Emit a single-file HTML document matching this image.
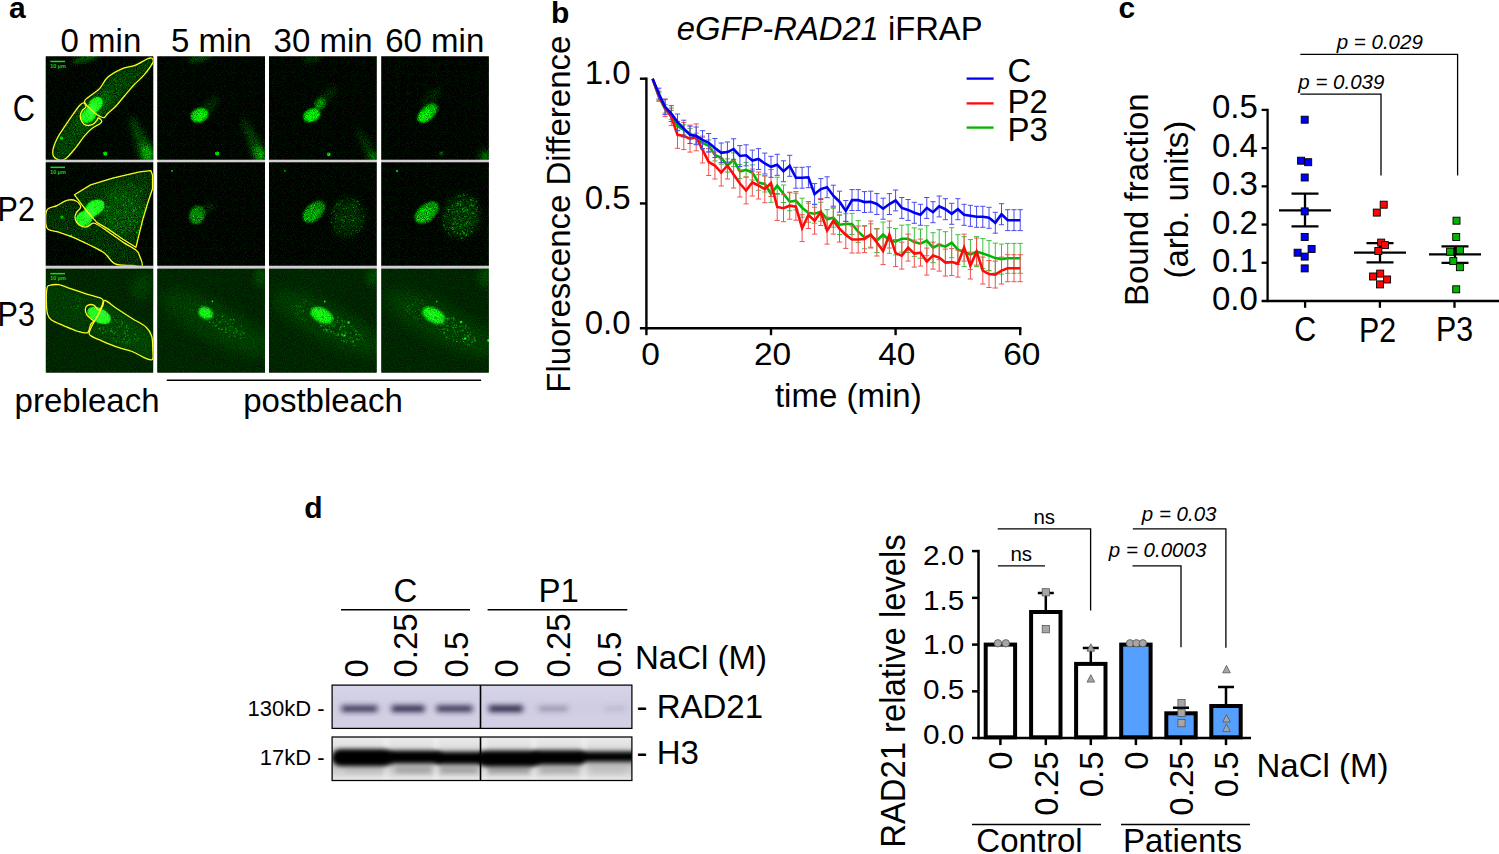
<!DOCTYPE html>
<html><head><meta charset="utf-8"><title>Figure</title>
<style>
html,body{margin:0;padding:0;background:#fff;}
body{width:1499px;height:854px;overflow:hidden;font-family:"Liberation Sans",sans-serif;}
svg{display:block;}
svg text{font-family:"Liberation Sans",sans-serif;}
</style></head><body>
<svg width="1499" height="854" viewBox="0 0 1499 854">
<defs>
<filter id="bl0_6" x="-50%" y="-50%" width="200%" height="200%"><feGaussianBlur stdDeviation="0.6"/></filter>
<filter id="bl0_8" x="-50%" y="-50%" width="200%" height="200%"><feGaussianBlur stdDeviation="0.8"/></filter>
<filter id="bl1" x="-50%" y="-50%" width="200%" height="200%"><feGaussianBlur stdDeviation="1"/></filter>
<filter id="bl1_2" x="-50%" y="-50%" width="200%" height="200%"><feGaussianBlur stdDeviation="1.2"/></filter>
<filter id="bl1_5" x="-50%" y="-50%" width="200%" height="200%"><feGaussianBlur stdDeviation="1.5"/></filter>
<filter id="bl2" x="-50%" y="-50%" width="200%" height="200%"><feGaussianBlur stdDeviation="2"/></filter>
<filter id="bl2_5" x="-50%" y="-50%" width="200%" height="200%"><feGaussianBlur stdDeviation="2.5"/></filter>
<filter id="bl3" x="-50%" y="-50%" width="200%" height="200%"><feGaussianBlur stdDeviation="3"/></filter>
<filter id="bl4" x="-50%" y="-50%" width="200%" height="200%"><feGaussianBlur stdDeviation="4"/></filter>
<filter id="bl5" x="-50%" y="-50%" width="200%" height="200%"><feGaussianBlur stdDeviation="5"/></filter>
<filter id="bl6" x="-50%" y="-50%" width="200%" height="200%"><feGaussianBlur stdDeviation="6"/></filter>
<filter id="bl8" x="-50%" y="-50%" width="200%" height="200%"><feGaussianBlur stdDeviation="8"/></filter>
<clipPath id="cp1"><rect x="0" y="0" width="107.8" height="103.5"/></clipPath>
<filter id="nz1" filterUnits="userSpaceOnUse" x="0" y="0" width="107.8" height="103.5" color-interpolation-filters="sRGB"><feTurbulence type="fractalNoise" baseFrequency="1.1" numOctaves="1" seed="4" result="t"/><feColorMatrix in="t" type="matrix" values="0 0 0 0 0  1.5 0 0 0 -0.25  0 0 0 0 0  0 0 0 0 1" result="n"/><feComposite in="SourceGraphic" in2="n" operator="arithmetic" k1="1.1" k2="0.47" k3="0.26" k4="-0.135"/></filter>
<clipPath id="cp2"><rect x="0" y="0" width="107.8" height="103.5"/></clipPath>
<filter id="nz2" filterUnits="userSpaceOnUse" x="0" y="0" width="107.8" height="103.5" color-interpolation-filters="sRGB"><feTurbulence type="fractalNoise" baseFrequency="1.1" numOctaves="1" seed="7" result="t"/><feColorMatrix in="t" type="matrix" values="0 0 0 0 0  1.5 0 0 0 -0.25  0 0 0 0 0  0 0 0 0 1" result="n"/><feComposite in="SourceGraphic" in2="n" operator="arithmetic" k1="1.1" k2="0.47" k3="0.26" k4="-0.135"/></filter>
<clipPath id="cp3"><rect x="0" y="0" width="107.8" height="103.5"/></clipPath>
<filter id="nz3" filterUnits="userSpaceOnUse" x="0" y="0" width="107.8" height="103.5" color-interpolation-filters="sRGB"><feTurbulence type="fractalNoise" baseFrequency="1.1" numOctaves="1" seed="10" result="t"/><feColorMatrix in="t" type="matrix" values="0 0 0 0 0  1.5 0 0 0 -0.25  0 0 0 0 0  0 0 0 0 1" result="n"/><feComposite in="SourceGraphic" in2="n" operator="arithmetic" k1="1.1" k2="0.47" k3="0.26" k4="-0.135"/></filter>
<clipPath id="cp4"><rect x="0" y="0" width="107.7" height="103.5"/></clipPath>
<filter id="nz4" filterUnits="userSpaceOnUse" x="0" y="0" width="107.7" height="103.5" color-interpolation-filters="sRGB"><feTurbulence type="fractalNoise" baseFrequency="1.1" numOctaves="1" seed="13" result="t"/><feColorMatrix in="t" type="matrix" values="0 0 0 0 0  1.5 0 0 0 -0.25  0 0 0 0 0  0 0 0 0 1" result="n"/><feComposite in="SourceGraphic" in2="n" operator="arithmetic" k1="1.1" k2="0.47" k3="0.26" k4="-0.135"/></filter>
<clipPath id="cp5"><rect x="0" y="0" width="107.8" height="103.6"/></clipPath>
<filter id="nz5" filterUnits="userSpaceOnUse" x="0" y="0" width="107.8" height="103.6" color-interpolation-filters="sRGB"><feTurbulence type="fractalNoise" baseFrequency="1.1" numOctaves="1" seed="16" result="t"/><feColorMatrix in="t" type="matrix" values="0 0 0 0 0  1.5 0 0 0 -0.25  0 0 0 0 0  0 0 0 0 1" result="n"/><feComposite in="SourceGraphic" in2="n" operator="arithmetic" k1="1.1" k2="0.47" k3="0.26" k4="-0.135"/></filter>
<clipPath id="cp6"><rect x="0" y="0" width="107.8" height="103.6"/></clipPath>
<filter id="nz6" filterUnits="userSpaceOnUse" x="0" y="0" width="107.8" height="103.6" color-interpolation-filters="sRGB"><feTurbulence type="fractalNoise" baseFrequency="1.1" numOctaves="1" seed="19" result="t"/><feColorMatrix in="t" type="matrix" values="0 0 0 0 0  1.5 0 0 0 -0.25  0 0 0 0 0  0 0 0 0 1" result="n"/><feComposite in="SourceGraphic" in2="n" operator="arithmetic" k1="1.1" k2="0.47" k3="0.26" k4="-0.135"/></filter>
<clipPath id="cp7"><rect x="0" y="0" width="107.8" height="103.6"/></clipPath>
<filter id="nz7" filterUnits="userSpaceOnUse" x="0" y="0" width="107.8" height="103.6" color-interpolation-filters="sRGB"><feTurbulence type="fractalNoise" baseFrequency="1.1" numOctaves="1" seed="22" result="t"/><feColorMatrix in="t" type="matrix" values="0 0 0 0 0  1.5 0 0 0 -0.25  0 0 0 0 0  0 0 0 0 1" result="n"/><feComposite in="SourceGraphic" in2="n" operator="arithmetic" k1="1.1" k2="0.47" k3="0.26" k4="-0.135"/></filter>
<clipPath id="cp8"><rect x="0" y="0" width="107.7" height="103.6"/></clipPath>
<filter id="nz8" filterUnits="userSpaceOnUse" x="0" y="0" width="107.7" height="103.6" color-interpolation-filters="sRGB"><feTurbulence type="fractalNoise" baseFrequency="1.1" numOctaves="1" seed="25" result="t"/><feColorMatrix in="t" type="matrix" values="0 0 0 0 0  1.5 0 0 0 -0.25  0 0 0 0 0  0 0 0 0 1" result="n"/><feComposite in="SourceGraphic" in2="n" operator="arithmetic" k1="1.1" k2="0.47" k3="0.26" k4="-0.135"/></filter>
<clipPath id="cp9"><rect x="0" y="0" width="107.8" height="104.2"/></clipPath>
<filter id="nz9" filterUnits="userSpaceOnUse" x="0" y="0" width="107.8" height="104.2" color-interpolation-filters="sRGB"><feTurbulence type="fractalNoise" baseFrequency="1.1" numOctaves="1" seed="28" result="t"/><feColorMatrix in="t" type="matrix" values="0 0 0 0 0  1.5 0 0 0 -0.25  0 0 0 0 0  0 0 0 0 1" result="n"/><feComposite in="SourceGraphic" in2="n" operator="arithmetic" k1="0.8" k2="0.6" k3="0.07" k4="-0.035"/></filter>
<clipPath id="cp10"><rect x="0" y="0" width="107.8" height="104.2"/></clipPath>
<filter id="nz10" filterUnits="userSpaceOnUse" x="0" y="0" width="107.8" height="104.2" color-interpolation-filters="sRGB"><feTurbulence type="fractalNoise" baseFrequency="1.1" numOctaves="1" seed="31" result="t"/><feColorMatrix in="t" type="matrix" values="0 0 0 0 0  1.5 0 0 0 -0.25  0 0 0 0 0  0 0 0 0 1" result="n"/><feComposite in="SourceGraphic" in2="n" operator="arithmetic" k1="0.8" k2="0.6" k3="0.07" k4="-0.035"/></filter>
<clipPath id="cp11"><rect x="0" y="0" width="107.8" height="104.2"/></clipPath>
<filter id="nz11" filterUnits="userSpaceOnUse" x="0" y="0" width="107.8" height="104.2" color-interpolation-filters="sRGB"><feTurbulence type="fractalNoise" baseFrequency="1.1" numOctaves="1" seed="34" result="t"/><feColorMatrix in="t" type="matrix" values="0 0 0 0 0  1.5 0 0 0 -0.25  0 0 0 0 0  0 0 0 0 1" result="n"/><feComposite in="SourceGraphic" in2="n" operator="arithmetic" k1="0.8" k2="0.6" k3="0.07" k4="-0.035"/></filter>
<clipPath id="cp12"><rect x="0" y="0" width="107.7" height="104.2"/></clipPath>
<filter id="nz12" filterUnits="userSpaceOnUse" x="0" y="0" width="107.7" height="104.2" color-interpolation-filters="sRGB"><feTurbulence type="fractalNoise" baseFrequency="1.1" numOctaves="1" seed="37" result="t"/><feColorMatrix in="t" type="matrix" values="0 0 0 0 0  1.5 0 0 0 -0.25  0 0 0 0 0  0 0 0 0 1" result="n"/><feComposite in="SourceGraphic" in2="n" operator="arithmetic" k1="0.8" k2="0.6" k3="0.07" k4="-0.035"/></filter>
<clipPath id="cpR"><rect x="332.1" y="685.1" width="299.79999999999995" height="43.299999999999955"/></clipPath>
<clipPath id="cpH"><rect x="332.1" y="737.0" width="299.79999999999995" height="43.5"/></clipPath>
<linearGradient id="gH" x1="0" y1="0" x2="0" y2="1"><stop offset="0" stop-color="#ececec"/><stop offset="0.2" stop-color="#e0e0e0"/><stop offset="0.33" stop-color="#c8c8c8"/><stop offset="0.5" stop-color="#a8a8a8"/><stop offset="0.68" stop-color="#c2c2c2"/><stop offset="0.85" stop-color="#d4d4d4"/><stop offset="1" stop-color="#ebebeb"/></linearGradient>
<linearGradient id="gR" x1="0" y1="0" x2="0" y2="1"><stop offset="0" stop-color="#d6d4e8"/><stop offset="0.5" stop-color="#d0cde3"/><stop offset="1" stop-color="#d3d1e6"/></linearGradient>
</defs>
<rect x="0" y="0" width="1499" height="854" fill="#fff"/>
<rect x="45.6" y="56.3" width="443.29999999999995" height="316.4" fill="#fff"/>
<rect x="45.6" y="159.6" width="443.29999999999995" height="2.8" fill="#d0d0d0"/>
<rect x="45.6" y="265.6" width="443.29999999999995" height="3.1" fill="#d0d0d0"/>
<rect x="153.5" y="56.3" width="4.2" height="316.4" fill="#fff"/>
<rect x="265.0" y="56.3" width="4.2" height="316.4" fill="#fff"/>
<rect x="376.8" y="56.3" width="4.2" height="316.4" fill="#fff"/>
<g transform="translate(45.6,56.3)" clip-path="url(#cp1)"><g filter="url(#nz1)"><rect x="0" y="0" width="107.8" height="103.5" fill="#000500"/><path d="M38.9,45.1 C41.0,43.3 44.0,40.4 46.6,38.2 C49.2,36.0 51.7,34.9 54.2,32.1 C56.8,29.3 58.3,24.5 61.9,21.3 C65.5,18.1 71.1,15.0 75.7,12.9 C80.3,10.8 85.2,10.7 89.5,9.0 C93.8,7.3 99.0,3.8 101.8,2.6 C104.6,1.4 105.5,1.4 106.4,2.0 C107.3,2.6 108.5,3.6 107.2,6.3 C105.9,9.0 101.9,14.5 98.7,18.3 C95.5,22.1 91.3,25.4 88.0,29.0 C84.7,32.6 81.9,36.1 78.8,39.7 C75.7,43.3 72.4,47.5 69.6,50.5 C66.8,53.5 64.1,55.0 61.9,57.4 C59.6,59.8 57.4,62.9 56.1,64.6 C54.8,66.3 55.8,66.2 54.2,67.4 C52.6,68.6 49.2,70.0 46.6,72.0 C44.0,74.0 41.7,76.3 38.9,79.6 C36.1,82.9 32.8,88.2 29.7,91.9 C26.6,95.6 23.1,99.9 20.5,101.9 C17.9,103.9 16.4,104.2 14.3,103.9 C12.2,103.6 9.3,102.0 8.2,100.3 C7.0,98.5 6.9,96.3 7.4,93.4 C7.9,90.5 9.4,86.5 11.3,82.7 C13.2,78.9 16.3,74.5 19.0,70.4 C21.7,66.3 24.8,61.7 27.4,58.1 C29.9,54.5 32.4,51.1 34.3,48.9 C36.2,46.7 36.8,46.9 38.9,45.1Z" fill="#135213" opacity="0.75" filter="url(#bl2)"/><ellipse cx="50" cy="52" rx="22" ry="7" transform="rotate(-48 50 52)" fill="#1f7a1f" opacity="0.55" filter="url(#bl3)"/><circle cx="46.5" cy="60.1" r="0.66" fill="#2e9a2e" opacity="0.23"/><circle cx="30.3" cy="72.3" r="0.42" fill="#2e9a2e" opacity="0.40"/><circle cx="71.5" cy="30.0" r="0.43" fill="#2e9a2e" opacity="0.24"/><circle cx="26.5" cy="83.1" r="0.45" fill="#2e9a2e" opacity="0.29"/><circle cx="24.1" cy="72.4" r="0.63" fill="#2e9a2e" opacity="0.36"/><circle cx="56.7" cy="44.2" r="0.74" fill="#2e9a2e" opacity="0.32"/><circle cx="58.4" cy="45.9" r="0.52" fill="#2e9a2e" opacity="0.53"/><circle cx="64.4" cy="44.2" r="0.66" fill="#2e9a2e" opacity="0.35"/><circle cx="41.9" cy="60.1" r="0.42" fill="#2e9a2e" opacity="0.28"/><circle cx="37.6" cy="58.7" r="0.53" fill="#2e9a2e" opacity="0.43"/><circle cx="34.1" cy="71.5" r="0.72" fill="#2e9a2e" opacity="0.48"/><circle cx="55.4" cy="55.1" r="0.61" fill="#2e9a2e" opacity="0.55"/><circle cx="44.6" cy="51.6" r="0.79" fill="#2e9a2e" opacity="0.25"/><circle cx="28.2" cy="81.3" r="0.46" fill="#2e9a2e" opacity="0.40"/><circle cx="76.6" cy="24.8" r="0.71" fill="#2e9a2e" opacity="0.43"/><circle cx="60.4" cy="35.7" r="0.68" fill="#2e9a2e" opacity="0.44"/><circle cx="29.1" cy="71.4" r="0.74" fill="#2e9a2e" opacity="0.58"/><circle cx="25.0" cy="81.4" r="0.42" fill="#2e9a2e" opacity="0.48"/><circle cx="26.0" cy="69.2" r="0.73" fill="#2e9a2e" opacity="0.31"/><circle cx="33.4" cy="76.9" r="0.41" fill="#2e9a2e" opacity="0.38"/><circle cx="57.2" cy="47.6" r="0.42" fill="#2e9a2e" opacity="0.51"/><circle cx="63.1" cy="41.7" r="0.56" fill="#2e9a2e" opacity="0.55"/><circle cx="70.8" cy="32.8" r="0.62" fill="#2e9a2e" opacity="0.55"/><circle cx="57.6" cy="33.5" r="0.51" fill="#2e9a2e" opacity="0.37"/><circle cx="35.3" cy="77.1" r="0.78" fill="#2e9a2e" opacity="0.26"/><circle cx="59.5" cy="46.6" r="0.49" fill="#2e9a2e" opacity="0.39"/><circle cx="34.4" cy="66.0" r="0.40" fill="#2e9a2e" opacity="0.37"/><circle cx="36.8" cy="73.2" r="0.78" fill="#2e9a2e" opacity="0.48"/><circle cx="24.4" cy="79.5" r="0.67" fill="#2e9a2e" opacity="0.22"/><circle cx="69.8" cy="23.8" r="0.75" fill="#2e9a2e" opacity="0.52"/><circle cx="36.5" cy="71.7" r="0.44" fill="#2e9a2e" opacity="0.45"/><circle cx="58.3" cy="44.0" r="0.48" fill="#2e9a2e" opacity="0.26"/><circle cx="47.2" cy="57.4" r="0.40" fill="#2e9a2e" opacity="0.26"/><circle cx="67.7" cy="36.6" r="0.41" fill="#2e9a2e" opacity="0.55"/><circle cx="39.2" cy="61.0" r="0.50" fill="#2e9a2e" opacity="0.34"/><circle cx="44.2" cy="61.6" r="0.74" fill="#2e9a2e" opacity="0.60"/><circle cx="29.0" cy="77.0" r="0.43" fill="#2e9a2e" opacity="0.24"/><circle cx="43.5" cy="64.4" r="0.73" fill="#2e9a2e" opacity="0.26"/><circle cx="81.8" cy="18.3" r="0.61" fill="#2e9a2e" opacity="0.26"/><circle cx="44.6" cy="57.4" r="0.61" fill="#2e9a2e" opacity="0.59"/><circle cx="63.8" cy="29.2" r="0.50" fill="#2e9a2e" opacity="0.35"/><circle cx="68.6" cy="40.5" r="0.61" fill="#2e9a2e" opacity="0.51"/><circle cx="45.2" cy="62.3" r="0.72" fill="#2e9a2e" opacity="0.59"/><circle cx="63.1" cy="28.9" r="0.73" fill="#2e9a2e" opacity="0.50"/><circle cx="57.6" cy="52.1" r="0.54" fill="#2e9a2e" opacity="0.21"/><circle cx="67.3" cy="33.9" r="0.50" fill="#2e9a2e" opacity="0.48"/><circle cx="69.6" cy="28.1" r="0.77" fill="#2e9a2e" opacity="0.60"/><circle cx="67.6" cy="30.4" r="0.49" fill="#2e9a2e" opacity="0.29"/><circle cx="57.3" cy="49.0" r="0.65" fill="#2e9a2e" opacity="0.56"/><circle cx="58.5" cy="35.6" r="0.66" fill="#2e9a2e" opacity="0.52"/><circle cx="74.9" cy="29.2" r="0.76" fill="#2e9a2e" opacity="0.51"/><circle cx="45.9" cy="48.3" r="0.47" fill="#2e9a2e" opacity="0.52"/><circle cx="40.4" cy="72.0" r="0.79" fill="#2e9a2e" opacity="0.36"/><circle cx="27.9" cy="83.3" r="0.69" fill="#2e9a2e" opacity="0.27"/><circle cx="60.4" cy="43.8" r="0.76" fill="#2e9a2e" opacity="0.52"/><circle cx="72.0" cy="36.2" r="0.79" fill="#2e9a2e" opacity="0.46"/><circle cx="39.5" cy="70.8" r="0.45" fill="#2e9a2e" opacity="0.21"/><circle cx="74.6" cy="22.9" r="0.61" fill="#2e9a2e" opacity="0.57"/><circle cx="24.8" cy="84.5" r="0.73" fill="#2e9a2e" opacity="0.28"/><circle cx="53.0" cy="55.1" r="0.50" fill="#2e9a2e" opacity="0.43"/><circle cx="52.6" cy="56.8" r="0.45" fill="#2e9a2e" opacity="0.56"/><circle cx="40.0" cy="69.5" r="0.63" fill="#2e9a2e" opacity="0.56"/><circle cx="25.7" cy="84.5" r="0.60" fill="#2e9a2e" opacity="0.41"/><circle cx="45.5" cy="56.7" r="0.58" fill="#2e9a2e" opacity="0.27"/><circle cx="78.8" cy="20.2" r="0.47" fill="#2e9a2e" opacity="0.39"/><circle cx="41.9" cy="52.2" r="0.53" fill="#2e9a2e" opacity="0.41"/><circle cx="21.5" cy="80.1" r="0.44" fill="#2e9a2e" opacity="0.42"/><circle cx="53.3" cy="54.6" r="0.71" fill="#2e9a2e" opacity="0.40"/><circle cx="22.1" cy="79.0" r="0.76" fill="#2e9a2e" opacity="0.38"/><circle cx="29.9" cy="68.8" r="0.60" fill="#2e9a2e" opacity="0.48"/><circle cx="28.9" cy="78.0" r="0.59" fill="#2e9a2e" opacity="0.58"/><circle cx="35.3" cy="57.7" r="0.78" fill="#2e9a2e" opacity="0.30"/><circle cx="18.9" cy="82.4" r="0.74" fill="#2e9a2e" opacity="0.25"/><circle cx="68.2" cy="37.3" r="0.43" fill="#2e9a2e" opacity="0.30"/><circle cx="75.7" cy="27.8" r="0.71" fill="#2e9a2e" opacity="0.56"/><circle cx="69.5" cy="38.7" r="0.66" fill="#2e9a2e" opacity="0.26"/><circle cx="69.5" cy="22.5" r="0.49" fill="#2e9a2e" opacity="0.58"/><circle cx="34.5" cy="74.2" r="0.80" fill="#2e9a2e" opacity="0.53"/><circle cx="64.5" cy="42.6" r="0.61" fill="#2e9a2e" opacity="0.34"/><circle cx="59.2" cy="48.1" r="0.69" fill="#2e9a2e" opacity="0.21"/><circle cx="28.6" cy="73.1" r="0.41" fill="#2e9a2e" opacity="0.33"/><circle cx="30.6" cy="67.5" r="0.43" fill="#2e9a2e" opacity="0.59"/><circle cx="51.9" cy="38.5" r="0.44" fill="#2e9a2e" opacity="0.31"/><circle cx="78.8" cy="22.6" r="0.51" fill="#2e9a2e" opacity="0.25"/><circle cx="25.6" cy="84.5" r="0.73" fill="#2e9a2e" opacity="0.30"/><circle cx="72.8" cy="35.9" r="0.63" fill="#2e9a2e" opacity="0.48"/><circle cx="57.3" cy="45.4" r="0.68" fill="#2e9a2e" opacity="0.37"/><circle cx="80.5" cy="23.2" r="0.65" fill="#2e9a2e" opacity="0.52"/><circle cx="78.5" cy="25.9" r="0.43" fill="#2e9a2e" opacity="0.55"/><circle cx="33.1" cy="72.8" r="0.62" fill="#2e9a2e" opacity="0.57"/><ellipse cx="40.4" cy="2.0" rx="14" ry="3.5" transform="rotate(-15 40.4 2.0)" fill="#1f7a1f" opacity="0.7" filter="url(#bl2)"/><path d="M83,60 L87,60 L108,90 L108,104 L94,104 Z" fill="#187018" opacity="0.6" filter="url(#bl3)"/><path d="M95,88 L102,89 L108,97 L108,104 L98,104 Z" fill="#34c434" opacity="0.8" filter="url(#bl2_5)"/><ellipse cx="49.8" cy="48.4" rx="8.6" ry="6.2" transform="rotate(-48 49.8 48.4)" fill="#25f025" opacity="1" filter="url(#bl0_6)"/><ellipse cx="42.6" cy="59.3" rx="8.3" ry="6.4" transform="rotate(-40 42.6 59.3)" fill="#25f025" opacity="1" filter="url(#bl0_6)"/><ellipse cx="46" cy="54" rx="6" ry="5" transform="rotate(-48 46 54)" fill="#2cf52c" opacity="1" filter="url(#bl0_6)"/><circle cx="15.9" cy="81.9" r="1.7" fill="#35d035" filter="url(#bl0_6)"/><circle cx="59.6" cy="97.3" r="2.2" fill="#3fe83f" filter="url(#bl0_6)"/></g><ellipse cx="49.8" cy="48.4" rx="8.0" ry="5.6" transform="rotate(-48 49.8 48.4)" fill="#3cff3c" opacity="0.55" filter="url(#bl1)"/><ellipse cx="42.6" cy="59.3" rx="7.6" ry="5.8" transform="rotate(-40 42.6 59.3)" fill="#3cff3c" opacity="0.55" filter="url(#bl1)"/><ellipse cx="46" cy="54" rx="5.5" ry="4.5" transform="rotate(-48 46 54)" fill="#3cff3c" opacity="0.5" filter="url(#bl1)"/><path d="M38.9,45.1 C39.2,42.7 44.0,40.4 46.6,38.2 C49.2,36.0 51.7,34.9 54.2,32.1 C56.8,29.3 58.3,24.5 61.9,21.3 C65.5,18.1 71.1,15.0 75.7,12.9 C80.3,10.8 85.2,10.7 89.5,9.0 C93.8,7.3 99.0,3.8 101.8,2.6 C104.6,1.4 105.5,1.4 106.4,2.0 C107.3,2.6 108.5,3.6 107.2,6.3 C105.9,9.0 101.9,14.5 98.7,18.3 C95.5,22.1 91.3,25.4 88.0,29.0 C84.7,32.6 81.9,36.1 78.8,39.7 C75.7,43.3 72.4,47.5 69.6,50.5 C66.8,53.5 63.7,55.6 61.9,57.4 C60.1,59.2 59.9,60.7 58.8,61.2 C57.6,61.7 56.3,60.9 55.0,60.4 C53.7,59.9 52.9,59.4 51.2,58.1 C49.5,56.8 47.0,55.0 45.0,52.8 C43.0,50.6 38.6,47.5 38.9,45.1Z" fill="none" stroke="#fafa1e" stroke-width="1.3"/><path d="M38.1,46.6 C37.1,46.3 36.1,47.0 34.3,48.9 C32.5,50.8 29.9,54.5 27.4,58.1 C24.8,61.7 21.7,66.3 19.0,70.4 C16.3,74.5 13.2,78.9 11.3,82.7 C9.4,86.5 7.9,90.5 7.4,93.4 C6.9,96.3 7.0,98.5 8.2,100.3 C9.3,102.0 12.2,103.6 14.3,103.9 C16.4,104.2 17.9,103.9 20.5,101.9 C23.1,99.9 26.6,95.6 29.7,91.9 C32.8,88.2 36.1,82.9 38.9,79.6 C41.7,76.3 44.0,74.0 46.6,72.0 C49.2,70.0 52.6,68.6 54.2,67.4 C55.8,66.2 56.4,65.5 56.1,64.6 C55.9,63.6 53.6,61.7 52.7,61.7 C51.8,61.7 51.9,63.5 50.9,64.6 C49.9,65.7 48.4,67.7 46.6,68.4 C44.9,69.1 42.1,69.3 40.4,68.9 C38.7,68.5 37.6,67.3 36.6,65.8 C35.6,64.3 34.6,61.6 34.6,59.7 C34.6,57.8 35.6,55.8 36.6,54.3 C37.6,52.8 40.1,51.8 40.4,50.5 C40.6,49.2 39.1,46.9 38.1,46.6Z" fill="none" stroke="#fafa1e" stroke-width="1.3"/><rect x="4.8" y="4.4" width="14.6" height="1.5" fill="#10e010"/><text x="4.6" y="11.6" font-size="5.2" font-weight="bold" fill="#10d810" textLength="15.6" lengthAdjust="spacingAndGlyphs">10 µm</text></g>
<g transform="translate(157.2,56.3)" clip-path="url(#cp2)"><g filter="url(#nz2)"><rect x="0" y="0" width="107.8" height="103.5" fill="#000500"/><ellipse cx="42.4" cy="2.0" rx="12" ry="3" transform="rotate(-10 42.4 2.0)" fill="#1f7a1f" opacity="0.6" filter="url(#bl2)"/><ellipse cx="52" cy="50" rx="14" ry="5" transform="rotate(-45 52 50)" fill="#135513" opacity="0.5" filter="url(#bl3)"/><path d="M84,63 L88,63 L108,92 L108,104 L96,104 Z" fill="#187018" opacity="0.55" filter="url(#bl3)"/><path d="M97,90 L103,91 L108,98 L108,104 L99.5,104 Z" fill="#34c434" opacity="0.75" filter="url(#bl2_5)"/><ellipse cx="42.4" cy="58.9" rx="9.0" ry="6.8" transform="rotate(-20 42.4 58.9)" fill="#2fd82f" opacity="1" filter="url(#bl1)"/><ellipse cx="41.5" cy="60.5" rx="6" ry="4.2" transform="rotate(-20 41.5 60.5)" fill="#38ee38" opacity="0.8" filter="url(#bl1)"/><circle cx="60" cy="97.3" r="2.0" fill="#3fe83f" filter="url(#bl0_6)"/></g></g>
<g transform="translate(269.0,56.3)" clip-path="url(#cp3)"><g filter="url(#nz3)"><rect x="0" y="0" width="107.8" height="103.5" fill="#000500"/><ellipse cx="43" cy="3" rx="10" ry="3" transform="rotate(-10 43 3)" fill="#176517" opacity="0.5" filter="url(#bl2)"/><ellipse cx="58" cy="40" rx="14" ry="5" transform="rotate(-50 58 40)" fill="#0f4a0f" opacity="0.5" filter="url(#bl3)"/><path d="M86,72 L90,72 L108,95 L108,104 L99,104 Z" fill="#145c14" opacity="0.5" filter="url(#bl3)"/><path d="M100,96 L105,97 L108,101 L108,104 L102,104 Z" fill="#2db02d" opacity="0.65" filter="url(#bl2_5)"/><ellipse cx="51.2" cy="47.4" rx="6.0" ry="5.0" transform="rotate(-50 51.2 47.4)" fill="#229a22" opacity="0.85" filter="url(#bl1_5)"/><ellipse cx="42.8" cy="58.9" rx="8.9" ry="6.4" transform="rotate(-25 42.8 58.9)" fill="#2fdc2f" opacity="1" filter="url(#bl1)"/><ellipse cx="42.0" cy="60" rx="6" ry="4" transform="rotate(-25 42.0 60)" fill="#3af03a" opacity="0.8" filter="url(#bl1)"/><circle cx="59.7" cy="98" r="1.9" fill="#3fe03f" filter="url(#bl0_6)"/></g></g>
<g transform="translate(381.2,56.3)" clip-path="url(#cp4)"><g filter="url(#nz4)"><rect x="0" y="0" width="107.7" height="103.5" fill="#000500"/><ellipse cx="50" cy="42" rx="14" ry="5" transform="rotate(-50 50 42)" fill="#0f450f" opacity="0.5" filter="url(#bl3)"/><ellipse cx="104" cy="100" rx="6" ry="6" transform="rotate(0 104 100)" fill="#2aa02a" opacity="0.6" filter="url(#bl3)"/><ellipse cx="46.5" cy="56.6" rx="12.0" ry="6.6" transform="rotate(-42 46.5 56.6)" fill="#28b828" opacity="0.95" filter="url(#bl1_2)"/><ellipse cx="43.5" cy="59.6" rx="7.5" ry="5.0" transform="rotate(-35 43.5 59.6)" fill="#38e838" opacity="0.9" filter="url(#bl1_2)"/><circle cx="60.3" cy="97.3" r="1.6" fill="#2aa52a" filter="url(#bl1)"/></g></g>
<g transform="translate(45.6,162.2)" clip-path="url(#cp5)"><g filter="url(#nz5)"><rect x="0" y="0" width="107.8" height="103.6" fill="#000500"/><path d="M28.9,32.6 L45.0,22.7 L68.1,15.7 L94.1,9.6 L105.2,8.4 L106.9,12.7 L106.9,26.5 L101.8,41.8 L97.2,57.2 L93.4,72.5 L90.3,85.1 L77.3,77.1 L61.9,66.4 L51.2,60.2 L40.4,48.0Z" fill="#0d400d" opacity="0.85" filter="url(#bl1_5)"/><path d="M1.3,48.0 L11.3,43.4 L22.0,38.0 L30.5,38.8 L35.1,44.9 L30.5,51.0 L29.7,57.2 L33.5,62.5 L40.4,64.9 L47.3,61.0 L51.2,62.1 L61.9,69.1 L77.3,79.9 L90.3,87.9 L94.1,94.0 L96.4,103.7 L86.5,103.2 L69.6,101.7 L58.8,90.9 L45.0,83.3 L25.1,74.1 L11.3,69.5 L1.3,65.6Z" fill="#0c3c0c" opacity="0.8" filter="url(#bl1_5)"/><ellipse cx="76" cy="48" rx="20" ry="24" transform="rotate(15 76 48)" fill="#176817" opacity="0.5" filter="url(#bl5)"/><circle cx="76.4" cy="60.1" r="0.64" fill="#44c844" opacity="0.38"/><circle cx="84.6" cy="59.2" r="0.42" fill="#44c844" opacity="0.36"/><circle cx="71.6" cy="63.6" r="0.74" fill="#44c844" opacity="0.41"/><circle cx="71.0" cy="47.6" r="0.56" fill="#44c844" opacity="0.26"/><circle cx="79.0" cy="53.6" r="0.73" fill="#44c844" opacity="0.55"/><circle cx="80.5" cy="70.0" r="0.82" fill="#44c844" opacity="0.31"/><circle cx="90.5" cy="34.3" r="0.62" fill="#44c844" opacity="0.71"/><circle cx="64.7" cy="59.7" r="0.71" fill="#44c844" opacity="0.79"/><circle cx="63.4" cy="69.2" r="0.72" fill="#44c844" opacity="0.60"/><circle cx="67.1" cy="56.9" r="0.42" fill="#44c844" opacity="0.32"/><circle cx="93.6" cy="65.1" r="0.52" fill="#44c844" opacity="0.34"/><circle cx="93.2" cy="68.0" r="0.79" fill="#44c844" opacity="0.62"/><circle cx="74.2" cy="63.4" r="0.53" fill="#44c844" opacity="0.50"/><circle cx="83.5" cy="68.3" r="0.52" fill="#44c844" opacity="0.78"/><circle cx="96.5" cy="50.5" r="0.51" fill="#44c844" opacity="0.78"/><circle cx="71.0" cy="64.9" r="0.40" fill="#44c844" opacity="0.46"/><circle cx="64.2" cy="49.3" r="0.49" fill="#44c844" opacity="0.53"/><circle cx="90.8" cy="53.4" r="0.44" fill="#44c844" opacity="0.47"/><circle cx="82.8" cy="51.9" r="0.54" fill="#44c844" opacity="0.38"/><circle cx="69.6" cy="35.6" r="0.74" fill="#44c844" opacity="0.61"/><circle cx="82.9" cy="22.3" r="0.58" fill="#44c844" opacity="0.43"/><circle cx="88.5" cy="51.1" r="0.73" fill="#44c844" opacity="0.60"/><circle cx="96.8" cy="62.2" r="0.80" fill="#44c844" opacity="0.60"/><circle cx="85.0" cy="23.5" r="0.46" fill="#44c844" opacity="0.54"/><circle cx="60.8" cy="44.1" r="0.76" fill="#44c844" opacity="0.70"/><circle cx="66.4" cy="31.6" r="0.71" fill="#44c844" opacity="0.63"/><circle cx="79.1" cy="55.2" r="0.46" fill="#44c844" opacity="0.45"/><circle cx="91.0" cy="70.3" r="0.65" fill="#44c844" opacity="0.60"/><circle cx="72.3" cy="29.7" r="0.62" fill="#44c844" opacity="0.25"/><circle cx="91.8" cy="27.5" r="0.63" fill="#44c844" opacity="0.54"/><circle cx="78.7" cy="42.9" r="0.73" fill="#44c844" opacity="0.39"/><circle cx="88.0" cy="59.4" r="0.73" fill="#44c844" opacity="0.36"/><circle cx="86.3" cy="21.1" r="0.62" fill="#44c844" opacity="0.46"/><circle cx="61.7" cy="48.5" r="0.75" fill="#44c844" opacity="0.59"/><circle cx="78.0" cy="42.7" r="0.47" fill="#44c844" opacity="0.39"/><circle cx="83.8" cy="33.9" r="0.66" fill="#44c844" opacity="0.26"/><circle cx="88.7" cy="58.3" r="0.70" fill="#44c844" opacity="0.63"/><circle cx="78.6" cy="34.7" r="0.63" fill="#44c844" opacity="0.51"/><circle cx="72.3" cy="50.2" r="0.80" fill="#44c844" opacity="0.36"/><circle cx="101.4" cy="51.6" r="0.41" fill="#44c844" opacity="0.50"/><circle cx="95.8" cy="26.6" r="0.60" fill="#44c844" opacity="0.40"/><circle cx="77.8" cy="78.7" r="0.49" fill="#44c844" opacity="0.57"/><circle cx="85.3" cy="68.9" r="0.83" fill="#44c844" opacity="0.32"/><circle cx="91.5" cy="33.0" r="0.80" fill="#44c844" opacity="0.64"/><circle cx="75.0" cy="77.9" r="0.62" fill="#44c844" opacity="0.26"/><circle cx="94.8" cy="54.5" r="0.60" fill="#44c844" opacity="0.42"/><circle cx="84.4" cy="65.3" r="0.54" fill="#44c844" opacity="0.71"/><circle cx="98.3" cy="55.2" r="0.78" fill="#44c844" opacity="0.32"/><circle cx="99.0" cy="43.4" r="0.81" fill="#44c844" opacity="0.41"/><circle cx="67.2" cy="60.6" r="0.85" fill="#44c844" opacity="0.57"/><circle cx="67.2" cy="62.2" r="0.52" fill="#44c844" opacity="0.28"/><circle cx="91.4" cy="70.0" r="0.53" fill="#44c844" opacity="0.76"/><circle cx="76.0" cy="65.0" r="0.63" fill="#44c844" opacity="0.35"/><circle cx="60.0" cy="66.3" r="0.80" fill="#44c844" opacity="0.70"/><circle cx="71.6" cy="26.0" r="0.82" fill="#44c844" opacity="0.55"/><circle cx="80.8" cy="43.4" r="0.73" fill="#44c844" opacity="0.50"/><circle cx="86.5" cy="26.8" r="0.53" fill="#44c844" opacity="0.28"/><circle cx="88.0" cy="47.2" r="0.61" fill="#44c844" opacity="0.44"/><circle cx="68.2" cy="72.4" r="0.84" fill="#44c844" opacity="0.39"/><circle cx="77.0" cy="35.1" r="0.65" fill="#44c844" opacity="0.47"/><circle cx="81.5" cy="61.3" r="0.49" fill="#44c844" opacity="0.75"/><circle cx="70.0" cy="47.6" r="0.81" fill="#44c844" opacity="0.80"/><circle cx="71.6" cy="51.3" r="0.49" fill="#44c844" opacity="0.30"/><circle cx="74.5" cy="56.4" r="0.51" fill="#44c844" opacity="0.39"/><circle cx="65.0" cy="33.6" r="0.74" fill="#44c844" opacity="0.48"/><circle cx="63.9" cy="57.3" r="0.57" fill="#44c844" opacity="0.44"/><circle cx="88.8" cy="58.6" r="0.84" fill="#44c844" opacity="0.32"/><circle cx="63.3" cy="45.0" r="0.79" fill="#44c844" opacity="0.37"/><circle cx="74.8" cy="63.9" r="0.58" fill="#44c844" opacity="0.50"/><circle cx="100.8" cy="47.4" r="0.79" fill="#44c844" opacity="0.26"/><circle cx="96.2" cy="59.6" r="0.80" fill="#44c844" opacity="0.51"/><circle cx="79.8" cy="49.7" r="0.58" fill="#44c844" opacity="0.76"/><circle cx="95.4" cy="28.6" r="0.84" fill="#44c844" opacity="0.39"/><circle cx="84.5" cy="58.9" r="0.64" fill="#44c844" opacity="0.63"/><circle cx="99.2" cy="45.7" r="0.69" fill="#44c844" opacity="0.67"/><circle cx="63.3" cy="51.6" r="0.42" fill="#44c844" opacity="0.68"/><circle cx="74.8" cy="78.2" r="0.69" fill="#44c844" opacity="0.42"/><circle cx="84.6" cy="62.5" r="0.69" fill="#44c844" opacity="0.63"/><circle cx="83.0" cy="56.1" r="0.64" fill="#44c844" opacity="0.57"/><circle cx="70.0" cy="56.8" r="0.67" fill="#44c844" opacity="0.26"/><circle cx="70.4" cy="67.4" r="0.83" fill="#44c844" opacity="0.60"/><circle cx="94.5" cy="39.6" r="0.51" fill="#44c844" opacity="0.39"/><circle cx="98.9" cy="48.7" r="0.54" fill="#44c844" opacity="0.26"/><circle cx="62.5" cy="45.6" r="0.59" fill="#44c844" opacity="0.39"/><circle cx="76.3" cy="23.1" r="0.50" fill="#44c844" opacity="0.27"/><circle cx="68.5" cy="64.0" r="0.71" fill="#44c844" opacity="0.36"/><circle cx="91.7" cy="27.6" r="0.63" fill="#44c844" opacity="0.36"/><circle cx="92.5" cy="50.1" r="0.77" fill="#44c844" opacity="0.38"/><circle cx="76.6" cy="75.8" r="0.53" fill="#44c844" opacity="0.77"/><circle cx="70.7" cy="47.9" r="0.50" fill="#44c844" opacity="0.48"/><circle cx="76.0" cy="22.9" r="0.47" fill="#44c844" opacity="0.47"/><circle cx="77.4" cy="79.1" r="0.46" fill="#44c844" opacity="0.28"/><circle cx="90.6" cy="60.0" r="0.80" fill="#44c844" opacity="0.74"/><circle cx="85.4" cy="20.6" r="0.82" fill="#44c844" opacity="0.43"/><circle cx="81.2" cy="77.9" r="0.74" fill="#44c844" opacity="0.27"/><circle cx="77.4" cy="32.9" r="0.57" fill="#44c844" opacity="0.43"/><circle cx="80.2" cy="51.5" r="0.53" fill="#44c844" opacity="0.44"/><circle cx="87.9" cy="49.1" r="0.83" fill="#44c844" opacity="0.36"/><circle cx="62.5" cy="67.4" r="0.77" fill="#44c844" opacity="0.49"/><circle cx="92.3" cy="59.8" r="0.57" fill="#44c844" opacity="0.76"/><circle cx="80.1" cy="67.6" r="0.80" fill="#44c844" opacity="0.27"/><circle cx="60.1" cy="59.5" r="0.75" fill="#44c844" opacity="0.27"/><circle cx="84.8" cy="53.0" r="0.81" fill="#44c844" opacity="0.39"/><circle cx="87.0" cy="22.4" r="0.55" fill="#44c844" opacity="0.40"/><circle cx="97.7" cy="48.3" r="0.52" fill="#44c844" opacity="0.64"/><circle cx="71.7" cy="62.7" r="0.40" fill="#44c844" opacity="0.67"/><circle cx="97.7" cy="42.4" r="0.82" fill="#44c844" opacity="0.26"/><circle cx="76.2" cy="70.3" r="0.83" fill="#44c844" opacity="0.77"/><circle cx="69.4" cy="57.3" r="0.59" fill="#44c844" opacity="0.52"/><circle cx="89.6" cy="46.8" r="0.76" fill="#44c844" opacity="0.66"/><circle cx="94.4" cy="29.4" r="0.67" fill="#44c844" opacity="0.43"/><circle cx="70.4" cy="64.3" r="0.75" fill="#44c844" opacity="0.29"/><circle cx="79.6" cy="75.4" r="0.51" fill="#44c844" opacity="0.29"/><circle cx="94.2" cy="58.7" r="0.55" fill="#44c844" opacity="0.79"/><circle cx="100.9" cy="35.0" r="0.52" fill="#44c844" opacity="0.30"/><circle cx="89.2" cy="65.0" r="0.72" fill="#44c844" opacity="0.50"/><circle cx="76.4" cy="69.0" r="0.68" fill="#44c844" opacity="0.62"/><circle cx="86.9" cy="23.3" r="0.70" fill="#44c844" opacity="0.32"/><circle cx="89.8" cy="38.5" r="0.66" fill="#44c844" opacity="0.46"/><circle cx="82.7" cy="36.9" r="0.51" fill="#44c844" opacity="0.38"/><circle cx="85.4" cy="75.4" r="0.66" fill="#44c844" opacity="0.43"/><circle cx="58.5" cy="63.0" r="0.63" fill="#44c844" opacity="0.38"/><circle cx="92.0" cy="29.8" r="0.85" fill="#44c844" opacity="0.31"/><circle cx="59.9" cy="49.1" r="0.78" fill="#44c844" opacity="0.75"/><circle cx="90.1" cy="56.9" r="0.45" fill="#44c844" opacity="0.35"/><circle cx="97.0" cy="50.5" r="0.82" fill="#44c844" opacity="0.45"/><circle cx="93.4" cy="38.1" r="0.52" fill="#44c844" opacity="0.68"/><circle cx="87.4" cy="48.6" r="0.67" fill="#44c844" opacity="0.59"/><circle cx="78.0" cy="67.9" r="0.46" fill="#44c844" opacity="0.36"/><circle cx="73.5" cy="72.3" r="0.69" fill="#44c844" opacity="0.36"/><circle cx="91.8" cy="54.4" r="0.71" fill="#44c844" opacity="0.35"/><circle cx="73.1" cy="61.1" r="0.76" fill="#44c844" opacity="0.55"/><circle cx="85.3" cy="55.2" r="0.58" fill="#44c844" opacity="0.55"/><circle cx="77.7" cy="42.2" r="0.47" fill="#44c844" opacity="0.63"/><circle cx="68.2" cy="55.7" r="0.54" fill="#44c844" opacity="0.77"/><circle cx="68.5" cy="68.5" r="0.56" fill="#44c844" opacity="0.48"/><circle cx="99.8" cy="31.9" r="0.56" fill="#44c844" opacity="0.36"/><circle cx="82.2" cy="36.7" r="0.40" fill="#44c844" opacity="0.75"/><circle cx="59.7" cy="57.5" r="0.58" fill="#44c844" opacity="0.74"/><circle cx="70.9" cy="50.6" r="0.41" fill="#44c844" opacity="0.55"/><circle cx="72.9" cy="25.2" r="0.44" fill="#44c844" opacity="0.59"/><circle cx="65.6" cy="62.1" r="0.47" fill="#44c844" opacity="0.41"/><circle cx="60.7" cy="40.9" r="0.45" fill="#44c844" opacity="0.52"/><circle cx="94.2" cy="25.1" r="0.49" fill="#44c844" opacity="0.32"/><circle cx="102.3" cy="45.2" r="0.62" fill="#44c844" opacity="0.28"/><circle cx="94.0" cy="45.1" r="0.81" fill="#44c844" opacity="0.59"/><circle cx="86.6" cy="40.7" r="0.75" fill="#44c844" opacity="0.37"/><circle cx="59.8" cy="60.7" r="0.77" fill="#44c844" opacity="0.35"/><circle cx="77.9" cy="68.7" r="0.63" fill="#44c844" opacity="0.46"/><circle cx="84.9" cy="62.1" r="0.73" fill="#44c844" opacity="0.74"/><circle cx="93.9" cy="59.7" r="0.74" fill="#44c844" opacity="0.27"/><circle cx="86.1" cy="42.6" r="0.67" fill="#44c844" opacity="0.55"/><circle cx="74.9" cy="36.3" r="0.59" fill="#44c844" opacity="0.57"/><circle cx="61.8" cy="56.5" r="0.60" fill="#44c844" opacity="0.49"/><circle cx="95.6" cy="57.8" r="0.62" fill="#44c844" opacity="0.38"/><circle cx="88.4" cy="24.9" r="0.61" fill="#44c844" opacity="0.35"/><circle cx="72.7" cy="49.8" r="0.46" fill="#44c844" opacity="0.49"/><circle cx="89.0" cy="63.7" r="0.63" fill="#44c844" opacity="0.27"/><circle cx="77.7" cy="42.6" r="0.73" fill="#44c844" opacity="0.68"/><circle cx="75.2" cy="48.2" r="0.63" fill="#44c844" opacity="0.46"/><circle cx="88.3" cy="48.8" r="0.79" fill="#44c844" opacity="0.80"/><circle cx="84.8" cy="23.4" r="0.49" fill="#44c844" opacity="0.79"/><circle cx="58.9" cy="45.9" r="0.81" fill="#44c844" opacity="0.34"/><circle cx="92.2" cy="24.2" r="0.43" fill="#44c844" opacity="0.44"/><circle cx="83.4" cy="38.6" r="0.80" fill="#44c844" opacity="0.40"/><circle cx="85.9" cy="40.8" r="0.63" fill="#44c844" opacity="0.76"/><circle cx="79.0" cy="65.1" r="0.63" fill="#44c844" opacity="0.43"/><circle cx="88.1" cy="55.2" r="0.47" fill="#44c844" opacity="0.77"/><circle cx="78.0" cy="22.9" r="0.48" fill="#44c844" opacity="0.68"/><circle cx="87.9" cy="67.1" r="0.69" fill="#44c844" opacity="0.45"/><circle cx="62.1" cy="82.8" r="0.63" fill="#2e9a2e" opacity="0.55"/><circle cx="59.5" cy="100.6" r="0.65" fill="#2e9a2e" opacity="0.36"/><circle cx="52.7" cy="77.0" r="0.80" fill="#2e9a2e" opacity="0.43"/><circle cx="25.9" cy="78.1" r="0.58" fill="#2e9a2e" opacity="0.27"/><circle cx="46.5" cy="77.3" r="0.73" fill="#2e9a2e" opacity="0.30"/><circle cx="35.5" cy="60.3" r="0.63" fill="#2e9a2e" opacity="0.47"/><circle cx="44.3" cy="80.2" r="0.41" fill="#2e9a2e" opacity="0.26"/><circle cx="36.5" cy="66.5" r="0.61" fill="#2e9a2e" opacity="0.56"/><circle cx="50.1" cy="89.6" r="0.66" fill="#2e9a2e" opacity="0.21"/><circle cx="59.6" cy="90.4" r="0.44" fill="#2e9a2e" opacity="0.34"/><circle cx="42.0" cy="90.8" r="0.64" fill="#2e9a2e" opacity="0.28"/><circle cx="36.8" cy="66.0" r="0.45" fill="#2e9a2e" opacity="0.57"/><circle cx="42.3" cy="84.7" r="0.44" fill="#2e9a2e" opacity="0.46"/><circle cx="65.1" cy="83.2" r="0.56" fill="#2e9a2e" opacity="0.31"/><circle cx="64.2" cy="94.4" r="0.62" fill="#2e9a2e" opacity="0.34"/><circle cx="39.3" cy="67.0" r="0.77" fill="#2e9a2e" opacity="0.49"/><circle cx="37.6" cy="91.1" r="0.42" fill="#2e9a2e" opacity="0.41"/><circle cx="32.9" cy="76.1" r="0.42" fill="#2e9a2e" opacity="0.51"/><circle cx="62.7" cy="93.4" r="0.78" fill="#2e9a2e" opacity="0.26"/><circle cx="45.0" cy="92.7" r="0.60" fill="#2e9a2e" opacity="0.46"/><circle cx="52.1" cy="78.4" r="0.52" fill="#2e9a2e" opacity="0.32"/><circle cx="64.8" cy="98.7" r="0.71" fill="#2e9a2e" opacity="0.49"/><circle cx="67.3" cy="96.2" r="0.70" fill="#2e9a2e" opacity="0.39"/><circle cx="49.5" cy="71.7" r="0.49" fill="#2e9a2e" opacity="0.24"/><circle cx="44.0" cy="82.6" r="0.53" fill="#2e9a2e" opacity="0.50"/><circle cx="44.3" cy="64.7" r="0.68" fill="#2e9a2e" opacity="0.31"/><circle cx="31.4" cy="66.8" r="0.72" fill="#2e9a2e" opacity="0.41"/><circle cx="36.7" cy="87.8" r="0.79" fill="#2e9a2e" opacity="0.29"/><circle cx="47.9" cy="80.6" r="0.50" fill="#2e9a2e" opacity="0.29"/><circle cx="51.9" cy="68.2" r="0.70" fill="#2e9a2e" opacity="0.33"/><circle cx="58.4" cy="82.7" r="0.50" fill="#2e9a2e" opacity="0.56"/><circle cx="36.0" cy="63.3" r="0.67" fill="#2e9a2e" opacity="0.59"/><circle cx="21.5" cy="66.5" r="0.68" fill="#2e9a2e" opacity="0.54"/><circle cx="23.1" cy="70.2" r="0.63" fill="#2e9a2e" opacity="0.32"/><circle cx="43.4" cy="92.0" r="0.43" fill="#2e9a2e" opacity="0.56"/><circle cx="46.4" cy="83.2" r="0.44" fill="#2e9a2e" opacity="0.57"/><circle cx="37.3" cy="79.9" r="0.41" fill="#2e9a2e" opacity="0.22"/><circle cx="44.1" cy="66.6" r="0.68" fill="#2e9a2e" opacity="0.49"/><circle cx="59.8" cy="95.6" r="0.55" fill="#2e9a2e" opacity="0.53"/><circle cx="61.7" cy="77.1" r="0.43" fill="#2e9a2e" opacity="0.55"/><circle cx="69.5" cy="88.7" r="0.44" fill="#2e9a2e" opacity="0.28"/><circle cx="47.5" cy="83.8" r="0.74" fill="#2e9a2e" opacity="0.52"/><circle cx="35.6" cy="61.8" r="0.65" fill="#2e9a2e" opacity="0.31"/><circle cx="49.7" cy="86.5" r="0.70" fill="#2e9a2e" opacity="0.28"/><circle cx="33.5" cy="82.1" r="0.41" fill="#2e9a2e" opacity="0.30"/><circle cx="34.1" cy="86.5" r="0.55" fill="#2e9a2e" opacity="0.33"/><circle cx="63.3" cy="90.1" r="0.74" fill="#2e9a2e" opacity="0.45"/><circle cx="59.5" cy="92.3" r="0.57" fill="#2e9a2e" opacity="0.51"/><circle cx="27.7" cy="79.6" r="0.62" fill="#2e9a2e" opacity="0.29"/><circle cx="51.6" cy="80.7" r="0.73" fill="#2e9a2e" opacity="0.27"/><circle cx="56.0" cy="87.8" r="0.70" fill="#2e9a2e" opacity="0.59"/><circle cx="62.1" cy="92.3" r="0.60" fill="#2e9a2e" opacity="0.52"/><circle cx="46.7" cy="92.2" r="0.54" fill="#2e9a2e" opacity="0.53"/><circle cx="35.6" cy="90.0" r="0.51" fill="#2e9a2e" opacity="0.29"/><circle cx="45.0" cy="68.5" r="0.44" fill="#2e9a2e" opacity="0.45"/><circle cx="60.6" cy="98.3" r="0.68" fill="#2e9a2e" opacity="0.51"/><circle cx="38.3" cy="68.0" r="0.56" fill="#2e9a2e" opacity="0.36"/><circle cx="52.1" cy="81.8" r="0.76" fill="#2e9a2e" opacity="0.21"/><circle cx="44.5" cy="88.1" r="0.76" fill="#2e9a2e" opacity="0.40"/><circle cx="23.0" cy="75.7" r="0.49" fill="#2e9a2e" opacity="0.38"/><ellipse cx="49" cy="45.5" rx="10.5" ry="7.3" transform="rotate(-30 49 45.5)" fill="#25f025" opacity="1" filter="url(#bl0_6)"/><ellipse cx="38.5" cy="56.5" rx="8.6" ry="7.6" transform="rotate(-30 38.5 56.5)" fill="#25f025" opacity="1" filter="url(#bl0_6)"/><ellipse cx="44" cy="51" rx="7" ry="6" transform="rotate(-35 44 51)" fill="#2cf52c" opacity="1" filter="url(#bl0_6)"/><circle cx="16.3" cy="54.9" r="1.6" fill="#35d035" filter="url(#bl0_6)"/><circle cx="25.5" cy="73.5" r="1.2" fill="#2db82d" filter="url(#bl0_6)"/></g><ellipse cx="49" cy="45.5" rx="9.8" ry="6.6" transform="rotate(-30 49 45.5)" fill="#3cff3c" opacity="0.55" filter="url(#bl1)"/><ellipse cx="38.5" cy="56.5" rx="7.9" ry="6.9" transform="rotate(-30 38.5 56.5)" fill="#3cff3c" opacity="0.55" filter="url(#bl1)"/><ellipse cx="44" cy="51" rx="6.4" ry="5.4" transform="rotate(-35 44 51)" fill="#3cff3c" opacity="0.5" filter="url(#bl1)"/><path d="M28.9,32.6 L45.0,22.7 L68.1,15.7 L94.1,9.6 L105.2,8.4 L106.9,12.7 L106.9,26.5 L101.8,41.8 L97.2,57.2 L93.4,72.5 L90.3,85.1 L77.3,77.1 L61.9,66.4 L51.2,60.2 L40.4,48.0Z" fill="none" stroke="#fafa1e" stroke-width="1.3" stroke-linejoin="round"/><path d="M1.3,48.0 C3.0,44.3 7.9,45.1 11.3,43.4 C14.8,41.7 18.8,38.8 22.0,38.0 C25.2,37.2 28.3,37.6 30.5,38.8 C32.7,39.9 35.1,42.9 35.1,44.9 C35.1,46.9 31.4,49.0 30.5,51.0 C29.6,53.0 29.2,55.3 29.7,57.2 C30.2,59.1 31.7,61.2 33.5,62.5 C35.3,63.8 38.1,65.2 40.4,64.9 C42.7,64.7 45.5,61.5 47.3,61.0 C49.1,60.5 48.8,60.8 51.2,62.1 C53.6,63.5 57.5,66.1 61.9,69.1 C66.2,72.1 72.6,76.8 77.3,79.9 C82.0,83.0 87.5,85.6 90.3,87.9 C93.1,90.2 93.1,91.4 94.1,94.0 C95.1,96.6 97.7,102.2 96.4,103.7 C95.1,105.2 91.0,103.5 86.5,103.2 C82.0,102.9 74.2,103.8 69.6,101.7 C65.0,99.7 62.9,94.0 58.8,90.9 C54.7,87.8 50.6,86.1 45.0,83.3 C39.4,80.5 30.7,76.4 25.1,74.1 C19.5,71.8 15.3,70.9 11.3,69.5 C7.3,68.1 3.0,69.2 1.3,65.6 C-0.4,62.0 -0.4,51.7 1.3,48.0Z" fill="none" stroke="#fafa1e" stroke-width="1.3"/><rect x="4.8" y="4.4" width="14.6" height="1.5" fill="#10e010"/><text x="4.6" y="11.6" font-size="5.2" font-weight="bold" fill="#10d810" textLength="15.6" lengthAdjust="spacingAndGlyphs">10 µm</text></g>
<g transform="translate(157.2,162.2)" clip-path="url(#cp6)"><g filter="url(#nz6)"><rect x="0" y="0" width="107.8" height="103.6" fill="#000500"/><ellipse cx="40.1" cy="52.6" rx="8.0" ry="9.6" transform="rotate(25 40.1 52.6)" fill="#1a7a1a" opacity="0.9" filter="url(#bl1_2)"/><ellipse cx="39" cy="55" rx="5.5" ry="6.5" transform="rotate(25 39 55)" fill="#239a23" opacity="0.5" filter="url(#bl1_5)"/><ellipse cx="52" cy="45" rx="8" ry="4" transform="rotate(-20 52 45)" fill="#0e400e" opacity="0.5" filter="url(#bl2)"/><circle cx="34.9" cy="48.9" r="0.63" fill="#38bb38" opacity="0.56"/><circle cx="36.0" cy="55.7" r="0.45" fill="#38bb38" opacity="0.64"/><circle cx="39.7" cy="45.6" r="0.45" fill="#38bb38" opacity="0.48"/><circle cx="43.6" cy="47.2" r="0.44" fill="#38bb38" opacity="0.48"/><circle cx="43.7" cy="51.5" r="0.46" fill="#38bb38" opacity="0.42"/><circle cx="41.5" cy="45.0" r="0.45" fill="#38bb38" opacity="0.36"/><circle cx="37.9" cy="57.7" r="0.56" fill="#38bb38" opacity="0.36"/><circle cx="37.1" cy="55.5" r="0.69" fill="#38bb38" opacity="0.59"/><circle cx="43.1" cy="60.3" r="0.43" fill="#38bb38" opacity="0.45"/><circle cx="46.4" cy="55.1" r="0.62" fill="#38bb38" opacity="0.47"/><circle cx="38.9" cy="60.0" r="0.43" fill="#38bb38" opacity="0.38"/><circle cx="38.6" cy="53.5" r="0.52" fill="#38bb38" opacity="0.62"/><circle cx="40.8" cy="46.8" r="0.59" fill="#38bb38" opacity="0.49"/><circle cx="41.0" cy="59.5" r="0.52" fill="#38bb38" opacity="0.60"/><circle cx="45.1" cy="51.8" r="0.57" fill="#38bb38" opacity="0.60"/><circle cx="36.3" cy="53.5" r="0.62" fill="#38bb38" opacity="0.65"/><circle cx="44.0" cy="46.7" r="0.66" fill="#38bb38" opacity="0.57"/><circle cx="39.1" cy="47.4" r="0.49" fill="#38bb38" opacity="0.55"/><circle cx="42.2" cy="57.7" r="0.63" fill="#38bb38" opacity="0.59"/><circle cx="39.1" cy="48.9" r="0.53" fill="#38bb38" opacity="0.48"/><circle cx="38.5" cy="47.9" r="0.60" fill="#38bb38" opacity="0.67"/><circle cx="39.4" cy="60.1" r="0.63" fill="#38bb38" opacity="0.46"/><circle cx="33.1" cy="50.4" r="0.41" fill="#38bb38" opacity="0.52"/><circle cx="40.3" cy="60.6" r="0.68" fill="#38bb38" opacity="0.51"/><circle cx="42.4" cy="58.6" r="0.56" fill="#38bb38" opacity="0.59"/><circle cx="34.8" cy="50.0" r="0.65" fill="#38bb38" opacity="0.51"/><circle cx="32.4" cy="54.6" r="0.46" fill="#38bb38" opacity="0.57"/><circle cx="33.3" cy="55.3" r="0.44" fill="#38bb38" opacity="0.69"/><circle cx="38.3" cy="54.1" r="0.48" fill="#38bb38" opacity="0.46"/><circle cx="44.2" cy="55.5" r="0.53" fill="#38bb38" opacity="0.58"/><circle cx="36.3" cy="55.4" r="0.47" fill="#38bb38" opacity="0.60"/><circle cx="45.6" cy="53.0" r="0.47" fill="#38bb38" opacity="0.62"/><circle cx="36.5" cy="54.2" r="0.44" fill="#38bb38" opacity="0.61"/><circle cx="44.8" cy="47.9" r="0.54" fill="#38bb38" opacity="0.52"/><circle cx="37.3" cy="61.4" r="0.51" fill="#38bb38" opacity="0.56"/><circle cx="45.7" cy="47.5" r="0.54" fill="#38bb38" opacity="0.42"/><circle cx="38.1" cy="51.1" r="0.65" fill="#38bb38" opacity="0.44"/><circle cx="43.7" cy="50.6" r="0.51" fill="#38bb38" opacity="0.40"/><circle cx="36.6" cy="53.4" r="0.40" fill="#38bb38" opacity="0.59"/><circle cx="37.5" cy="56.7" r="0.49" fill="#38bb38" opacity="0.49"/><circle cx="33.8" cy="53.5" r="0.60" fill="#38bb38" opacity="0.44"/><circle cx="47.2" cy="52.4" r="0.42" fill="#38bb38" opacity="0.63"/><circle cx="46.9" cy="51.3" r="0.44" fill="#38bb38" opacity="0.63"/><circle cx="39.8" cy="52.0" r="0.40" fill="#38bb38" opacity="0.68"/><circle cx="39.7" cy="48.7" r="0.43" fill="#38bb38" opacity="0.36"/><circle cx="14.8" cy="8.8" r="1.0" fill="#2aa52a" filter="url(#bl0_6)"/></g></g>
<g transform="translate(269.0,162.2)" clip-path="url(#cp7)"><g filter="url(#nz7)"><rect x="0" y="0" width="107.8" height="103.6" fill="#000500"/><ellipse cx="78.9" cy="55.6" rx="16" ry="19" transform="rotate(10 78.9 55.6)" fill="#0b380b" opacity="0.7" filter="url(#bl5)"/><circle cx="77.5" cy="72.5" r="0.54" fill="#36b036" opacity="0.28"/><circle cx="93.0" cy="47.2" r="0.47" fill="#36b036" opacity="0.65"/><circle cx="69.4" cy="42.0" r="0.67" fill="#36b036" opacity="0.65"/><circle cx="85.7" cy="38.1" r="0.48" fill="#36b036" opacity="0.55"/><circle cx="65.4" cy="49.2" r="0.58" fill="#36b036" opacity="0.64"/><circle cx="71.5" cy="50.1" r="0.49" fill="#36b036" opacity="0.27"/><circle cx="74.9" cy="54.5" r="0.59" fill="#36b036" opacity="0.27"/><circle cx="67.1" cy="53.7" r="0.62" fill="#36b036" opacity="0.63"/><circle cx="94.2" cy="58.5" r="0.59" fill="#36b036" opacity="0.48"/><circle cx="74.0" cy="38.1" r="0.55" fill="#36b036" opacity="0.41"/><circle cx="83.7" cy="54.5" r="0.65" fill="#36b036" opacity="0.52"/><circle cx="91.4" cy="60.0" r="0.67" fill="#36b036" opacity="0.67"/><circle cx="68.0" cy="70.7" r="0.60" fill="#36b036" opacity="0.44"/><circle cx="81.8" cy="53.3" r="0.69" fill="#36b036" opacity="0.51"/><circle cx="68.1" cy="69.1" r="0.55" fill="#36b036" opacity="0.44"/><circle cx="65.0" cy="49.7" r="0.48" fill="#36b036" opacity="0.42"/><circle cx="66.8" cy="59.9" r="0.73" fill="#36b036" opacity="0.35"/><circle cx="85.9" cy="44.8" r="0.60" fill="#36b036" opacity="0.34"/><circle cx="62.6" cy="51.3" r="0.66" fill="#36b036" opacity="0.60"/><circle cx="72.7" cy="63.9" r="0.52" fill="#36b036" opacity="0.49"/><circle cx="71.5" cy="40.2" r="0.42" fill="#36b036" opacity="0.56"/><circle cx="90.0" cy="47.1" r="0.42" fill="#36b036" opacity="0.35"/><circle cx="86.2" cy="56.6" r="0.77" fill="#36b036" opacity="0.50"/><circle cx="73.5" cy="38.9" r="0.76" fill="#36b036" opacity="0.51"/><circle cx="71.0" cy="42.8" r="0.68" fill="#36b036" opacity="0.50"/><circle cx="77.2" cy="46.2" r="0.67" fill="#36b036" opacity="0.43"/><circle cx="80.5" cy="48.8" r="0.47" fill="#36b036" opacity="0.22"/><circle cx="84.7" cy="36.8" r="0.66" fill="#36b036" opacity="0.38"/><circle cx="88.3" cy="40.5" r="0.62" fill="#36b036" opacity="0.33"/><circle cx="73.4" cy="66.5" r="0.53" fill="#36b036" opacity="0.42"/><circle cx="71.4" cy="38.4" r="0.42" fill="#36b036" opacity="0.48"/><circle cx="84.3" cy="57.6" r="0.72" fill="#36b036" opacity="0.49"/><circle cx="89.9" cy="50.3" r="0.41" fill="#36b036" opacity="0.39"/><circle cx="67.3" cy="42.2" r="0.79" fill="#36b036" opacity="0.44"/><circle cx="73.9" cy="57.5" r="0.66" fill="#36b036" opacity="0.31"/><circle cx="79.9" cy="57.2" r="0.40" fill="#36b036" opacity="0.54"/><circle cx="88.5" cy="70.5" r="0.44" fill="#36b036" opacity="0.63"/><circle cx="80.2" cy="57.2" r="0.69" fill="#36b036" opacity="0.32"/><circle cx="79.7" cy="46.4" r="0.42" fill="#36b036" opacity="0.59"/><circle cx="78.6" cy="36.6" r="0.69" fill="#36b036" opacity="0.24"/><circle cx="71.4" cy="41.3" r="0.58" fill="#36b036" opacity="0.67"/><circle cx="75.2" cy="74.3" r="0.69" fill="#36b036" opacity="0.21"/><circle cx="92.2" cy="58.8" r="0.73" fill="#36b036" opacity="0.24"/><circle cx="70.9" cy="69.7" r="0.47" fill="#36b036" opacity="0.63"/><circle cx="74.8" cy="54.7" r="0.55" fill="#36b036" opacity="0.49"/><circle cx="65.2" cy="58.8" r="0.46" fill="#36b036" opacity="0.60"/><circle cx="68.1" cy="65.4" r="0.65" fill="#36b036" opacity="0.41"/><circle cx="65.8" cy="64.5" r="0.78" fill="#36b036" opacity="0.59"/><circle cx="71.5" cy="49.2" r="0.42" fill="#36b036" opacity="0.69"/><circle cx="77.6" cy="37.1" r="0.53" fill="#36b036" opacity="0.50"/><circle cx="94.6" cy="55.1" r="0.64" fill="#36b036" opacity="0.35"/><circle cx="63.4" cy="60.5" r="0.55" fill="#36b036" opacity="0.54"/><circle cx="68.2" cy="41.6" r="0.72" fill="#36b036" opacity="0.34"/><circle cx="87.6" cy="56.6" r="0.57" fill="#36b036" opacity="0.49"/><circle cx="88.3" cy="39.1" r="0.42" fill="#36b036" opacity="0.62"/><circle cx="87.9" cy="39.1" r="0.63" fill="#36b036" opacity="0.34"/><circle cx="90.4" cy="42.3" r="0.67" fill="#36b036" opacity="0.66"/><circle cx="75.4" cy="59.2" r="0.62" fill="#36b036" opacity="0.60"/><circle cx="80.6" cy="72.0" r="0.77" fill="#36b036" opacity="0.32"/><circle cx="70.0" cy="43.0" r="0.59" fill="#36b036" opacity="0.30"/><circle cx="75.6" cy="72.0" r="0.72" fill="#36b036" opacity="0.43"/><circle cx="90.2" cy="66.5" r="0.71" fill="#36b036" opacity="0.32"/><circle cx="66.7" cy="43.6" r="0.75" fill="#36b036" opacity="0.46"/><circle cx="65.9" cy="55.0" r="0.48" fill="#36b036" opacity="0.30"/><circle cx="82.3" cy="71.0" r="0.55" fill="#36b036" opacity="0.48"/><circle cx="67.7" cy="61.4" r="0.46" fill="#36b036" opacity="0.22"/><circle cx="89.3" cy="56.6" r="0.44" fill="#36b036" opacity="0.52"/><circle cx="81.9" cy="47.7" r="0.64" fill="#36b036" opacity="0.37"/><circle cx="76.7" cy="54.2" r="0.41" fill="#36b036" opacity="0.70"/><circle cx="88.6" cy="46.1" r="0.63" fill="#36b036" opacity="0.33"/><circle cx="83.2" cy="42.7" r="0.78" fill="#36b036" opacity="0.58"/><circle cx="89.0" cy="38.7" r="0.50" fill="#36b036" opacity="0.22"/><circle cx="79.8" cy="63.4" r="0.43" fill="#36b036" opacity="0.23"/><circle cx="65.5" cy="45.9" r="0.58" fill="#36b036" opacity="0.67"/><circle cx="83.1" cy="53.0" r="0.64" fill="#36b036" opacity="0.40"/><circle cx="88.6" cy="70.3" r="0.50" fill="#36b036" opacity="0.48"/><circle cx="71.2" cy="38.3" r="0.67" fill="#36b036" opacity="0.40"/><circle cx="72.2" cy="56.4" r="0.79" fill="#36b036" opacity="0.70"/><circle cx="78.9" cy="58.9" r="0.50" fill="#36b036" opacity="0.38"/><circle cx="93.9" cy="46.6" r="0.73" fill="#36b036" opacity="0.22"/><circle cx="85.0" cy="39.4" r="0.66" fill="#36b036" opacity="0.69"/><circle cx="84.5" cy="58.6" r="0.70" fill="#36b036" opacity="0.67"/><circle cx="76.6" cy="44.6" r="0.64" fill="#36b036" opacity="0.58"/><circle cx="85.3" cy="63.2" r="0.50" fill="#36b036" opacity="0.26"/><circle cx="72.0" cy="54.7" r="0.50" fill="#36b036" opacity="0.27"/><circle cx="78.5" cy="52.9" r="0.69" fill="#36b036" opacity="0.30"/><circle cx="94.0" cy="62.0" r="0.49" fill="#36b036" opacity="0.67"/><circle cx="92.0" cy="43.1" r="0.46" fill="#36b036" opacity="0.42"/><circle cx="90.3" cy="68.2" r="0.74" fill="#36b036" opacity="0.51"/><circle cx="69.1" cy="56.7" r="0.73" fill="#36b036" opacity="0.44"/><circle cx="75.6" cy="48.9" r="0.49" fill="#36b036" opacity="0.23"/><circle cx="78.7" cy="40.2" r="0.46" fill="#36b036" opacity="0.64"/><circle cx="75.7" cy="67.4" r="0.46" fill="#36b036" opacity="0.34"/><circle cx="85.9" cy="46.3" r="0.47" fill="#36b036" opacity="0.45"/><circle cx="69.4" cy="70.9" r="0.45" fill="#36b036" opacity="0.69"/><circle cx="92.7" cy="64.1" r="0.67" fill="#36b036" opacity="0.31"/><circle cx="69.9" cy="54.9" r="0.50" fill="#36b036" opacity="0.30"/><circle cx="65.4" cy="67.8" r="0.80" fill="#36b036" opacity="0.66"/><circle cx="85.3" cy="62.4" r="0.76" fill="#36b036" opacity="0.23"/><circle cx="79.5" cy="44.2" r="0.79" fill="#36b036" opacity="0.21"/><circle cx="84.3" cy="44.8" r="0.46" fill="#36b036" opacity="0.20"/><circle cx="87.2" cy="43.6" r="0.47" fill="#36b036" opacity="0.42"/><circle cx="86.5" cy="51.3" r="0.63" fill="#36b036" opacity="0.27"/><circle cx="82.5" cy="71.8" r="0.68" fill="#36b036" opacity="0.30"/><circle cx="82.9" cy="58.5" r="0.64" fill="#36b036" opacity="0.45"/><circle cx="76.3" cy="63.6" r="0.64" fill="#36b036" opacity="0.55"/><circle cx="86.3" cy="41.9" r="0.48" fill="#36b036" opacity="0.23"/><circle cx="80.0" cy="42.3" r="0.69" fill="#36b036" opacity="0.23"/><circle cx="84.5" cy="45.0" r="0.74" fill="#36b036" opacity="0.63"/><circle cx="76.9" cy="54.7" r="0.76" fill="#36b036" opacity="0.44"/><circle cx="86.3" cy="48.7" r="0.47" fill="#36b036" opacity="0.62"/><circle cx="73.4" cy="60.1" r="0.55" fill="#36b036" opacity="0.50"/><circle cx="91.0" cy="57.5" r="0.58" fill="#36b036" opacity="0.46"/><circle cx="87.2" cy="68.3" r="0.73" fill="#36b036" opacity="0.63"/><circle cx="70.3" cy="68.9" r="0.55" fill="#36b036" opacity="0.58"/><circle cx="92.3" cy="64.5" r="0.78" fill="#36b036" opacity="0.45"/><circle cx="67.1" cy="51.7" r="0.61" fill="#36b036" opacity="0.21"/><circle cx="87.1" cy="54.5" r="0.47" fill="#36b036" opacity="0.25"/><circle cx="75.8" cy="72.8" r="0.41" fill="#36b036" opacity="0.25"/><circle cx="78.1" cy="46.3" r="0.41" fill="#36b036" opacity="0.50"/><circle cx="69.4" cy="46.5" r="0.68" fill="#36b036" opacity="0.25"/><circle cx="90.8" cy="44.5" r="0.42" fill="#36b036" opacity="0.26"/><circle cx="67.1" cy="53.5" r="0.51" fill="#36b036" opacity="0.26"/><circle cx="73.1" cy="58.2" r="0.64" fill="#36b036" opacity="0.63"/><circle cx="84.5" cy="68.3" r="0.70" fill="#36b036" opacity="0.28"/><circle cx="89.4" cy="39.4" r="0.56" fill="#36b036" opacity="0.41"/><circle cx="87.6" cy="44.1" r="0.56" fill="#36b036" opacity="0.67"/><circle cx="82.6" cy="44.0" r="0.50" fill="#36b036" opacity="0.37"/><circle cx="62.4" cy="60.0" r="0.72" fill="#36b036" opacity="0.66"/><circle cx="88.1" cy="39.4" r="0.42" fill="#36b036" opacity="0.46"/><circle cx="95.5" cy="52.8" r="0.50" fill="#36b036" opacity="0.41"/><circle cx="73.8" cy="45.0" r="0.61" fill="#36b036" opacity="0.23"/><circle cx="67.1" cy="58.8" r="0.41" fill="#36b036" opacity="0.27"/><circle cx="94.1" cy="54.3" r="0.77" fill="#36b036" opacity="0.52"/><circle cx="87.8" cy="38.8" r="0.75" fill="#36b036" opacity="0.22"/><circle cx="75.0" cy="46.2" r="0.67" fill="#36b036" opacity="0.34"/><circle cx="64.3" cy="47.3" r="0.65" fill="#36b036" opacity="0.33"/><circle cx="68.4" cy="51.4" r="0.78" fill="#36b036" opacity="0.34"/><circle cx="71.8" cy="69.1" r="0.45" fill="#36b036" opacity="0.50"/><circle cx="91.2" cy="53.2" r="0.51" fill="#36b036" opacity="0.43"/><circle cx="73.0" cy="52.3" r="0.45" fill="#36b036" opacity="0.27"/><circle cx="74.0" cy="66.6" r="0.52" fill="#36b036" opacity="0.32"/><circle cx="88.2" cy="64.5" r="0.74" fill="#36b036" opacity="0.50"/><circle cx="68.0" cy="46.1" r="0.48" fill="#36b036" opacity="0.56"/><circle cx="66.4" cy="56.4" r="0.65" fill="#36b036" opacity="0.43"/><circle cx="74.4" cy="63.5" r="0.49" fill="#36b036" opacity="0.46"/><circle cx="67.7" cy="63.4" r="0.40" fill="#36b036" opacity="0.38"/><circle cx="85.6" cy="48.6" r="0.62" fill="#36b036" opacity="0.45"/><circle cx="72.0" cy="73.5" r="0.52" fill="#36b036" opacity="0.59"/><circle cx="80.6" cy="59.7" r="0.75" fill="#36b036" opacity="0.42"/><ellipse cx="45.1" cy="49.5" rx="13.2" ry="8.2" transform="rotate(-42 45.1 49.5)" fill="#1c851c" opacity="0.95" filter="url(#bl1_2)"/><ellipse cx="42.5" cy="52.5" rx="8.5" ry="6.5" transform="rotate(-40 42.5 52.5)" fill="#2ab02a" opacity="0.6" filter="url(#bl1_5)"/><circle cx="51.3" cy="46.7" r="0.53" fill="#44d044" opacity="0.59"/><circle cx="49.8" cy="48.7" r="0.69" fill="#44d044" opacity="0.60"/><circle cx="50.3" cy="50.0" r="0.51" fill="#44d044" opacity="0.57"/><circle cx="35.8" cy="52.1" r="0.65" fill="#44d044" opacity="0.51"/><circle cx="40.1" cy="45.7" r="0.63" fill="#44d044" opacity="0.49"/><circle cx="42.5" cy="43.9" r="0.67" fill="#44d044" opacity="0.35"/><circle cx="45.2" cy="49.4" r="0.63" fill="#44d044" opacity="0.53"/><circle cx="36.3" cy="58.0" r="0.57" fill="#44d044" opacity="0.47"/><circle cx="42.2" cy="43.3" r="0.58" fill="#44d044" opacity="0.45"/><circle cx="40.2" cy="56.3" r="0.62" fill="#44d044" opacity="0.42"/><circle cx="42.2" cy="57.3" r="0.52" fill="#44d044" opacity="0.43"/><circle cx="42.4" cy="43.3" r="0.55" fill="#44d044" opacity="0.48"/><circle cx="49.5" cy="51.0" r="0.44" fill="#44d044" opacity="0.53"/><circle cx="42.0" cy="51.3" r="0.68" fill="#44d044" opacity="0.43"/><circle cx="45.7" cy="41.7" r="0.69" fill="#44d044" opacity="0.38"/><circle cx="39.5" cy="59.2" r="0.40" fill="#44d044" opacity="0.32"/><circle cx="37.8" cy="53.6" r="0.68" fill="#44d044" opacity="0.61"/><circle cx="35.1" cy="56.5" r="0.56" fill="#44d044" opacity="0.51"/><circle cx="39.9" cy="48.8" r="0.51" fill="#44d044" opacity="0.54"/><circle cx="43.8" cy="59.0" r="0.60" fill="#44d044" opacity="0.51"/><circle cx="51.2" cy="48.0" r="0.52" fill="#44d044" opacity="0.52"/><circle cx="35.4" cy="54.4" r="0.69" fill="#44d044" opacity="0.49"/><circle cx="39.9" cy="57.5" r="0.70" fill="#44d044" opacity="0.44"/><circle cx="36.2" cy="56.2" r="0.45" fill="#44d044" opacity="0.43"/><circle cx="52.4" cy="42.1" r="0.55" fill="#44d044" opacity="0.34"/><circle cx="48.3" cy="41.9" r="0.65" fill="#44d044" opacity="0.70"/><circle cx="47.3" cy="43.7" r="0.45" fill="#44d044" opacity="0.42"/><circle cx="38.4" cy="55.4" r="0.46" fill="#44d044" opacity="0.37"/><circle cx="37.4" cy="51.1" r="0.51" fill="#44d044" opacity="0.70"/><circle cx="43.0" cy="50.2" r="0.52" fill="#44d044" opacity="0.62"/><circle cx="46.3" cy="56.7" r="0.40" fill="#44d044" opacity="0.42"/><circle cx="45.5" cy="43.1" r="0.60" fill="#44d044" opacity="0.38"/><circle cx="38.4" cy="56.0" r="0.48" fill="#44d044" opacity="0.56"/><circle cx="35.3" cy="56.8" r="0.57" fill="#44d044" opacity="0.46"/><circle cx="48.9" cy="49.2" r="0.63" fill="#44d044" opacity="0.34"/><circle cx="49.2" cy="48.7" r="0.56" fill="#44d044" opacity="0.63"/><circle cx="36.0" cy="52.2" r="0.42" fill="#44d044" opacity="0.30"/><circle cx="42.8" cy="46.3" r="0.61" fill="#44d044" opacity="0.44"/><circle cx="49.5" cy="50.5" r="0.43" fill="#44d044" opacity="0.66"/><circle cx="39.0" cy="52.5" r="0.53" fill="#44d044" opacity="0.45"/><circle cx="54.5" cy="44.6" r="0.57" fill="#44d044" opacity="0.68"/><circle cx="39.9" cy="57.5" r="0.47" fill="#44d044" opacity="0.32"/><circle cx="50.5" cy="41.1" r="0.49" fill="#44d044" opacity="0.66"/><circle cx="44.4" cy="45.4" r="0.58" fill="#44d044" opacity="0.68"/><circle cx="36.4" cy="58.0" r="0.47" fill="#44d044" opacity="0.46"/><circle cx="41.9" cy="48.2" r="0.49" fill="#44d044" opacity="0.65"/><circle cx="37.5" cy="57.6" r="0.47" fill="#44d044" opacity="0.37"/><circle cx="44.3" cy="54.1" r="0.69" fill="#44d044" opacity="0.42"/><circle cx="41.6" cy="51.8" r="0.56" fill="#44d044" opacity="0.45"/><circle cx="43.9" cy="52.5" r="0.44" fill="#44d044" opacity="0.63"/><circle cx="15.9" cy="8.8" r="1.1" fill="#2aa52a" filter="url(#bl0_6)"/></g></g>
<g transform="translate(381.2,162.2)" clip-path="url(#cp8)"><g filter="url(#nz8)"><rect x="0" y="0" width="107.7" height="103.6" fill="#000500"/><ellipse cx="80.2" cy="54.1" rx="18" ry="21" transform="rotate(10 80.2 54.1)" fill="#0d400d" opacity="0.75" filter="url(#bl5)"/><circle cx="72.9" cy="62.0" r="0.50" fill="#3ebc3e" opacity="0.37"/><circle cx="79.5" cy="58.3" r="0.73" fill="#3ebc3e" opacity="0.40"/><circle cx="86.0" cy="71.3" r="0.45" fill="#3ebc3e" opacity="0.36"/><circle cx="84.6" cy="47.6" r="0.62" fill="#3ebc3e" opacity="0.70"/><circle cx="84.0" cy="45.9" r="0.58" fill="#3ebc3e" opacity="0.63"/><circle cx="64.2" cy="67.2" r="0.50" fill="#3ebc3e" opacity="0.77"/><circle cx="71.1" cy="52.1" r="0.63" fill="#3ebc3e" opacity="0.28"/><circle cx="79.4" cy="42.4" r="0.85" fill="#3ebc3e" opacity="0.55"/><circle cx="72.3" cy="61.2" r="0.70" fill="#3ebc3e" opacity="0.33"/><circle cx="85.6" cy="49.1" r="0.66" fill="#3ebc3e" opacity="0.53"/><circle cx="74.4" cy="73.4" r="0.59" fill="#3ebc3e" opacity="0.59"/><circle cx="71.4" cy="47.1" r="0.59" fill="#3ebc3e" opacity="0.25"/><circle cx="84.3" cy="74.1" r="0.56" fill="#3ebc3e" opacity="0.60"/><circle cx="89.0" cy="66.7" r="0.58" fill="#3ebc3e" opacity="0.50"/><circle cx="77.6" cy="59.3" r="0.56" fill="#3ebc3e" opacity="0.34"/><circle cx="88.7" cy="69.6" r="0.54" fill="#3ebc3e" opacity="0.44"/><circle cx="95.8" cy="45.6" r="0.84" fill="#3ebc3e" opacity="0.72"/><circle cx="85.1" cy="64.0" r="0.41" fill="#3ebc3e" opacity="0.61"/><circle cx="76.3" cy="41.5" r="0.61" fill="#3ebc3e" opacity="0.60"/><circle cx="79.0" cy="42.8" r="0.82" fill="#3ebc3e" opacity="0.41"/><circle cx="75.7" cy="46.0" r="0.46" fill="#3ebc3e" opacity="0.75"/><circle cx="81.8" cy="34.7" r="0.42" fill="#3ebc3e" opacity="0.22"/><circle cx="82.9" cy="63.4" r="0.55" fill="#3ebc3e" opacity="0.43"/><circle cx="89.6" cy="58.9" r="0.72" fill="#3ebc3e" opacity="0.31"/><circle cx="90.1" cy="40.9" r="0.76" fill="#3ebc3e" opacity="0.35"/><circle cx="64.5" cy="58.9" r="0.57" fill="#3ebc3e" opacity="0.20"/><circle cx="91.4" cy="38.2" r="0.54" fill="#3ebc3e" opacity="0.23"/><circle cx="91.3" cy="41.6" r="0.42" fill="#3ebc3e" opacity="0.35"/><circle cx="90.5" cy="69.2" r="0.51" fill="#3ebc3e" opacity="0.75"/><circle cx="81.2" cy="47.3" r="0.75" fill="#3ebc3e" opacity="0.44"/><circle cx="83.4" cy="33.3" r="0.54" fill="#3ebc3e" opacity="0.25"/><circle cx="92.4" cy="51.2" r="0.87" fill="#3ebc3e" opacity="0.61"/><circle cx="82.4" cy="33.2" r="0.71" fill="#3ebc3e" opacity="0.47"/><circle cx="93.6" cy="62.9" r="0.61" fill="#3ebc3e" opacity="0.51"/><circle cx="86.6" cy="51.5" r="0.78" fill="#3ebc3e" opacity="0.23"/><circle cx="78.5" cy="33.7" r="0.53" fill="#3ebc3e" opacity="0.53"/><circle cx="95.3" cy="53.1" r="0.67" fill="#3ebc3e" opacity="0.35"/><circle cx="89.6" cy="60.8" r="0.61" fill="#3ebc3e" opacity="0.32"/><circle cx="76.1" cy="61.3" r="0.75" fill="#3ebc3e" opacity="0.60"/><circle cx="78.7" cy="65.2" r="0.66" fill="#3ebc3e" opacity="0.47"/><circle cx="91.1" cy="50.5" r="0.55" fill="#3ebc3e" opacity="0.73"/><circle cx="86.5" cy="68.8" r="0.57" fill="#3ebc3e" opacity="0.69"/><circle cx="65.5" cy="45.4" r="0.48" fill="#3ebc3e" opacity="0.60"/><circle cx="71.2" cy="43.2" r="0.78" fill="#3ebc3e" opacity="0.70"/><circle cx="86.2" cy="63.4" r="0.58" fill="#3ebc3e" opacity="0.32"/><circle cx="88.4" cy="60.1" r="0.50" fill="#3ebc3e" opacity="0.62"/><circle cx="73.6" cy="55.4" r="0.56" fill="#3ebc3e" opacity="0.48"/><circle cx="73.8" cy="60.2" r="0.44" fill="#3ebc3e" opacity="0.21"/><circle cx="96.4" cy="55.9" r="0.44" fill="#3ebc3e" opacity="0.63"/><circle cx="94.3" cy="54.3" r="0.45" fill="#3ebc3e" opacity="0.49"/><circle cx="71.8" cy="56.6" r="0.67" fill="#3ebc3e" opacity="0.20"/><circle cx="94.7" cy="47.5" r="0.71" fill="#3ebc3e" opacity="0.76"/><circle cx="76.2" cy="43.8" r="0.52" fill="#3ebc3e" opacity="0.28"/><circle cx="95.6" cy="60.3" r="0.82" fill="#3ebc3e" opacity="0.38"/><circle cx="82.9" cy="71.7" r="0.82" fill="#3ebc3e" opacity="0.76"/><circle cx="85.0" cy="72.9" r="0.82" fill="#3ebc3e" opacity="0.65"/><circle cx="74.8" cy="62.0" r="0.81" fill="#3ebc3e" opacity="0.39"/><circle cx="68.4" cy="64.7" r="0.58" fill="#3ebc3e" opacity="0.70"/><circle cx="79.4" cy="58.6" r="0.68" fill="#3ebc3e" opacity="0.58"/><circle cx="89.7" cy="37.9" r="0.85" fill="#3ebc3e" opacity="0.77"/><circle cx="66.7" cy="52.2" r="0.48" fill="#3ebc3e" opacity="0.38"/><circle cx="75.9" cy="50.1" r="0.74" fill="#3ebc3e" opacity="0.30"/><circle cx="61.4" cy="58.7" r="0.44" fill="#3ebc3e" opacity="0.22"/><circle cx="71.8" cy="56.3" r="0.76" fill="#3ebc3e" opacity="0.20"/><circle cx="92.5" cy="38.0" r="0.79" fill="#3ebc3e" opacity="0.46"/><circle cx="73.7" cy="71.5" r="0.66" fill="#3ebc3e" opacity="0.45"/><circle cx="71.2" cy="65.6" r="0.73" fill="#3ebc3e" opacity="0.70"/><circle cx="87.2" cy="49.9" r="0.55" fill="#3ebc3e" opacity="0.47"/><circle cx="70.7" cy="47.0" r="0.50" fill="#3ebc3e" opacity="0.25"/><circle cx="71.9" cy="66.8" r="0.89" fill="#3ebc3e" opacity="0.75"/><circle cx="95.2" cy="39.4" r="0.88" fill="#3ebc3e" opacity="0.57"/><circle cx="82.6" cy="49.2" r="0.74" fill="#3ebc3e" opacity="0.57"/><circle cx="73.0" cy="69.6" r="0.88" fill="#3ebc3e" opacity="0.49"/><circle cx="75.6" cy="43.0" r="0.57" fill="#3ebc3e" opacity="0.73"/><circle cx="87.7" cy="57.1" r="0.74" fill="#3ebc3e" opacity="0.47"/><circle cx="91.4" cy="65.7" r="0.59" fill="#3ebc3e" opacity="0.55"/><circle cx="66.8" cy="60.2" r="0.68" fill="#3ebc3e" opacity="0.44"/><circle cx="84.9" cy="61.4" r="0.84" fill="#3ebc3e" opacity="0.53"/><circle cx="90.8" cy="70.0" r="0.53" fill="#3ebc3e" opacity="0.26"/><circle cx="71.2" cy="50.2" r="0.64" fill="#3ebc3e" opacity="0.53"/><circle cx="79.1" cy="71.3" r="0.46" fill="#3ebc3e" opacity="0.51"/><circle cx="76.1" cy="49.8" r="0.60" fill="#3ebc3e" opacity="0.24"/><circle cx="62.5" cy="59.0" r="0.68" fill="#3ebc3e" opacity="0.63"/><circle cx="81.6" cy="46.4" r="0.90" fill="#3ebc3e" opacity="0.63"/><circle cx="91.5" cy="68.8" r="0.60" fill="#3ebc3e" opacity="0.30"/><circle cx="94.3" cy="52.2" r="0.79" fill="#3ebc3e" opacity="0.28"/><circle cx="81.7" cy="48.8" r="0.52" fill="#3ebc3e" opacity="0.42"/><circle cx="94.1" cy="58.2" r="0.51" fill="#3ebc3e" opacity="0.38"/><circle cx="79.3" cy="39.2" r="0.84" fill="#3ebc3e" opacity="0.57"/><circle cx="91.9" cy="43.5" r="0.86" fill="#3ebc3e" opacity="0.72"/><circle cx="85.0" cy="72.4" r="0.57" fill="#3ebc3e" opacity="0.66"/><circle cx="76.1" cy="34.1" r="0.46" fill="#3ebc3e" opacity="0.42"/><circle cx="82.4" cy="31.8" r="0.76" fill="#3ebc3e" opacity="0.23"/><circle cx="76.1" cy="48.8" r="0.67" fill="#3ebc3e" opacity="0.68"/><circle cx="91.1" cy="70.6" r="0.74" fill="#3ebc3e" opacity="0.35"/><circle cx="81.9" cy="69.0" r="0.82" fill="#3ebc3e" opacity="0.55"/><circle cx="81.7" cy="56.5" r="0.46" fill="#3ebc3e" opacity="0.68"/><circle cx="82.8" cy="70.5" r="0.55" fill="#3ebc3e" opacity="0.61"/><circle cx="73.8" cy="58.9" r="0.84" fill="#3ebc3e" opacity="0.52"/><circle cx="77.1" cy="34.0" r="0.87" fill="#3ebc3e" opacity="0.21"/><circle cx="74.7" cy="60.7" r="0.65" fill="#3ebc3e" opacity="0.72"/><circle cx="81.8" cy="50.1" r="0.49" fill="#3ebc3e" opacity="0.69"/><circle cx="77.2" cy="40.3" r="0.64" fill="#3ebc3e" opacity="0.29"/><circle cx="88.7" cy="43.4" r="0.84" fill="#3ebc3e" opacity="0.57"/><circle cx="88.5" cy="61.6" r="0.51" fill="#3ebc3e" opacity="0.74"/><circle cx="77.1" cy="50.9" r="0.48" fill="#3ebc3e" opacity="0.42"/><circle cx="65.5" cy="55.0" r="0.59" fill="#3ebc3e" opacity="0.41"/><circle cx="94.1" cy="57.2" r="0.57" fill="#3ebc3e" opacity="0.21"/><circle cx="61.0" cy="56.5" r="0.42" fill="#3ebc3e" opacity="0.29"/><circle cx="77.2" cy="42.8" r="0.54" fill="#3ebc3e" opacity="0.50"/><circle cx="75.9" cy="70.8" r="0.66" fill="#3ebc3e" opacity="0.77"/><circle cx="83.5" cy="54.4" r="0.68" fill="#3ebc3e" opacity="0.66"/><circle cx="94.0" cy="41.7" r="0.72" fill="#3ebc3e" opacity="0.58"/><circle cx="71.9" cy="62.0" r="0.80" fill="#3ebc3e" opacity="0.72"/><circle cx="95.6" cy="49.5" r="0.55" fill="#3ebc3e" opacity="0.66"/><circle cx="82.0" cy="37.7" r="0.72" fill="#3ebc3e" opacity="0.41"/><circle cx="69.5" cy="47.5" r="0.43" fill="#3ebc3e" opacity="0.40"/><circle cx="68.2" cy="72.7" r="0.64" fill="#3ebc3e" opacity="0.42"/><circle cx="78.4" cy="65.0" r="0.57" fill="#3ebc3e" opacity="0.28"/><circle cx="97.3" cy="58.0" r="0.63" fill="#3ebc3e" opacity="0.47"/><circle cx="71.6" cy="47.1" r="0.48" fill="#3ebc3e" opacity="0.24"/><circle cx="74.6" cy="65.3" r="0.76" fill="#3ebc3e" opacity="0.53"/><circle cx="91.0" cy="50.7" r="0.86" fill="#3ebc3e" opacity="0.55"/><circle cx="86.1" cy="59.8" r="0.69" fill="#3ebc3e" opacity="0.79"/><circle cx="67.0" cy="67.8" r="0.61" fill="#3ebc3e" opacity="0.72"/><circle cx="90.7" cy="62.6" r="0.85" fill="#3ebc3e" opacity="0.37"/><circle cx="79.3" cy="57.4" r="0.48" fill="#3ebc3e" opacity="0.36"/><circle cx="79.3" cy="43.4" r="0.60" fill="#3ebc3e" opacity="0.32"/><circle cx="68.4" cy="38.9" r="0.72" fill="#3ebc3e" opacity="0.32"/><circle cx="82.0" cy="31.6" r="0.70" fill="#3ebc3e" opacity="0.25"/><circle cx="89.9" cy="35.4" r="0.57" fill="#3ebc3e" opacity="0.28"/><circle cx="82.5" cy="70.3" r="0.84" fill="#3ebc3e" opacity="0.58"/><circle cx="88.5" cy="50.5" r="0.56" fill="#3ebc3e" opacity="0.65"/><circle cx="75.0" cy="41.1" r="0.74" fill="#3ebc3e" opacity="0.40"/><circle cx="90.4" cy="61.1" r="0.42" fill="#3ebc3e" opacity="0.58"/><circle cx="70.9" cy="66.6" r="0.70" fill="#3ebc3e" opacity="0.35"/><circle cx="77.8" cy="54.2" r="0.86" fill="#3ebc3e" opacity="0.54"/><circle cx="84.5" cy="54.4" r="0.71" fill="#3ebc3e" opacity="0.63"/><circle cx="76.2" cy="59.6" r="0.48" fill="#3ebc3e" opacity="0.29"/><circle cx="81.8" cy="47.4" r="0.81" fill="#3ebc3e" opacity="0.45"/><circle cx="66.8" cy="47.4" r="0.68" fill="#3ebc3e" opacity="0.59"/><circle cx="72.7" cy="44.7" r="0.77" fill="#3ebc3e" opacity="0.35"/><circle cx="79.5" cy="34.1" r="0.79" fill="#3ebc3e" opacity="0.39"/><circle cx="86.5" cy="32.3" r="0.63" fill="#3ebc3e" opacity="0.37"/><circle cx="62.6" cy="47.6" r="0.47" fill="#3ebc3e" opacity="0.21"/><circle cx="64.5" cy="54.1" r="0.79" fill="#3ebc3e" opacity="0.42"/><circle cx="89.0" cy="54.9" r="0.78" fill="#3ebc3e" opacity="0.25"/><circle cx="86.5" cy="56.6" r="0.43" fill="#3ebc3e" opacity="0.50"/><circle cx="73.1" cy="49.4" r="0.87" fill="#3ebc3e" opacity="0.42"/><circle cx="83.3" cy="62.5" r="0.77" fill="#3ebc3e" opacity="0.75"/><circle cx="81.1" cy="57.6" r="0.79" fill="#3ebc3e" opacity="0.35"/><circle cx="93.4" cy="54.5" r="0.72" fill="#3ebc3e" opacity="0.41"/><circle cx="86.5" cy="40.1" r="0.56" fill="#3ebc3e" opacity="0.74"/><circle cx="90.3" cy="68.4" r="0.43" fill="#3ebc3e" opacity="0.59"/><circle cx="63.7" cy="63.7" r="0.43" fill="#3ebc3e" opacity="0.54"/><circle cx="62.8" cy="63.0" r="0.87" fill="#3ebc3e" opacity="0.58"/><circle cx="79.5" cy="65.5" r="0.53" fill="#3ebc3e" opacity="0.46"/><circle cx="79.2" cy="64.3" r="0.78" fill="#3ebc3e" opacity="0.59"/><circle cx="70.6" cy="74.6" r="0.51" fill="#3ebc3e" opacity="0.54"/><circle cx="86.5" cy="73.2" r="0.83" fill="#3ebc3e" opacity="0.36"/><circle cx="83.8" cy="33.5" r="0.54" fill="#3ebc3e" opacity="0.40"/><circle cx="62.1" cy="52.8" r="0.48" fill="#3ebc3e" opacity="0.61"/><circle cx="71.2" cy="43.4" r="0.69" fill="#3ebc3e" opacity="0.73"/><circle cx="80.8" cy="75.4" r="0.58" fill="#3ebc3e" opacity="0.67"/><circle cx="86.5" cy="47.6" r="0.83" fill="#3ebc3e" opacity="0.80"/><circle cx="78.5" cy="57.2" r="0.46" fill="#3ebc3e" opacity="0.78"/><circle cx="97.6" cy="58.4" r="0.48" fill="#3ebc3e" opacity="0.64"/><circle cx="85.3" cy="60.5" r="0.74" fill="#3ebc3e" opacity="0.25"/><circle cx="67.2" cy="70.7" r="0.76" fill="#3ebc3e" opacity="0.73"/><circle cx="83.5" cy="54.1" r="0.52" fill="#3ebc3e" opacity="0.68"/><circle cx="79.4" cy="49.7" r="0.65" fill="#3ebc3e" opacity="0.34"/><circle cx="74.0" cy="56.1" r="0.41" fill="#3ebc3e" opacity="0.79"/><circle cx="69.5" cy="72.2" r="0.46" fill="#3ebc3e" opacity="0.49"/><circle cx="86.1" cy="66.6" r="0.49" fill="#3ebc3e" opacity="0.61"/><circle cx="86.9" cy="71.3" r="0.65" fill="#3ebc3e" opacity="0.27"/><circle cx="69.8" cy="65.3" r="0.86" fill="#3ebc3e" opacity="0.41"/><circle cx="80.2" cy="76.5" r="0.84" fill="#3ebc3e" opacity="0.64"/><circle cx="77.2" cy="63.2" r="0.53" fill="#3ebc3e" opacity="0.24"/><circle cx="92.1" cy="60.6" r="0.60" fill="#3ebc3e" opacity="0.53"/><circle cx="78.4" cy="55.6" r="0.74" fill="#3ebc3e" opacity="0.59"/><circle cx="67.5" cy="47.1" r="0.75" fill="#3ebc3e" opacity="0.79"/><circle cx="93.6" cy="42.3" r="0.60" fill="#3ebc3e" opacity="0.39"/><circle cx="62.0" cy="62.0" r="0.59" fill="#3ebc3e" opacity="0.43"/><circle cx="73.2" cy="57.5" r="0.90" fill="#3ebc3e" opacity="0.20"/><circle cx="68.4" cy="37.9" r="0.53" fill="#3ebc3e" opacity="0.57"/><circle cx="72.1" cy="60.6" r="0.50" fill="#3ebc3e" opacity="0.27"/><circle cx="92.1" cy="38.9" r="0.85" fill="#3ebc3e" opacity="0.23"/><circle cx="78.5" cy="41.2" r="0.72" fill="#3ebc3e" opacity="0.53"/><circle cx="69.0" cy="73.2" r="0.40" fill="#3ebc3e" opacity="0.65"/><circle cx="90.4" cy="42.5" r="0.70" fill="#3ebc3e" opacity="0.80"/><circle cx="78.3" cy="72.1" r="0.77" fill="#3ebc3e" opacity="0.43"/><circle cx="79.7" cy="39.7" r="0.66" fill="#3ebc3e" opacity="0.57"/><circle cx="77.3" cy="41.6" r="0.71" fill="#3ebc3e" opacity="0.53"/><circle cx="79.4" cy="71.9" r="0.53" fill="#3ebc3e" opacity="0.75"/><circle cx="63.8" cy="54.5" r="0.66" fill="#3ebc3e" opacity="0.49"/><circle cx="79.8" cy="62.6" r="0.86" fill="#3ebc3e" opacity="0.52"/><circle cx="67.0" cy="49.2" r="0.81" fill="#3ebc3e" opacity="0.34"/><circle cx="84.8" cy="73.5" r="0.63" fill="#3ebc3e" opacity="0.58"/><circle cx="91.6" cy="36.5" r="0.83" fill="#3ebc3e" opacity="0.23"/><circle cx="65.0" cy="65.8" r="0.81" fill="#3ebc3e" opacity="0.27"/><circle cx="83.7" cy="64.3" r="0.45" fill="#3ebc3e" opacity="0.41"/><circle cx="87.2" cy="39.3" r="0.63" fill="#3ebc3e" opacity="0.25"/><circle cx="62.8" cy="65.2" r="0.75" fill="#3ebc3e" opacity="0.47"/><circle cx="63.0" cy="53.8" r="0.78" fill="#3ebc3e" opacity="0.29"/><circle cx="77.4" cy="40.7" r="0.66" fill="#3ebc3e" opacity="0.34"/><circle cx="70.8" cy="62.3" r="0.59" fill="#3ebc3e" opacity="0.21"/><circle cx="81.4" cy="71.1" r="0.43" fill="#3ebc3e" opacity="0.31"/><circle cx="80.1" cy="42.0" r="0.56" fill="#3ebc3e" opacity="0.35"/><circle cx="83.9" cy="48.6" r="0.72" fill="#3ebc3e" opacity="0.72"/><circle cx="81.2" cy="68.7" r="0.80" fill="#3ebc3e" opacity="0.57"/><ellipse cx="45.7" cy="50.3" rx="13.8" ry="8.4" transform="rotate(-40 45.7 50.3)" fill="#209820" opacity="0.95" filter="url(#bl1_2)"/><ellipse cx="43" cy="53" rx="9" ry="6.5" transform="rotate(-40 43 53)" fill="#30c030" opacity="0.65" filter="url(#bl1_5)"/><circle cx="44.8" cy="52.5" r="0.53" fill="#50e050" opacity="0.45"/><circle cx="41.7" cy="48.5" r="0.52" fill="#50e050" opacity="0.56"/><circle cx="45.0" cy="45.6" r="0.52" fill="#50e050" opacity="0.53"/><circle cx="48.3" cy="46.2" r="0.69" fill="#50e050" opacity="0.58"/><circle cx="42.9" cy="58.4" r="0.50" fill="#50e050" opacity="0.33"/><circle cx="42.8" cy="46.8" r="0.56" fill="#50e050" opacity="0.50"/><circle cx="49.8" cy="41.9" r="0.41" fill="#50e050" opacity="0.54"/><circle cx="39.9" cy="56.7" r="0.65" fill="#50e050" opacity="0.47"/><circle cx="37.3" cy="58.9" r="0.53" fill="#50e050" opacity="0.50"/><circle cx="36.5" cy="57.4" r="0.60" fill="#50e050" opacity="0.60"/><circle cx="44.5" cy="52.5" r="0.60" fill="#50e050" opacity="0.52"/><circle cx="42.3" cy="44.6" r="0.44" fill="#50e050" opacity="0.39"/><circle cx="55.2" cy="46.5" r="0.43" fill="#50e050" opacity="0.34"/><circle cx="42.0" cy="46.1" r="0.42" fill="#50e050" opacity="0.57"/><circle cx="40.6" cy="48.0" r="0.42" fill="#50e050" opacity="0.58"/><circle cx="41.0" cy="58.0" r="0.70" fill="#50e050" opacity="0.63"/><circle cx="46.7" cy="46.8" r="0.50" fill="#50e050" opacity="0.51"/><circle cx="55.2" cy="42.7" r="0.48" fill="#50e050" opacity="0.40"/><circle cx="45.9" cy="54.7" r="0.66" fill="#50e050" opacity="0.52"/><circle cx="39.1" cy="55.4" r="0.42" fill="#50e050" opacity="0.42"/><circle cx="48.0" cy="41.9" r="0.66" fill="#50e050" opacity="0.40"/><circle cx="47.2" cy="51.2" r="0.56" fill="#50e050" opacity="0.45"/><circle cx="39.7" cy="56.9" r="0.58" fill="#50e050" opacity="0.45"/><circle cx="44.8" cy="46.9" r="0.68" fill="#50e050" opacity="0.52"/><circle cx="51.4" cy="47.2" r="0.56" fill="#50e050" opacity="0.46"/><circle cx="39.4" cy="53.4" r="0.48" fill="#50e050" opacity="0.62"/><circle cx="47.3" cy="56.9" r="0.64" fill="#50e050" opacity="0.54"/><circle cx="37.9" cy="59.5" r="0.53" fill="#50e050" opacity="0.65"/><circle cx="52.5" cy="46.9" r="0.59" fill="#50e050" opacity="0.32"/><circle cx="46.2" cy="47.9" r="0.58" fill="#50e050" opacity="0.37"/><circle cx="50.1" cy="43.2" r="0.64" fill="#50e050" opacity="0.50"/><circle cx="38.4" cy="49.3" r="0.49" fill="#50e050" opacity="0.38"/><circle cx="45.9" cy="47.0" r="0.68" fill="#50e050" opacity="0.38"/><circle cx="48.8" cy="49.6" r="0.64" fill="#50e050" opacity="0.68"/><circle cx="40.8" cy="58.5" r="0.48" fill="#50e050" opacity="0.66"/><circle cx="42.3" cy="49.7" r="0.42" fill="#50e050" opacity="0.58"/><circle cx="55.1" cy="44.8" r="0.49" fill="#50e050" opacity="0.39"/><circle cx="39.5" cy="52.8" r="0.57" fill="#50e050" opacity="0.36"/><circle cx="48.7" cy="44.9" r="0.65" fill="#50e050" opacity="0.36"/><circle cx="43.8" cy="42.7" r="0.52" fill="#50e050" opacity="0.31"/><circle cx="42.6" cy="58.3" r="0.47" fill="#50e050" opacity="0.52"/><circle cx="52.8" cy="48.1" r="0.62" fill="#50e050" opacity="0.47"/><circle cx="42.6" cy="49.9" r="0.65" fill="#50e050" opacity="0.35"/><circle cx="51.7" cy="40.7" r="0.68" fill="#50e050" opacity="0.51"/><circle cx="46.8" cy="55.0" r="0.63" fill="#50e050" opacity="0.50"/><circle cx="47.5" cy="47.5" r="0.55" fill="#50e050" opacity="0.65"/><circle cx="37.7" cy="52.9" r="0.43" fill="#50e050" opacity="0.36"/><circle cx="48.8" cy="56.9" r="0.65" fill="#50e050" opacity="0.39"/><circle cx="46.6" cy="48.7" r="0.58" fill="#50e050" opacity="0.69"/><circle cx="44.2" cy="59.5" r="0.60" fill="#50e050" opacity="0.32"/><circle cx="45.1" cy="56.5" r="0.47" fill="#50e050" opacity="0.60"/><circle cx="53.0" cy="52.0" r="0.49" fill="#50e050" opacity="0.33"/><circle cx="42.2" cy="52.2" r="0.57" fill="#50e050" opacity="0.62"/><circle cx="38.3" cy="52.8" r="0.41" fill="#50e050" opacity="0.51"/><circle cx="54.0" cy="47.9" r="0.44" fill="#50e050" opacity="0.53"/><circle cx="44.3" cy="56.3" r="0.60" fill="#50e050" opacity="0.37"/><circle cx="54.1" cy="51.6" r="0.50" fill="#50e050" opacity="0.64"/><circle cx="47.8" cy="43.8" r="0.44" fill="#50e050" opacity="0.34"/><circle cx="46.7" cy="47.2" r="0.55" fill="#50e050" opacity="0.51"/><circle cx="52.6" cy="49.1" r="0.45" fill="#50e050" opacity="0.51"/><circle cx="15.8" cy="8.8" r="1.2" fill="#30b530" filter="url(#bl0_6)"/></g></g>
<g transform="translate(45.6,268.5)" clip-path="url(#cp9)"><g filter="url(#nz9)"><rect x="0" y="0" width="107.8" height="104.2" fill="#062606"/><path d="M1.3,20.1 C1.8,17.3 1.7,17.6 3.6,17.0 C5.5,16.4 9.2,15.7 12.8,16.2 C16.4,16.7 20.5,18.6 25.1,20.1 C29.7,21.6 35.3,23.8 40.4,25.4 C45.5,27.0 53.0,28.6 55.8,30.0 C58.6,31.4 57.4,32.2 57.3,33.9 C57.2,35.6 55.8,38.7 55.0,40.0 C54.2,41.3 53.9,42.1 52.7,41.5 C51.6,40.9 49.9,37.4 48.1,36.6 C46.3,35.8 43.4,36.2 42.0,36.9 C40.6,37.6 39.8,39.3 39.7,40.8 C39.6,42.3 40.2,44.5 41.2,46.1 C42.2,47.8 44.6,49.6 45.8,50.7 C46.9,51.8 48.2,51.7 48.1,52.6 C48.0,53.5 46.0,54.2 45.0,56.1 C44.0,58.0 44.0,62.9 42.0,64.1 C40.0,65.2 36.9,64.2 32.8,63.0 C28.7,61.8 21.9,58.8 17.4,56.9 C12.9,55.0 8.4,53.3 5.9,51.5 C3.4,49.7 3.0,49.0 2.1,46.1 C1.2,43.2 0.9,38.2 0.8,33.9 C0.7,29.6 0.8,22.9 1.3,20.1Z" fill="#0f4a0f" opacity="0.6" filter="url(#bl2)"/><path d="M59.6,32.0 C61.9,32.5 66.6,37.0 71.1,40.0 C75.6,43.0 81.6,46.9 86.5,50.0 C91.4,53.1 97.0,55.5 100.3,58.4 C103.6,61.3 104.9,63.8 106.1,67.6 C107.2,71.4 107.1,77.5 107.2,81.4 C107.3,85.3 108.1,89.5 106.9,90.9 C105.8,92.3 103.7,91.2 100.3,89.9 C96.9,88.6 91.4,84.9 86.5,83.0 C81.6,81.1 76.2,80.2 71.1,78.4 C66.0,76.6 60.0,74.0 55.8,72.2 C51.6,70.4 47.8,68.9 45.8,67.6 C43.8,66.3 43.4,66.4 43.5,64.6 C43.6,62.8 45.1,60.0 46.6,56.9 C48.1,53.8 50.9,49.4 52.7,46.1 C54.5,42.8 56.1,39.2 57.3,36.9 C58.4,34.5 57.3,31.5 59.6,32.0Z" fill="#125212" opacity="0.65" filter="url(#bl2)"/><ellipse cx="96" cy="18" rx="10" ry="14" transform="rotate(20 96 18)" fill="#0e480e" opacity="0.6" filter="url(#bl4)"/><circle cx="59.6" cy="54.5" r="0.49" fill="#38b838" opacity="0.45"/><circle cx="72.3" cy="66.5" r="0.51" fill="#38b838" opacity="0.69"/><circle cx="52.4" cy="50.6" r="0.41" fill="#38b838" opacity="0.72"/><circle cx="53.2" cy="52.0" r="0.66" fill="#38b838" opacity="0.59"/><circle cx="69.6" cy="71.5" r="0.47" fill="#38b838" opacity="0.38"/><circle cx="84.1" cy="70.5" r="0.63" fill="#38b838" opacity="0.40"/><circle cx="77.7" cy="62.9" r="0.66" fill="#38b838" opacity="0.37"/><circle cx="59.5" cy="48.5" r="0.72" fill="#38b838" opacity="0.28"/><circle cx="68.2" cy="69.6" r="0.84" fill="#38b838" opacity="0.27"/><circle cx="62.4" cy="49.3" r="0.77" fill="#38b838" opacity="0.42"/><circle cx="80.7" cy="59.0" r="0.81" fill="#38b838" opacity="0.26"/><circle cx="85.7" cy="66.9" r="0.58" fill="#38b838" opacity="0.29"/><circle cx="67.9" cy="70.5" r="0.71" fill="#38b838" opacity="0.33"/><circle cx="65.9" cy="62.4" r="0.49" fill="#38b838" opacity="0.36"/><circle cx="57.2" cy="64.4" r="0.85" fill="#38b838" opacity="0.65"/><circle cx="57.0" cy="54.5" r="0.75" fill="#38b838" opacity="0.70"/><circle cx="76.5" cy="54.5" r="0.49" fill="#38b838" opacity="0.56"/><circle cx="86.5" cy="61.1" r="0.44" fill="#38b838" opacity="0.61"/><circle cx="65.3" cy="62.3" r="0.83" fill="#38b838" opacity="0.59"/><circle cx="73.8" cy="58.4" r="0.77" fill="#38b838" opacity="0.72"/><circle cx="89.5" cy="65.9" r="0.77" fill="#38b838" opacity="0.65"/><circle cx="62.4" cy="51.9" r="0.77" fill="#38b838" opacity="0.64"/><circle cx="82.0" cy="62.7" r="0.83" fill="#38b838" opacity="0.52"/><circle cx="79.3" cy="64.8" r="0.84" fill="#38b838" opacity="0.64"/><circle cx="66.7" cy="70.6" r="0.50" fill="#38b838" opacity="0.35"/><circle cx="61.5" cy="57.6" r="0.62" fill="#38b838" opacity="0.70"/><circle cx="69.3" cy="50.6" r="0.58" fill="#38b838" opacity="0.64"/><circle cx="81.0" cy="57.1" r="0.82" fill="#38b838" opacity="0.66"/><circle cx="66.0" cy="60.6" r="0.69" fill="#38b838" opacity="0.67"/><circle cx="59.9" cy="63.3" r="0.78" fill="#38b838" opacity="0.65"/><circle cx="86.4" cy="70.6" r="0.41" fill="#38b838" opacity="0.31"/><circle cx="80.4" cy="59.3" r="0.67" fill="#38b838" opacity="0.48"/><circle cx="64.9" cy="62.9" r="0.56" fill="#38b838" opacity="0.67"/><circle cx="65.8" cy="53.7" r="0.44" fill="#38b838" opacity="0.39"/><circle cx="71.3" cy="53.6" r="0.70" fill="#38b838" opacity="0.65"/><circle cx="81.3" cy="74.6" r="0.42" fill="#38b838" opacity="0.66"/><circle cx="73.7" cy="69.1" r="0.83" fill="#38b838" opacity="0.43"/><circle cx="70.0" cy="72.7" r="0.67" fill="#38b838" opacity="0.70"/><circle cx="58.0" cy="59.5" r="0.83" fill="#38b838" opacity="0.50"/><circle cx="81.2" cy="66.9" r="0.77" fill="#38b838" opacity="0.33"/><circle cx="71.6" cy="61.7" r="0.48" fill="#38b838" opacity="0.72"/><circle cx="52.7" cy="54.1" r="0.51" fill="#38b838" opacity="0.43"/><circle cx="82.0" cy="73.4" r="0.79" fill="#38b838" opacity="0.51"/><circle cx="54.0" cy="60.2" r="0.80" fill="#38b838" opacity="0.58"/><circle cx="84.6" cy="73.9" r="0.60" fill="#38b838" opacity="0.73"/><circle cx="57.7" cy="61.6" r="0.68" fill="#38b838" opacity="0.44"/><circle cx="55.7" cy="51.1" r="0.81" fill="#38b838" opacity="0.50"/><circle cx="54.4" cy="61.3" r="0.43" fill="#38b838" opacity="0.67"/><circle cx="69.5" cy="51.9" r="0.60" fill="#38b838" opacity="0.63"/><circle cx="88.7" cy="64.8" r="0.74" fill="#38b838" opacity="0.27"/><circle cx="66.7" cy="63.1" r="0.83" fill="#38b838" opacity="0.70"/><circle cx="78.5" cy="73.4" r="0.66" fill="#38b838" opacity="0.27"/><circle cx="55.0" cy="59.1" r="0.69" fill="#38b838" opacity="0.39"/><circle cx="75.8" cy="57.4" r="0.64" fill="#38b838" opacity="0.46"/><circle cx="89.2" cy="70.5" r="0.76" fill="#38b838" opacity="0.59"/><circle cx="53.4" cy="59.8" r="0.72" fill="#38b838" opacity="0.60"/><circle cx="68.4" cy="64.9" r="0.66" fill="#38b838" opacity="0.66"/><circle cx="78.4" cy="58.5" r="0.46" fill="#38b838" opacity="0.51"/><circle cx="79.5" cy="62.8" r="0.73" fill="#38b838" opacity="0.34"/><circle cx="69.0" cy="63.0" r="0.53" fill="#38b838" opacity="0.44"/><circle cx="93.1" cy="71.6" r="0.48" fill="#38b838" opacity="0.40"/><circle cx="81.5" cy="65.5" r="0.54" fill="#38b838" opacity="0.47"/><circle cx="78.5" cy="69.8" r="0.58" fill="#38b838" opacity="0.44"/><circle cx="83.1" cy="66.9" r="0.49" fill="#38b838" opacity="0.70"/><circle cx="52.4" cy="54.2" r="0.69" fill="#38b838" opacity="0.64"/><circle cx="66.8" cy="63.6" r="0.74" fill="#38b838" opacity="0.49"/><circle cx="57.8" cy="50.0" r="0.74" fill="#38b838" opacity="0.39"/><circle cx="55.0" cy="61.5" r="0.64" fill="#38b838" opacity="0.39"/><circle cx="66.8" cy="54.3" r="0.75" fill="#38b838" opacity="0.27"/><circle cx="82.9" cy="59.8" r="0.56" fill="#38b838" opacity="0.72"/><circle cx="68.3" cy="66.1" r="0.43" fill="#38b838" opacity="0.52"/><circle cx="76.9" cy="54.4" r="0.59" fill="#38b838" opacity="0.65"/><circle cx="78.9" cy="70.5" r="0.69" fill="#38b838" opacity="0.73"/><circle cx="63.9" cy="49.4" r="0.75" fill="#38b838" opacity="0.45"/><circle cx="90.4" cy="68.6" r="0.55" fill="#38b838" opacity="0.45"/><circle cx="79.3" cy="59.1" r="0.48" fill="#38b838" opacity="0.69"/><circle cx="58.1" cy="52.1" r="0.70" fill="#38b838" opacity="0.70"/><circle cx="77.7" cy="70.8" r="0.43" fill="#38b838" opacity="0.46"/><circle cx="52.9" cy="50.8" r="0.70" fill="#38b838" opacity="0.54"/><circle cx="56.7" cy="58.6" r="0.52" fill="#38b838" opacity="0.67"/><circle cx="81.4" cy="56.2" r="0.47" fill="#38b838" opacity="0.59"/><circle cx="76.3" cy="55.5" r="0.80" fill="#38b838" opacity="0.70"/><circle cx="76.2" cy="52.9" r="0.69" fill="#38b838" opacity="0.69"/><circle cx="80.4" cy="74.7" r="0.72" fill="#38b838" opacity="0.56"/><circle cx="69.7" cy="64.0" r="0.67" fill="#38b838" opacity="0.66"/><circle cx="68.1" cy="65.6" r="0.50" fill="#38b838" opacity="0.30"/><circle cx="67.7" cy="48.3" r="0.76" fill="#38b838" opacity="0.43"/><circle cx="71.7" cy="58.6" r="0.78" fill="#38b838" opacity="0.41"/><circle cx="88.4" cy="71.7" r="0.46" fill="#38b838" opacity="0.39"/><circle cx="83.6" cy="71.8" r="0.65" fill="#38b838" opacity="0.65"/><circle cx="89.1" cy="74.7" r="0.45" fill="#38b838" opacity="0.36"/><circle cx="66.0" cy="53.2" r="0.55" fill="#38b838" opacity="0.53"/><circle cx="70.9" cy="72.5" r="0.49" fill="#38b838" opacity="0.67"/><circle cx="81.3" cy="58.7" r="0.41" fill="#38b838" opacity="0.64"/><circle cx="85.8" cy="71.6" r="0.59" fill="#38b838" opacity="0.28"/><circle cx="63.3" cy="49.1" r="0.66" fill="#38b838" opacity="0.45"/><circle cx="56.4" cy="52.3" r="0.50" fill="#38b838" opacity="0.68"/><circle cx="90.8" cy="72.5" r="0.83" fill="#38b838" opacity="0.41"/><circle cx="77.7" cy="65.0" r="0.62" fill="#38b838" opacity="0.32"/><circle cx="54.2" cy="54.7" r="0.72" fill="#38b838" opacity="0.48"/><circle cx="65.1" cy="62.6" r="0.58" fill="#38b838" opacity="0.39"/><circle cx="73.7" cy="73.2" r="0.63" fill="#38b838" opacity="0.47"/><circle cx="73.3" cy="72.8" r="0.49" fill="#38b838" opacity="0.38"/><circle cx="57.5" cy="49.7" r="0.84" fill="#38b838" opacity="0.62"/><circle cx="92.6" cy="70.0" r="0.73" fill="#38b838" opacity="0.61"/><circle cx="79.7" cy="68.7" r="0.41" fill="#38b838" opacity="0.68"/><circle cx="73.4" cy="52.9" r="0.52" fill="#38b838" opacity="0.43"/><circle cx="76.8" cy="73.4" r="0.85" fill="#38b838" opacity="0.40"/><circle cx="79.7" cy="67.9" r="0.56" fill="#38b838" opacity="0.70"/><circle cx="80.2" cy="58.7" r="0.45" fill="#38b838" opacity="0.30"/><circle cx="37.4" cy="52.1" r="0.59" fill="#2c9c2c" opacity="0.60"/><circle cx="48.1" cy="41.3" r="0.59" fill="#2c9c2c" opacity="0.53"/><circle cx="34.9" cy="44.5" r="0.63" fill="#2c9c2c" opacity="0.40"/><circle cx="31.8" cy="46.4" r="0.41" fill="#2c9c2c" opacity="0.56"/><circle cx="32.4" cy="27.7" r="0.79" fill="#2c9c2c" opacity="0.37"/><circle cx="33.9" cy="32.7" r="0.72" fill="#2c9c2c" opacity="0.54"/><circle cx="32.9" cy="41.6" r="0.49" fill="#2c9c2c" opacity="0.43"/><circle cx="30.4" cy="40.1" r="0.73" fill="#2c9c2c" opacity="0.51"/><circle cx="28.1" cy="38.8" r="0.76" fill="#2c9c2c" opacity="0.41"/><circle cx="40.1" cy="47.0" r="0.65" fill="#2c9c2c" opacity="0.55"/><circle cx="17.2" cy="34.1" r="0.48" fill="#2c9c2c" opacity="0.30"/><circle cx="43.1" cy="40.6" r="0.44" fill="#2c9c2c" opacity="0.44"/><circle cx="36.1" cy="46.1" r="0.58" fill="#2c9c2c" opacity="0.43"/><circle cx="25.2" cy="28.4" r="0.58" fill="#2c9c2c" opacity="0.23"/><circle cx="32.5" cy="37.2" r="0.59" fill="#2c9c2c" opacity="0.36"/><circle cx="28.7" cy="28.5" r="0.50" fill="#2c9c2c" opacity="0.46"/><circle cx="30.8" cy="31.0" r="0.46" fill="#2c9c2c" opacity="0.56"/><circle cx="29.1" cy="36.7" r="0.50" fill="#2c9c2c" opacity="0.59"/><circle cx="30.4" cy="47.5" r="0.72" fill="#2c9c2c" opacity="0.53"/><circle cx="24.9" cy="28.2" r="0.42" fill="#2c9c2c" opacity="0.24"/><circle cx="48.7" cy="46.0" r="0.42" fill="#2c9c2c" opacity="0.22"/><circle cx="28.2" cy="51.0" r="0.49" fill="#2c9c2c" opacity="0.47"/><circle cx="46.8" cy="42.4" r="0.77" fill="#2c9c2c" opacity="0.31"/><circle cx="32.8" cy="41.9" r="0.70" fill="#2c9c2c" opacity="0.24"/><circle cx="47.8" cy="45.5" r="0.47" fill="#2c9c2c" opacity="0.52"/><circle cx="35.7" cy="49.8" r="0.44" fill="#2c9c2c" opacity="0.51"/><circle cx="48.4" cy="39.6" r="0.40" fill="#2c9c2c" opacity="0.54"/><circle cx="18.2" cy="29.4" r="0.60" fill="#2c9c2c" opacity="0.45"/><circle cx="21.1" cy="28.3" r="0.43" fill="#2c9c2c" opacity="0.22"/><circle cx="23.4" cy="34.0" r="0.56" fill="#2c9c2c" opacity="0.20"/><circle cx="32.7" cy="38.3" r="0.73" fill="#2c9c2c" opacity="0.52"/><circle cx="25.4" cy="38.1" r="0.66" fill="#2c9c2c" opacity="0.28"/><circle cx="25.8" cy="39.0" r="0.79" fill="#2c9c2c" opacity="0.42"/><circle cx="27.4" cy="41.1" r="0.69" fill="#2c9c2c" opacity="0.54"/><circle cx="36.7" cy="38.7" r="0.55" fill="#2c9c2c" opacity="0.32"/><circle cx="34.5" cy="36.1" r="0.64" fill="#2c9c2c" opacity="0.59"/><circle cx="32.6" cy="39.2" r="0.43" fill="#2c9c2c" opacity="0.25"/><circle cx="30.7" cy="29.8" r="0.61" fill="#2c9c2c" opacity="0.38"/><circle cx="18.0" cy="39.2" r="0.66" fill="#2c9c2c" opacity="0.57"/><circle cx="34.7" cy="29.5" r="0.77" fill="#2c9c2c" opacity="0.53"/><circle cx="32.2" cy="37.8" r="0.67" fill="#2c9c2c" opacity="0.54"/><circle cx="14.6" cy="37.1" r="0.47" fill="#2c9c2c" opacity="0.58"/><circle cx="16.2" cy="36.6" r="0.50" fill="#2c9c2c" opacity="0.32"/><circle cx="23.7" cy="42.3" r="0.44" fill="#2c9c2c" opacity="0.38"/><circle cx="47.0" cy="45.7" r="0.77" fill="#2c9c2c" opacity="0.50"/><circle cx="45.7" cy="35.1" r="0.70" fill="#2c9c2c" opacity="0.31"/><circle cx="28.8" cy="47.0" r="0.41" fill="#2c9c2c" opacity="0.29"/><circle cx="48.3" cy="39.3" r="0.53" fill="#2c9c2c" opacity="0.51"/><circle cx="39.4" cy="31.1" r="0.72" fill="#2c9c2c" opacity="0.41"/><circle cx="42.2" cy="52.1" r="0.53" fill="#2c9c2c" opacity="0.45"/><ellipse cx="53.5" cy="46.9" rx="12.6" ry="7.2" transform="rotate(27 53.5 46.9)" fill="#25f025" opacity="1" filter="url(#bl0_6)"/><ellipse cx="52" cy="46" rx="8" ry="5" transform="rotate(27 52 46)" fill="#2cf52c" opacity="1" filter="url(#bl0_6)"/></g><ellipse cx="53.5" cy="46.9" rx="11.8" ry="6.5" transform="rotate(27 53.5 46.9)" fill="#3cff3c" opacity="0.6" filter="url(#bl1)"/><path d="M1.3,20.1 C1.8,17.3 1.7,17.6 3.6,17.0 C5.5,16.4 9.2,15.7 12.8,16.2 C16.4,16.7 20.5,18.6 25.1,20.1 C29.7,21.6 35.3,23.8 40.4,25.4 C45.5,27.0 53.0,28.6 55.8,30.0 C58.6,31.4 57.4,32.2 57.3,33.9 C57.2,35.6 55.8,38.7 55.0,40.0 C54.2,41.3 53.9,42.1 52.7,41.5 C51.6,40.9 49.9,37.4 48.1,36.6 C46.3,35.8 43.4,36.2 42.0,36.9 C40.6,37.6 39.8,39.3 39.7,40.8 C39.6,42.3 40.2,44.5 41.2,46.1 C42.2,47.8 44.6,49.6 45.8,50.7 C46.9,51.8 48.2,51.7 48.1,52.6 C48.0,53.5 46.0,54.2 45.0,56.1 C44.0,58.0 44.0,62.9 42.0,64.1 C40.0,65.2 36.9,64.2 32.8,63.0 C28.7,61.8 21.9,58.8 17.4,56.9 C12.9,55.0 8.4,53.3 5.9,51.5 C3.4,49.7 3.0,49.0 2.1,46.1 C1.2,43.2 0.9,38.2 0.8,33.9 C0.7,29.6 0.8,22.9 1.3,20.1Z" fill="none" stroke="#fafa1e" stroke-width="1.3"/><path d="M59.6,32.0 C61.9,32.5 66.6,37.0 71.1,40.0 C75.6,43.0 81.6,46.9 86.5,50.0 C91.4,53.1 97.0,55.5 100.3,58.4 C103.6,61.3 104.9,63.8 106.1,67.6 C107.2,71.4 107.1,77.5 107.2,81.4 C107.3,85.3 108.1,89.5 106.9,90.9 C105.8,92.3 103.7,91.2 100.3,89.9 C96.9,88.6 91.4,84.9 86.5,83.0 C81.6,81.1 76.2,80.2 71.1,78.4 C66.0,76.6 60.0,74.0 55.8,72.2 C51.6,70.4 47.8,68.9 45.8,67.6 C43.8,66.3 43.4,66.4 43.5,64.6 C43.6,62.8 45.1,60.0 46.6,56.9 C48.1,53.8 50.9,49.4 52.7,46.1 C54.5,42.8 56.1,39.2 57.3,36.9 C58.4,34.5 57.3,31.5 59.6,32.0Z" fill="none" stroke="#fafa1e" stroke-width="1.3"/><rect x="4.8" y="4.4" width="14.6" height="1.5" fill="#10e010"/><text x="4.6" y="11.6" font-size="5.2" font-weight="bold" fill="#10d810" textLength="15.6" lengthAdjust="spacingAndGlyphs">10 µm</text></g>
<g transform="translate(157.2,268.5)" clip-path="url(#cp10)"><g filter="url(#nz10)"><rect x="0" y="0" width="107.8" height="104.2" fill="#062606"/><ellipse cx="60" cy="55" rx="62" ry="19" transform="rotate(27 60 55)" fill="#0c440c" opacity="0.7" filter="url(#bl6)"/><ellipse cx="88" cy="30" rx="24" ry="15" transform="rotate(30 88 30)" fill="#052405" opacity="0.55" filter="url(#bl6)"/><ellipse cx="104" cy="8" rx="6" ry="10" transform="rotate(10 104 8)" fill="#1a6a1a" opacity="0.5" filter="url(#bl3)"/><circle cx="57.9" cy="57.3" r="0.83" fill="#34b034" opacity="0.33"/><circle cx="55.7" cy="48.0" r="0.64" fill="#34b034" opacity="0.72"/><circle cx="52.2" cy="53.8" r="0.71" fill="#34b034" opacity="0.73"/><circle cx="76.2" cy="64.4" r="0.53" fill="#34b034" opacity="0.70"/><circle cx="79.5" cy="64.0" r="0.72" fill="#34b034" opacity="0.74"/><circle cx="72.7" cy="66.4" r="0.71" fill="#34b034" opacity="0.60"/><circle cx="73.9" cy="50.2" r="0.51" fill="#34b034" opacity="0.38"/><circle cx="84.9" cy="68.3" r="0.49" fill="#34b034" opacity="0.38"/><circle cx="85.8" cy="65.1" r="0.67" fill="#34b034" opacity="0.58"/><circle cx="59.4" cy="46.3" r="0.54" fill="#34b034" opacity="0.28"/><circle cx="71.9" cy="59.6" r="0.56" fill="#34b034" opacity="0.32"/><circle cx="77.9" cy="67.8" r="0.84" fill="#34b034" opacity="0.59"/><circle cx="63.2" cy="64.1" r="0.48" fill="#34b034" opacity="0.30"/><circle cx="63.0" cy="60.9" r="0.71" fill="#34b034" opacity="0.47"/><circle cx="70.7" cy="54.9" r="0.82" fill="#34b034" opacity="0.42"/><circle cx="72.4" cy="57.6" r="0.77" fill="#34b034" opacity="0.36"/><circle cx="84.0" cy="57.9" r="0.70" fill="#34b034" opacity="0.39"/><circle cx="78.2" cy="63.0" r="0.81" fill="#34b034" opacity="0.33"/><circle cx="65.3" cy="47.9" r="0.70" fill="#34b034" opacity="0.34"/><circle cx="72.5" cy="62.2" r="0.84" fill="#34b034" opacity="0.44"/><circle cx="64.8" cy="47.9" r="0.50" fill="#34b034" opacity="0.28"/><circle cx="87.1" cy="68.9" r="0.46" fill="#34b034" opacity="0.73"/><circle cx="56.2" cy="57.4" r="0.46" fill="#34b034" opacity="0.64"/><circle cx="66.9" cy="63.2" r="0.64" fill="#34b034" opacity="0.31"/><circle cx="65.7" cy="65.8" r="0.53" fill="#34b034" opacity="0.44"/><circle cx="73.2" cy="54.4" r="0.49" fill="#34b034" opacity="0.36"/><circle cx="59.4" cy="56.5" r="0.69" fill="#34b034" opacity="0.49"/><circle cx="73.7" cy="58.3" r="0.70" fill="#34b034" opacity="0.67"/><circle cx="69.5" cy="59.7" r="0.60" fill="#34b034" opacity="0.31"/><circle cx="53.4" cy="50.8" r="0.44" fill="#34b034" opacity="0.31"/><circle cx="61.9" cy="53.9" r="0.50" fill="#34b034" opacity="0.47"/><circle cx="72.8" cy="61.6" r="0.56" fill="#34b034" opacity="0.48"/><circle cx="84.5" cy="63.0" r="0.43" fill="#34b034" opacity="0.36"/><circle cx="73.2" cy="51.2" r="0.79" fill="#34b034" opacity="0.73"/><circle cx="75.3" cy="58.1" r="0.82" fill="#34b034" opacity="0.51"/><circle cx="68.4" cy="61.9" r="0.79" fill="#34b034" opacity="0.36"/><circle cx="77.2" cy="65.1" r="0.82" fill="#34b034" opacity="0.48"/><circle cx="70.7" cy="55.3" r="0.60" fill="#34b034" opacity="0.41"/><circle cx="70.4" cy="67.3" r="0.56" fill="#34b034" opacity="0.31"/><circle cx="83.5" cy="65.0" r="0.48" fill="#34b034" opacity="0.26"/><circle cx="65.1" cy="48.4" r="0.41" fill="#34b034" opacity="0.49"/><circle cx="72.8" cy="51.2" r="0.51" fill="#34b034" opacity="0.50"/><circle cx="60.3" cy="46.7" r="0.47" fill="#34b034" opacity="0.65"/><circle cx="86.9" cy="64.4" r="0.79" fill="#34b034" opacity="0.43"/><circle cx="77.9" cy="59.7" r="0.50" fill="#34b034" opacity="0.55"/><circle cx="75.3" cy="59.1" r="0.50" fill="#34b034" opacity="0.27"/><circle cx="62.7" cy="55.4" r="0.49" fill="#34b034" opacity="0.62"/><circle cx="56.4" cy="44.6" r="0.58" fill="#34b034" opacity="0.59"/><circle cx="88.1" cy="69.3" r="0.50" fill="#34b034" opacity="0.49"/><circle cx="51.9" cy="46.7" r="0.62" fill="#34b034" opacity="0.75"/><circle cx="65.2" cy="51.5" r="0.78" fill="#34b034" opacity="0.35"/><circle cx="82.9" cy="65.4" r="0.50" fill="#34b034" opacity="0.73"/><circle cx="61.8" cy="59.9" r="0.55" fill="#34b034" opacity="0.58"/><circle cx="81.1" cy="65.4" r="0.47" fill="#34b034" opacity="0.66"/><circle cx="84.8" cy="66.6" r="0.52" fill="#34b034" opacity="0.48"/><circle cx="56.7" cy="46.6" r="0.46" fill="#34b034" opacity="0.37"/><circle cx="80.2" cy="71.7" r="0.47" fill="#34b034" opacity="0.32"/><circle cx="56.1" cy="48.8" r="0.80" fill="#34b034" opacity="0.28"/><circle cx="68.7" cy="62.0" r="0.66" fill="#34b034" opacity="0.48"/><circle cx="52.4" cy="53.7" r="0.70" fill="#34b034" opacity="0.68"/><circle cx="80.2" cy="62.3" r="0.82" fill="#34b034" opacity="0.45"/><circle cx="85.8" cy="70.6" r="0.45" fill="#34b034" opacity="0.26"/><circle cx="64.9" cy="61.1" r="0.84" fill="#34b034" opacity="0.69"/><circle cx="56.1" cy="54.0" r="0.78" fill="#34b034" opacity="0.65"/><circle cx="65.2" cy="48.4" r="0.45" fill="#34b034" opacity="0.37"/><circle cx="65.2" cy="47.8" r="0.76" fill="#34b034" opacity="0.70"/><circle cx="78.6" cy="61.8" r="0.43" fill="#34b034" opacity="0.70"/><circle cx="63.6" cy="52.2" r="0.71" fill="#34b034" opacity="0.38"/><circle cx="68.0" cy="63.8" r="0.64" fill="#34b034" opacity="0.59"/><circle cx="82.8" cy="69.8" r="0.68" fill="#34b034" opacity="0.49"/><circle cx="65.9" cy="46.5" r="0.40" fill="#34b034" opacity="0.49"/><circle cx="66.8" cy="47.4" r="0.69" fill="#34b034" opacity="0.34"/><circle cx="87.5" cy="65.4" r="0.50" fill="#34b034" opacity="0.47"/><circle cx="79.0" cy="61.8" r="0.58" fill="#34b034" opacity="0.73"/><circle cx="78.9" cy="59.8" r="0.73" fill="#34b034" opacity="0.43"/><circle cx="65.1" cy="46.5" r="0.46" fill="#34b034" opacity="0.36"/><circle cx="69.6" cy="63.6" r="0.42" fill="#34b034" opacity="0.32"/><circle cx="57.9" cy="55.2" r="0.44" fill="#34b034" opacity="0.54"/><circle cx="84.9" cy="63.5" r="0.56" fill="#34b034" opacity="0.60"/><circle cx="61.8" cy="55.1" r="0.62" fill="#34b034" opacity="0.26"/><circle cx="68.4" cy="52.9" r="0.57" fill="#34b034" opacity="0.73"/><circle cx="76.4" cy="51.2" r="0.69" fill="#34b034" opacity="0.57"/><circle cx="69.5" cy="46.8" r="0.49" fill="#34b034" opacity="0.63"/><circle cx="64.6" cy="60.4" r="0.77" fill="#34b034" opacity="0.55"/><circle cx="84.2" cy="57.5" r="0.66" fill="#34b034" opacity="0.35"/><circle cx="83.5" cy="66.6" r="0.73" fill="#34b034" opacity="0.39"/><circle cx="71.0" cy="58.9" r="0.48" fill="#34b034" opacity="0.60"/><circle cx="79.1" cy="63.4" r="0.52" fill="#34b034" opacity="0.61"/><circle cx="72.7" cy="59.4" r="0.45" fill="#34b034" opacity="0.72"/><circle cx="77.6" cy="61.5" r="0.55" fill="#34b034" opacity="0.51"/><circle cx="61.8" cy="60.0" r="0.62" fill="#34b034" opacity="0.38"/><circle cx="74.7" cy="61.8" r="0.47" fill="#34b034" opacity="0.30"/><circle cx="61.6" cy="46.4" r="0.52" fill="#34b034" opacity="0.65"/><circle cx="71.4" cy="52.1" r="0.62" fill="#34b034" opacity="0.34"/><circle cx="84.5" cy="62.6" r="0.42" fill="#34b034" opacity="0.33"/><circle cx="68.7" cy="50.6" r="0.72" fill="#34b034" opacity="0.36"/><circle cx="79.3" cy="53.5" r="0.44" fill="#34b034" opacity="0.54"/><circle cx="71.9" cy="68.1" r="0.76" fill="#34b034" opacity="0.65"/><circle cx="69.2" cy="61.0" r="0.70" fill="#34b034" opacity="0.53"/><circle cx="73.7" cy="64.0" r="0.66" fill="#34b034" opacity="0.30"/><circle cx="65.6" cy="51.2" r="0.52" fill="#34b034" opacity="0.46"/><circle cx="55.0" cy="47.3" r="0.41" fill="#34b034" opacity="0.61"/><circle cx="69.2" cy="63.7" r="0.69" fill="#34b034" opacity="0.60"/><circle cx="59.5" cy="44.7" r="0.49" fill="#34b034" opacity="0.41"/><circle cx="67.1" cy="51.3" r="0.47" fill="#34b034" opacity="0.36"/><circle cx="76.8" cy="51.5" r="0.72" fill="#34b034" opacity="0.73"/><circle cx="75.6" cy="55.1" r="0.54" fill="#34b034" opacity="0.61"/><circle cx="82.6" cy="68.4" r="0.44" fill="#34b034" opacity="0.27"/><circle cx="62.8" cy="53.4" r="0.82" fill="#34b034" opacity="0.69"/><circle cx="61.2" cy="54.2" r="0.45" fill="#34b034" opacity="0.50"/><circle cx="59.0" cy="50.7" r="0.72" fill="#34b034" opacity="0.51"/><circle cx="72.6" cy="55.8" r="0.43" fill="#34b034" opacity="0.44"/><circle cx="60.2" cy="53.0" r="0.70" fill="#34b034" opacity="0.36"/><circle cx="61.4" cy="60.3" r="0.72" fill="#34b034" opacity="0.64"/><circle cx="58.8" cy="57.1" r="0.82" fill="#34b034" opacity="0.72"/><circle cx="66.6" cy="53.5" r="0.61" fill="#34b034" opacity="0.57"/><circle cx="68.4" cy="59.3" r="0.84" fill="#34b034" opacity="0.70"/><circle cx="76.5" cy="67.5" r="0.68" fill="#34b034" opacity="0.40"/><circle cx="83.2" cy="69.8" r="0.75" fill="#34b034" opacity="0.47"/><circle cx="78.7" cy="66.7" r="0.44" fill="#34b034" opacity="0.73"/><circle cx="45.8" cy="44.4" r="0.71" fill="#2c9c2c" opacity="0.25"/><circle cx="42.0" cy="42.6" r="0.47" fill="#2c9c2c" opacity="0.41"/><circle cx="44.0" cy="38.3" r="0.47" fill="#2c9c2c" opacity="0.51"/><circle cx="32.4" cy="39.1" r="0.45" fill="#2c9c2c" opacity="0.30"/><circle cx="44.5" cy="41.5" r="0.50" fill="#2c9c2c" opacity="0.50"/><circle cx="51.7" cy="39.5" r="0.59" fill="#2c9c2c" opacity="0.58"/><circle cx="35.8" cy="34.8" r="0.59" fill="#2c9c2c" opacity="0.49"/><circle cx="40.9" cy="36.9" r="0.48" fill="#2c9c2c" opacity="0.58"/><circle cx="46.8" cy="48.8" r="0.54" fill="#2c9c2c" opacity="0.30"/><circle cx="37.1" cy="45.5" r="0.80" fill="#2c9c2c" opacity="0.26"/><circle cx="46.1" cy="38.4" r="0.47" fill="#2c9c2c" opacity="0.50"/><circle cx="35.6" cy="41.6" r="0.57" fill="#2c9c2c" opacity="0.53"/><circle cx="48.5" cy="38.2" r="0.40" fill="#2c9c2c" opacity="0.51"/><circle cx="32.8" cy="30.8" r="0.78" fill="#2c9c2c" opacity="0.33"/><circle cx="49.5" cy="37.1" r="0.51" fill="#2c9c2c" opacity="0.35"/><circle cx="33.1" cy="41.0" r="0.55" fill="#2c9c2c" opacity="0.24"/><circle cx="38.1" cy="48.5" r="0.56" fill="#2c9c2c" opacity="0.45"/><circle cx="50.5" cy="39.3" r="0.50" fill="#2c9c2c" opacity="0.57"/><circle cx="47.8" cy="34.3" r="0.69" fill="#2c9c2c" opacity="0.50"/><circle cx="44.2" cy="37.4" r="0.66" fill="#2c9c2c" opacity="0.35"/><circle cx="43.7" cy="38.6" r="0.62" fill="#2c9c2c" opacity="0.33"/><circle cx="45.2" cy="37.2" r="0.74" fill="#2c9c2c" opacity="0.54"/><circle cx="44.4" cy="39.5" r="0.78" fill="#2c9c2c" opacity="0.50"/><circle cx="38.2" cy="32.0" r="0.42" fill="#2c9c2c" opacity="0.55"/><circle cx="32.6" cy="34.6" r="0.54" fill="#2c9c2c" opacity="0.51"/><circle cx="45.9" cy="33.7" r="0.49" fill="#2c9c2c" opacity="0.34"/><circle cx="38.8" cy="42.6" r="0.53" fill="#2c9c2c" opacity="0.21"/><circle cx="43.5" cy="37.1" r="0.43" fill="#2c9c2c" opacity="0.23"/><circle cx="41.4" cy="36.2" r="0.58" fill="#2c9c2c" opacity="0.36"/><circle cx="47.5" cy="34.3" r="0.52" fill="#2c9c2c" opacity="0.45"/><circle cx="48.5" cy="39.8" r="0.76" fill="#2c9c2c" opacity="0.49"/><circle cx="32.2" cy="45.0" r="0.63" fill="#2c9c2c" opacity="0.24"/><circle cx="32.0" cy="31.5" r="0.61" fill="#2c9c2c" opacity="0.39"/><circle cx="27.9" cy="39.0" r="0.67" fill="#2c9c2c" opacity="0.28"/><circle cx="33.3" cy="41.4" r="0.78" fill="#2c9c2c" opacity="0.48"/><circle cx="46.0" cy="49.5" r="0.41" fill="#2c9c2c" opacity="0.44"/><circle cx="28.9" cy="38.3" r="0.57" fill="#2c9c2c" opacity="0.24"/><circle cx="29.1" cy="33.6" r="0.72" fill="#2c9c2c" opacity="0.34"/><circle cx="38.7" cy="47.8" r="0.72" fill="#2c9c2c" opacity="0.29"/><circle cx="51.9" cy="38.9" r="0.57" fill="#2c9c2c" opacity="0.35"/><ellipse cx="48.5" cy="44.6" rx="7.6" ry="5.8" transform="rotate(25 48.5 44.6)" fill="#30e030" opacity="1" filter="url(#bl1)"/><ellipse cx="47.5" cy="44" rx="5" ry="3.8" transform="rotate(25 47.5 44)" fill="#3cf53c" opacity="0.9" filter="url(#bl1)"/><circle cx="55.2" cy="32.8" r="0.9" fill="#40d040"/></g></g>
<g transform="translate(269.0,268.5)" clip-path="url(#cp11)"><g filter="url(#nz11)"><rect x="0" y="0" width="107.8" height="104.2" fill="#062606"/><ellipse cx="60" cy="55" rx="62" ry="19" transform="rotate(27 60 55)" fill="#0c440c" opacity="0.7" filter="url(#bl6)"/><ellipse cx="88" cy="30" rx="24" ry="15" transform="rotate(30 88 30)" fill="#052405" opacity="0.55" filter="url(#bl6)"/><ellipse cx="104" cy="8" rx="6" ry="10" transform="rotate(10 104 8)" fill="#1a6a1a" opacity="0.5" filter="url(#bl3)"/><circle cx="72.1" cy="50.2" r="0.50" fill="#38b838" opacity="0.42"/><circle cx="59.4" cy="64.3" r="0.49" fill="#38b838" opacity="0.55"/><circle cx="55.0" cy="52.2" r="0.47" fill="#38b838" opacity="0.78"/><circle cx="87.6" cy="71.0" r="0.80" fill="#38b838" opacity="0.35"/><circle cx="87.2" cy="65.7" r="0.78" fill="#38b838" opacity="0.73"/><circle cx="55.1" cy="61.5" r="0.50" fill="#38b838" opacity="0.26"/><circle cx="52.4" cy="50.5" r="0.85" fill="#38b838" opacity="0.78"/><circle cx="52.3" cy="49.8" r="0.68" fill="#38b838" opacity="0.33"/><circle cx="63.0" cy="48.4" r="0.61" fill="#38b838" opacity="0.58"/><circle cx="68.5" cy="66.6" r="0.61" fill="#38b838" opacity="0.53"/><circle cx="65.5" cy="59.0" r="0.40" fill="#38b838" opacity="0.44"/><circle cx="72.9" cy="51.8" r="0.52" fill="#38b838" opacity="0.39"/><circle cx="63.6" cy="56.6" r="0.70" fill="#38b838" opacity="0.75"/><circle cx="72.7" cy="71.7" r="0.76" fill="#38b838" opacity="0.66"/><circle cx="72.4" cy="51.8" r="0.54" fill="#38b838" opacity="0.71"/><circle cx="76.8" cy="63.5" r="0.87" fill="#38b838" opacity="0.49"/><circle cx="75.9" cy="66.0" r="0.80" fill="#38b838" opacity="0.62"/><circle cx="77.9" cy="72.1" r="0.72" fill="#38b838" opacity="0.80"/><circle cx="58.5" cy="63.7" r="0.52" fill="#38b838" opacity="0.36"/><circle cx="76.1" cy="71.2" r="0.71" fill="#38b838" opacity="0.42"/><circle cx="74.9" cy="68.7" r="0.44" fill="#38b838" opacity="0.36"/><circle cx="62.5" cy="64.8" r="0.49" fill="#38b838" opacity="0.51"/><circle cx="50.9" cy="54.5" r="0.64" fill="#38b838" opacity="0.77"/><circle cx="62.5" cy="57.5" r="0.70" fill="#38b838" opacity="0.33"/><circle cx="73.4" cy="65.8" r="0.75" fill="#38b838" opacity="0.78"/><circle cx="60.0" cy="59.4" r="0.61" fill="#38b838" opacity="0.44"/><circle cx="70.5" cy="53.7" r="0.48" fill="#38b838" opacity="0.73"/><circle cx="70.7" cy="60.8" r="0.82" fill="#38b838" opacity="0.65"/><circle cx="58.5" cy="62.2" r="0.86" fill="#38b838" opacity="0.47"/><circle cx="60.4" cy="58.2" r="0.68" fill="#38b838" opacity="0.61"/><circle cx="75.4" cy="51.7" r="0.47" fill="#38b838" opacity="0.45"/><circle cx="86.9" cy="61.6" r="0.70" fill="#38b838" opacity="0.62"/><circle cx="56.7" cy="63.6" r="0.67" fill="#38b838" opacity="0.47"/><circle cx="73.2" cy="66.6" r="0.85" fill="#38b838" opacity="0.69"/><circle cx="83.1" cy="69.6" r="0.64" fill="#38b838" opacity="0.52"/><circle cx="55.2" cy="61.4" r="0.57" fill="#38b838" opacity="0.54"/><circle cx="88.9" cy="67.4" r="0.64" fill="#38b838" opacity="0.43"/><circle cx="56.9" cy="59.7" r="0.79" fill="#38b838" opacity="0.39"/><circle cx="60.6" cy="61.2" r="0.58" fill="#38b838" opacity="0.75"/><circle cx="62.1" cy="54.7" r="0.57" fill="#38b838" opacity="0.70"/><circle cx="77.4" cy="74.0" r="0.41" fill="#38b838" opacity="0.36"/><circle cx="87.6" cy="75.1" r="0.47" fill="#38b838" opacity="0.38"/><circle cx="81.0" cy="69.5" r="0.77" fill="#38b838" opacity="0.65"/><circle cx="92.0" cy="66.9" r="0.68" fill="#38b838" opacity="0.76"/><circle cx="86.1" cy="76.7" r="0.62" fill="#38b838" opacity="0.36"/><circle cx="76.9" cy="53.0" r="0.59" fill="#38b838" opacity="0.30"/><circle cx="88.0" cy="63.3" r="0.70" fill="#38b838" opacity="0.79"/><circle cx="76.5" cy="65.3" r="0.46" fill="#38b838" opacity="0.26"/><circle cx="71.9" cy="52.2" r="0.46" fill="#38b838" opacity="0.34"/><circle cx="74.9" cy="72.7" r="0.74" fill="#38b838" opacity="0.78"/><circle cx="54.6" cy="61.6" r="0.62" fill="#38b838" opacity="0.46"/><circle cx="69.1" cy="66.5" r="0.89" fill="#38b838" opacity="0.80"/><circle cx="71.8" cy="56.8" r="0.49" fill="#38b838" opacity="0.33"/><circle cx="57.6" cy="62.5" r="0.43" fill="#38b838" opacity="0.54"/><circle cx="71.3" cy="59.5" r="0.62" fill="#38b838" opacity="0.69"/><circle cx="61.3" cy="51.9" r="0.84" fill="#38b838" opacity="0.58"/><circle cx="62.2" cy="63.2" r="0.87" fill="#38b838" opacity="0.72"/><circle cx="87.5" cy="66.1" r="0.47" fill="#38b838" opacity="0.35"/><circle cx="56.1" cy="59.9" r="0.40" fill="#38b838" opacity="0.69"/><circle cx="79.2" cy="57.3" r="0.40" fill="#38b838" opacity="0.69"/><circle cx="55.1" cy="57.6" r="0.68" fill="#38b838" opacity="0.65"/><circle cx="52.0" cy="57.2" r="0.88" fill="#38b838" opacity="0.76"/><circle cx="65.3" cy="53.4" r="0.59" fill="#38b838" opacity="0.40"/><circle cx="90.0" cy="66.0" r="0.79" fill="#38b838" opacity="0.70"/><circle cx="89.5" cy="71.5" r="0.56" fill="#38b838" opacity="0.67"/><circle cx="66.5" cy="68.7" r="0.48" fill="#38b838" opacity="0.72"/><circle cx="60.9" cy="56.1" r="0.86" fill="#38b838" opacity="0.30"/><circle cx="90.4" cy="67.9" r="0.47" fill="#38b838" opacity="0.67"/><circle cx="56.6" cy="47.7" r="0.69" fill="#38b838" opacity="0.49"/><circle cx="78.3" cy="64.1" r="0.79" fill="#38b838" opacity="0.31"/><circle cx="69.0" cy="64.5" r="0.84" fill="#38b838" opacity="0.49"/><circle cx="73.2" cy="56.3" r="0.77" fill="#38b838" opacity="0.61"/><circle cx="81.7" cy="72.7" r="0.76" fill="#38b838" opacity="0.37"/><circle cx="68.2" cy="54.3" r="0.59" fill="#38b838" opacity="0.76"/><circle cx="93.4" cy="69.9" r="0.61" fill="#38b838" opacity="0.56"/><circle cx="83.0" cy="58.0" r="0.63" fill="#38b838" opacity="0.72"/><circle cx="52.4" cy="57.9" r="0.64" fill="#38b838" opacity="0.32"/><circle cx="74.0" cy="58.3" r="0.74" fill="#38b838" opacity="0.28"/><circle cx="87.5" cy="70.3" r="0.77" fill="#38b838" opacity="0.32"/><circle cx="66.2" cy="52.8" r="0.52" fill="#38b838" opacity="0.70"/><circle cx="85.3" cy="71.5" r="0.44" fill="#38b838" opacity="0.72"/><circle cx="75.7" cy="62.6" r="0.63" fill="#38b838" opacity="0.51"/><circle cx="73.1" cy="52.0" r="0.57" fill="#38b838" opacity="0.76"/><circle cx="73.2" cy="67.0" r="0.81" fill="#38b838" opacity="0.32"/><circle cx="74.2" cy="71.5" r="0.57" fill="#38b838" opacity="0.34"/><circle cx="86.6" cy="66.7" r="0.79" fill="#38b838" opacity="0.39"/><circle cx="81.7" cy="64.5" r="0.85" fill="#38b838" opacity="0.59"/><circle cx="90.8" cy="70.9" r="0.72" fill="#38b838" opacity="0.54"/><circle cx="83.4" cy="61.9" r="0.45" fill="#38b838" opacity="0.75"/><circle cx="82.1" cy="58.0" r="0.77" fill="#38b838" opacity="0.38"/><circle cx="52.5" cy="53.4" r="0.88" fill="#38b838" opacity="0.76"/><circle cx="77.3" cy="74.0" r="0.68" fill="#38b838" opacity="0.47"/><circle cx="74.0" cy="67.3" r="0.64" fill="#38b838" opacity="0.52"/><circle cx="67.3" cy="66.9" r="0.68" fill="#38b838" opacity="0.67"/><circle cx="66.1" cy="55.9" r="0.84" fill="#38b838" opacity="0.45"/><circle cx="93.3" cy="71.2" r="0.47" fill="#38b838" opacity="0.57"/><circle cx="85.3" cy="68.1" r="0.67" fill="#38b838" opacity="0.42"/><circle cx="80.8" cy="68.1" r="0.46" fill="#38b838" opacity="0.41"/><circle cx="64.3" cy="50.6" r="0.87" fill="#38b838" opacity="0.63"/><circle cx="54.8" cy="61.5" r="0.72" fill="#38b838" opacity="0.55"/><circle cx="86.5" cy="62.5" r="0.58" fill="#38b838" opacity="0.58"/><circle cx="60.5" cy="67.2" r="0.52" fill="#38b838" opacity="0.79"/><circle cx="73.7" cy="63.5" r="0.68" fill="#38b838" opacity="0.36"/><circle cx="65.0" cy="57.7" r="0.82" fill="#38b838" opacity="0.62"/><circle cx="68.8" cy="49.0" r="0.90" fill="#38b838" opacity="0.62"/><circle cx="72.0" cy="61.5" r="0.42" fill="#38b838" opacity="0.48"/><circle cx="84.0" cy="67.6" r="0.68" fill="#38b838" opacity="0.25"/><circle cx="52.3" cy="56.7" r="0.69" fill="#38b838" opacity="0.70"/><circle cx="81.1" cy="67.7" r="0.49" fill="#38b838" opacity="0.71"/><circle cx="84.9" cy="76.8" r="0.53" fill="#38b838" opacity="0.73"/><circle cx="60.5" cy="54.7" r="0.88" fill="#38b838" opacity="0.47"/><circle cx="71.6" cy="58.7" r="0.82" fill="#38b838" opacity="0.79"/><circle cx="82.8" cy="75.2" r="0.54" fill="#38b838" opacity="0.33"/><circle cx="57.5" cy="61.4" r="0.88" fill="#38b838" opacity="0.80"/><circle cx="88.6" cy="71.2" r="0.73" fill="#38b838" opacity="0.34"/><circle cx="73.7" cy="53.7" r="0.58" fill="#38b838" opacity="0.75"/><circle cx="69.7" cy="65.4" r="0.48" fill="#38b838" opacity="0.33"/><circle cx="58.8" cy="48.4" r="0.48" fill="#38b838" opacity="0.53"/><circle cx="60.0" cy="50.8" r="0.61" fill="#38b838" opacity="0.55"/><circle cx="76.9" cy="65.1" r="0.61" fill="#38b838" opacity="0.38"/><circle cx="75.1" cy="57.6" r="0.81" fill="#38b838" opacity="0.38"/><circle cx="81.9" cy="72.5" r="0.59" fill="#38b838" opacity="0.43"/><circle cx="75.5" cy="58.1" r="0.74" fill="#38b838" opacity="0.71"/><circle cx="56.8" cy="55.8" r="0.86" fill="#38b838" opacity="0.58"/><circle cx="73.0" cy="65.6" r="0.44" fill="#38b838" opacity="0.43"/><circle cx="83.9" cy="74.3" r="0.61" fill="#38b838" opacity="0.42"/><circle cx="52.3" cy="49.7" r="0.52" fill="#38b838" opacity="0.34"/><circle cx="65.0" cy="64.8" r="0.85" fill="#38b838" opacity="0.64"/><circle cx="63.4" cy="59.3" r="0.42" fill="#38b838" opacity="0.32"/><circle cx="85.2" cy="61.3" r="0.48" fill="#38b838" opacity="0.59"/><circle cx="84.4" cy="72.4" r="0.57" fill="#38b838" opacity="0.31"/><circle cx="75.8" cy="53.5" r="0.66" fill="#38b838" opacity="0.34"/><circle cx="68.5" cy="52.7" r="0.73" fill="#38b838" opacity="0.30"/><circle cx="73.2" cy="62.3" r="0.51" fill="#38b838" opacity="0.47"/><circle cx="72.4" cy="65.8" r="0.74" fill="#38b838" opacity="0.80"/><circle cx="64.1" cy="63.1" r="0.74" fill="#38b838" opacity="0.37"/><circle cx="55.3" cy="58.5" r="0.62" fill="#38b838" opacity="0.34"/><circle cx="84.1" cy="73.0" r="0.90" fill="#38b838" opacity="0.76"/><circle cx="81.6" cy="72.8" r="0.64" fill="#38b838" opacity="0.36"/><circle cx="68.3" cy="52.0" r="0.80" fill="#38b838" opacity="0.41"/><circle cx="91.2" cy="68.4" r="0.64" fill="#38b838" opacity="0.33"/><circle cx="64.4" cy="58.1" r="0.74" fill="#38b838" opacity="0.63"/><circle cx="56.5" cy="47.1" r="0.42" fill="#38b838" opacity="0.64"/><circle cx="75.9" cy="60.2" r="0.56" fill="#38b838" opacity="0.28"/><circle cx="59.0" cy="49.1" r="0.57" fill="#38b838" opacity="0.63"/><circle cx="56.8" cy="61.2" r="0.54" fill="#38b838" opacity="0.79"/><circle cx="70.7" cy="61.6" r="0.45" fill="#38b838" opacity="0.65"/><circle cx="86.2" cy="62.6" r="0.48" fill="#38b838" opacity="0.73"/><circle cx="72.4" cy="58.0" r="0.59" fill="#38b838" opacity="0.62"/><circle cx="76.2" cy="64.5" r="0.58" fill="#38b838" opacity="0.73"/><circle cx="43.2" cy="45.2" r="0.76" fill="#2c9c2c" opacity="0.55"/><circle cx="44.9" cy="39.8" r="0.79" fill="#2c9c2c" opacity="0.49"/><circle cx="46.1" cy="44.0" r="0.48" fill="#2c9c2c" opacity="0.43"/><circle cx="28.4" cy="39.1" r="0.55" fill="#2c9c2c" opacity="0.43"/><circle cx="32.0" cy="37.4" r="0.51" fill="#2c9c2c" opacity="0.43"/><circle cx="27.9" cy="38.0" r="0.67" fill="#2c9c2c" opacity="0.28"/><circle cx="29.9" cy="38.0" r="0.71" fill="#2c9c2c" opacity="0.52"/><circle cx="40.8" cy="36.4" r="0.50" fill="#2c9c2c" opacity="0.62"/><circle cx="28.4" cy="38.0" r="0.52" fill="#2c9c2c" opacity="0.38"/><circle cx="36.7" cy="32.7" r="0.59" fill="#2c9c2c" opacity="0.53"/><circle cx="35.2" cy="48.8" r="0.54" fill="#2c9c2c" opacity="0.34"/><circle cx="26.2" cy="44.8" r="0.69" fill="#2c9c2c" opacity="0.29"/><circle cx="33.4" cy="50.5" r="0.66" fill="#2c9c2c" opacity="0.50"/><circle cx="31.7" cy="33.1" r="0.51" fill="#2c9c2c" opacity="0.23"/><circle cx="34.0" cy="42.6" r="0.78" fill="#2c9c2c" opacity="0.44"/><circle cx="33.6" cy="31.4" r="0.72" fill="#2c9c2c" opacity="0.30"/><circle cx="32.6" cy="43.5" r="0.72" fill="#2c9c2c" opacity="0.53"/><circle cx="28.1" cy="38.8" r="0.51" fill="#2c9c2c" opacity="0.42"/><circle cx="37.1" cy="32.3" r="0.74" fill="#2c9c2c" opacity="0.59"/><circle cx="27.3" cy="40.6" r="0.53" fill="#2c9c2c" opacity="0.64"/><circle cx="36.5" cy="46.2" r="0.51" fill="#2c9c2c" opacity="0.61"/><circle cx="42.3" cy="39.9" r="0.74" fill="#2c9c2c" opacity="0.60"/><circle cx="30.2" cy="41.4" r="0.71" fill="#2c9c2c" opacity="0.37"/><circle cx="42.1" cy="52.0" r="0.58" fill="#2c9c2c" opacity="0.38"/><circle cx="31.9" cy="37.0" r="0.41" fill="#2c9c2c" opacity="0.38"/><circle cx="34.7" cy="42.2" r="0.55" fill="#2c9c2c" opacity="0.54"/><circle cx="27.8" cy="46.1" r="0.65" fill="#2c9c2c" opacity="0.28"/><circle cx="45.9" cy="47.8" r="0.64" fill="#2c9c2c" opacity="0.33"/><circle cx="35.9" cy="51.7" r="0.76" fill="#2c9c2c" opacity="0.31"/><circle cx="29.4" cy="34.6" r="0.53" fill="#2c9c2c" opacity="0.22"/><circle cx="28.3" cy="46.3" r="0.64" fill="#2c9c2c" opacity="0.43"/><circle cx="38.9" cy="46.9" r="0.52" fill="#2c9c2c" opacity="0.39"/><circle cx="25.1" cy="44.9" r="0.45" fill="#2c9c2c" opacity="0.64"/><circle cx="32.8" cy="50.7" r="0.50" fill="#2c9c2c" opacity="0.46"/><circle cx="33.7" cy="42.4" r="0.72" fill="#2c9c2c" opacity="0.56"/><circle cx="31.0" cy="49.3" r="0.59" fill="#2c9c2c" opacity="0.64"/><circle cx="42.5" cy="47.3" r="0.49" fill="#2c9c2c" opacity="0.48"/><circle cx="41.9" cy="34.8" r="0.62" fill="#2c9c2c" opacity="0.37"/><circle cx="38.6" cy="39.8" r="0.50" fill="#2c9c2c" opacity="0.54"/><circle cx="22.7" cy="39.8" r="0.44" fill="#2c9c2c" opacity="0.41"/><circle cx="35.9" cy="42.5" r="0.44" fill="#2c9c2c" opacity="0.24"/><circle cx="28.3" cy="43.7" r="0.60" fill="#2c9c2c" opacity="0.33"/><circle cx="36.2" cy="34.5" r="0.79" fill="#2c9c2c" opacity="0.28"/><circle cx="27.3" cy="37.4" r="0.55" fill="#2c9c2c" opacity="0.59"/><circle cx="35.2" cy="51.6" r="0.54" fill="#2c9c2c" opacity="0.35"/><circle cx="30.9" cy="34.2" r="0.51" fill="#2c9c2c" opacity="0.24"/><circle cx="44.1" cy="43.9" r="0.45" fill="#2c9c2c" opacity="0.50"/><circle cx="29.4" cy="37.6" r="0.53" fill="#2c9c2c" opacity="0.58"/><circle cx="29.3" cy="45.0" r="0.78" fill="#2c9c2c" opacity="0.36"/><circle cx="30.8" cy="42.2" r="0.66" fill="#2c9c2c" opacity="0.50"/><circle cx="27.5" cy="40.4" r="0.49" fill="#2c9c2c" opacity="0.56"/><circle cx="23.8" cy="39.0" r="0.55" fill="#2c9c2c" opacity="0.53"/><circle cx="41.5" cy="45.5" r="0.78" fill="#2c9c2c" opacity="0.51"/><circle cx="34.6" cy="34.4" r="0.59" fill="#2c9c2c" opacity="0.29"/><circle cx="37.7" cy="50.7" r="0.68" fill="#2c9c2c" opacity="0.32"/><circle cx="34.3" cy="38.0" r="0.65" fill="#2c9c2c" opacity="0.28"/><circle cx="29.0" cy="38.4" r="0.62" fill="#2c9c2c" opacity="0.26"/><circle cx="25.7" cy="38.1" r="0.45" fill="#2c9c2c" opacity="0.34"/><circle cx="34.7" cy="34.1" r="0.65" fill="#2c9c2c" opacity="0.55"/><circle cx="31.5" cy="37.6" r="0.58" fill="#2c9c2c" opacity="0.57"/><ellipse cx="52.8" cy="46.9" rx="12.0" ry="7.2" transform="rotate(27 52.8 46.9)" fill="#2ae82a" opacity="1" filter="url(#bl0_8)"/><ellipse cx="51.5" cy="46" rx="8" ry="4.6" transform="rotate(27 51.5 46)" fill="#35f535" opacity="0.9" filter="url(#bl0_8)"/><circle cx="53.8" cy="48.8" r="1.0" fill="#158015" opacity="0.8"/><circle cx="49.5" cy="41.3" r="0.8" fill="#158015" opacity="0.7"/><circle cx="79.6" cy="54" r="1.3" fill="#40d840" filter="url(#bl0_6)"/><circle cx="75.5" cy="67" r="1.2" fill="#40d840" filter="url(#bl0_6)"/><circle cx="55.8" cy="33" r="0.9" fill="#40d040"/></g></g>
<g transform="translate(381.2,268.5)" clip-path="url(#cp12)"><g filter="url(#nz12)"><rect x="0" y="0" width="107.7" height="104.2" fill="#062606"/><ellipse cx="60" cy="55" rx="62" ry="19" transform="rotate(27 60 55)" fill="#0c440c" opacity="0.7" filter="url(#bl6)"/><ellipse cx="88" cy="30" rx="24" ry="15" transform="rotate(30 88 30)" fill="#052405" opacity="0.55" filter="url(#bl6)"/><ellipse cx="104" cy="8" rx="6" ry="10" transform="rotate(10 104 8)" fill="#1a6a1a" opacity="0.5" filter="url(#bl3)"/><circle cx="59.5" cy="49.1" r="0.58" fill="#38b838" opacity="0.50"/><circle cx="93.4" cy="71.1" r="0.73" fill="#38b838" opacity="0.31"/><circle cx="71.8" cy="59.2" r="0.87" fill="#38b838" opacity="0.78"/><circle cx="75.3" cy="56.3" r="0.82" fill="#38b838" opacity="0.35"/><circle cx="84.6" cy="60.0" r="0.41" fill="#38b838" opacity="0.74"/><circle cx="54.5" cy="55.0" r="0.74" fill="#38b838" opacity="0.54"/><circle cx="82.0" cy="62.2" r="0.85" fill="#38b838" opacity="0.44"/><circle cx="85.4" cy="69.8" r="0.43" fill="#38b838" opacity="0.29"/><circle cx="70.2" cy="56.7" r="0.48" fill="#38b838" opacity="0.41"/><circle cx="65.2" cy="68.9" r="0.85" fill="#38b838" opacity="0.73"/><circle cx="88.0" cy="69.5" r="0.80" fill="#38b838" opacity="0.40"/><circle cx="93.0" cy="67.9" r="0.77" fill="#38b838" opacity="0.38"/><circle cx="87.9" cy="76.7" r="0.68" fill="#38b838" opacity="0.59"/><circle cx="80.7" cy="62.2" r="0.75" fill="#38b838" opacity="0.51"/><circle cx="80.8" cy="57.6" r="0.50" fill="#38b838" opacity="0.78"/><circle cx="65.9" cy="68.0" r="0.82" fill="#38b838" opacity="0.39"/><circle cx="72.8" cy="53.8" r="0.51" fill="#38b838" opacity="0.37"/><circle cx="87.0" cy="67.3" r="0.65" fill="#38b838" opacity="0.53"/><circle cx="91.0" cy="73.6" r="0.77" fill="#38b838" opacity="0.73"/><circle cx="66.1" cy="62.0" r="0.57" fill="#38b838" opacity="0.65"/><circle cx="69.7" cy="52.7" r="0.66" fill="#38b838" opacity="0.33"/><circle cx="88.3" cy="66.0" r="0.65" fill="#38b838" opacity="0.68"/><circle cx="75.3" cy="72.9" r="0.58" fill="#38b838" opacity="0.70"/><circle cx="81.4" cy="70.0" r="0.72" fill="#38b838" opacity="0.52"/><circle cx="59.8" cy="60.5" r="0.51" fill="#38b838" opacity="0.49"/><circle cx="92.5" cy="72.8" r="0.53" fill="#38b838" opacity="0.71"/><circle cx="60.1" cy="50.8" r="0.71" fill="#38b838" opacity="0.32"/><circle cx="78.8" cy="58.0" r="0.83" fill="#38b838" opacity="0.68"/><circle cx="70.3" cy="49.5" r="0.62" fill="#38b838" opacity="0.62"/><circle cx="83.3" cy="65.8" r="0.45" fill="#38b838" opacity="0.48"/><circle cx="66.1" cy="57.2" r="0.51" fill="#38b838" opacity="0.73"/><circle cx="66.5" cy="60.8" r="0.49" fill="#38b838" opacity="0.57"/><circle cx="75.8" cy="71.2" r="0.67" fill="#38b838" opacity="0.49"/><circle cx="55.1" cy="50.8" r="0.41" fill="#38b838" opacity="0.76"/><circle cx="74.3" cy="64.5" r="0.78" fill="#38b838" opacity="0.56"/><circle cx="65.2" cy="55.5" r="0.79" fill="#38b838" opacity="0.42"/><circle cx="75.2" cy="56.7" r="0.69" fill="#38b838" opacity="0.61"/><circle cx="61.3" cy="61.0" r="0.43" fill="#38b838" opacity="0.60"/><circle cx="73.1" cy="56.8" r="0.68" fill="#38b838" opacity="0.65"/><circle cx="86.3" cy="76.0" r="0.84" fill="#38b838" opacity="0.28"/><circle cx="72.5" cy="64.8" r="0.53" fill="#38b838" opacity="0.30"/><circle cx="63.4" cy="56.3" r="0.55" fill="#38b838" opacity="0.50"/><circle cx="57.7" cy="60.7" r="0.76" fill="#38b838" opacity="0.31"/><circle cx="73.8" cy="63.0" r="0.56" fill="#38b838" opacity="0.31"/><circle cx="72.6" cy="50.6" r="0.90" fill="#38b838" opacity="0.36"/><circle cx="90.5" cy="74.1" r="0.61" fill="#38b838" opacity="0.76"/><circle cx="63.0" cy="60.1" r="0.44" fill="#38b838" opacity="0.77"/><circle cx="60.5" cy="53.6" r="0.62" fill="#38b838" opacity="0.67"/><circle cx="84.3" cy="60.3" r="0.49" fill="#38b838" opacity="0.47"/><circle cx="86.5" cy="64.1" r="0.73" fill="#38b838" opacity="0.56"/><circle cx="57.7" cy="54.9" r="0.52" fill="#38b838" opacity="0.56"/><circle cx="79.0" cy="62.2" r="0.58" fill="#38b838" opacity="0.73"/><circle cx="76.5" cy="63.2" r="0.71" fill="#38b838" opacity="0.60"/><circle cx="85.0" cy="61.1" r="0.47" fill="#38b838" opacity="0.42"/><circle cx="74.4" cy="51.7" r="0.50" fill="#38b838" opacity="0.60"/><circle cx="68.4" cy="50.2" r="0.41" fill="#38b838" opacity="0.49"/><circle cx="62.9" cy="64.4" r="0.57" fill="#38b838" opacity="0.32"/><circle cx="71.2" cy="54.4" r="0.80" fill="#38b838" opacity="0.42"/><circle cx="57.5" cy="49.2" r="0.46" fill="#38b838" opacity="0.65"/><circle cx="90.1" cy="76.4" r="0.41" fill="#38b838" opacity="0.65"/><circle cx="66.3" cy="61.5" r="0.60" fill="#38b838" opacity="0.53"/><circle cx="66.8" cy="60.1" r="0.66" fill="#38b838" opacity="0.42"/><circle cx="87.3" cy="68.1" r="0.62" fill="#38b838" opacity="0.38"/><circle cx="86.2" cy="67.6" r="0.72" fill="#38b838" opacity="0.71"/><circle cx="56.9" cy="59.0" r="0.54" fill="#38b838" opacity="0.31"/><circle cx="86.5" cy="71.4" r="0.84" fill="#38b838" opacity="0.36"/><circle cx="55.3" cy="55.3" r="0.54" fill="#38b838" opacity="0.33"/><circle cx="61.0" cy="53.5" r="0.87" fill="#38b838" opacity="0.74"/><circle cx="71.1" cy="69.8" r="0.61" fill="#38b838" opacity="0.27"/><circle cx="53.5" cy="54.3" r="0.55" fill="#38b838" opacity="0.57"/><circle cx="74.1" cy="58.9" r="0.86" fill="#38b838" opacity="0.31"/><circle cx="64.0" cy="66.4" r="0.41" fill="#38b838" opacity="0.46"/><circle cx="81.3" cy="72.5" r="0.41" fill="#38b838" opacity="0.33"/><circle cx="73.5" cy="65.3" r="0.45" fill="#38b838" opacity="0.36"/><circle cx="66.6" cy="57.2" r="0.81" fill="#38b838" opacity="0.48"/><circle cx="71.2" cy="66.6" r="0.82" fill="#38b838" opacity="0.28"/><circle cx="75.4" cy="58.8" r="0.87" fill="#38b838" opacity="0.47"/><circle cx="61.2" cy="47.8" r="0.45" fill="#38b838" opacity="0.29"/><circle cx="72.4" cy="52.0" r="0.76" fill="#38b838" opacity="0.40"/><circle cx="65.0" cy="56.9" r="0.62" fill="#38b838" opacity="0.40"/><circle cx="65.8" cy="53.7" r="0.54" fill="#38b838" opacity="0.60"/><circle cx="87.5" cy="75.6" r="0.65" fill="#38b838" opacity="0.38"/><circle cx="82.5" cy="72.9" r="0.65" fill="#38b838" opacity="0.65"/><circle cx="62.1" cy="60.9" r="0.85" fill="#38b838" opacity="0.40"/><circle cx="94.1" cy="72.2" r="0.90" fill="#38b838" opacity="0.77"/><circle cx="68.2" cy="70.1" r="0.71" fill="#38b838" opacity="0.36"/><circle cx="90.8" cy="71.5" r="0.80" fill="#38b838" opacity="0.56"/><circle cx="88.5" cy="76.0" r="0.49" fill="#38b838" opacity="0.39"/><circle cx="68.8" cy="55.3" r="0.63" fill="#38b838" opacity="0.64"/><circle cx="85.4" cy="74.4" r="0.45" fill="#38b838" opacity="0.51"/><circle cx="67.5" cy="49.8" r="0.42" fill="#38b838" opacity="0.36"/><circle cx="87.4" cy="67.8" r="0.61" fill="#38b838" opacity="0.46"/><circle cx="72.5" cy="50.8" r="0.73" fill="#38b838" opacity="0.47"/><circle cx="62.2" cy="51.3" r="0.49" fill="#38b838" opacity="0.77"/><circle cx="92.9" cy="70.5" r="0.90" fill="#38b838" opacity="0.51"/><circle cx="81.7" cy="61.2" r="0.77" fill="#38b838" opacity="0.64"/><circle cx="93.5" cy="68.9" r="0.84" fill="#38b838" opacity="0.40"/><circle cx="81.0" cy="57.5" r="0.56" fill="#38b838" opacity="0.45"/><circle cx="84.6" cy="57.0" r="0.82" fill="#38b838" opacity="0.62"/><circle cx="76.0" cy="67.6" r="0.68" fill="#38b838" opacity="0.37"/><circle cx="69.1" cy="62.6" r="0.48" fill="#38b838" opacity="0.64"/><circle cx="72.2" cy="72.5" r="0.56" fill="#38b838" opacity="0.72"/><circle cx="67.8" cy="64.6" r="0.60" fill="#38b838" opacity="0.26"/><circle cx="60.9" cy="57.5" r="0.41" fill="#38b838" opacity="0.72"/><circle cx="73.6" cy="62.0" r="0.88" fill="#38b838" opacity="0.38"/><circle cx="73.1" cy="63.4" r="0.45" fill="#38b838" opacity="0.64"/><circle cx="63.1" cy="51.3" r="0.52" fill="#38b838" opacity="0.41"/><circle cx="87.1" cy="68.1" r="0.89" fill="#38b838" opacity="0.74"/><circle cx="84.0" cy="76.0" r="0.41" fill="#38b838" opacity="0.64"/><circle cx="84.6" cy="58.3" r="0.67" fill="#38b838" opacity="0.70"/><circle cx="79.3" cy="72.8" r="0.53" fill="#38b838" opacity="0.47"/><circle cx="76.0" cy="73.1" r="0.69" fill="#38b838" opacity="0.68"/><circle cx="65.9" cy="50.2" r="0.86" fill="#38b838" opacity="0.70"/><circle cx="64.4" cy="53.5" r="0.86" fill="#38b838" opacity="0.45"/><circle cx="81.7" cy="70.8" r="0.75" fill="#38b838" opacity="0.76"/><circle cx="67.2" cy="49.9" r="0.87" fill="#38b838" opacity="0.68"/><circle cx="59.4" cy="56.5" r="0.78" fill="#38b838" opacity="0.42"/><circle cx="83.9" cy="74.1" r="0.80" fill="#38b838" opacity="0.39"/><circle cx="70.8" cy="49.2" r="0.46" fill="#38b838" opacity="0.32"/><circle cx="61.9" cy="55.3" r="0.87" fill="#38b838" opacity="0.80"/><circle cx="54.9" cy="54.8" r="0.72" fill="#38b838" opacity="0.35"/><circle cx="83.0" cy="66.2" r="0.44" fill="#38b838" opacity="0.50"/><circle cx="87.9" cy="71.0" r="0.61" fill="#38b838" opacity="0.77"/><circle cx="55.0" cy="57.1" r="0.79" fill="#38b838" opacity="0.57"/><circle cx="71.9" cy="67.8" r="0.65" fill="#38b838" opacity="0.47"/><circle cx="68.1" cy="51.4" r="0.56" fill="#38b838" opacity="0.58"/><circle cx="83.4" cy="67.3" r="0.57" fill="#38b838" opacity="0.26"/><circle cx="77.3" cy="65.6" r="0.61" fill="#38b838" opacity="0.71"/><circle cx="72.5" cy="49.3" r="0.82" fill="#38b838" opacity="0.57"/><circle cx="72.3" cy="60.3" r="0.59" fill="#38b838" opacity="0.39"/><circle cx="71.1" cy="58.1" r="0.67" fill="#38b838" opacity="0.46"/><circle cx="60.6" cy="54.7" r="0.45" fill="#38b838" opacity="0.65"/><circle cx="83.0" cy="57.9" r="0.46" fill="#38b838" opacity="0.58"/><circle cx="92.2" cy="63.4" r="0.78" fill="#38b838" opacity="0.28"/><circle cx="89.3" cy="63.7" r="0.54" fill="#38b838" opacity="0.76"/><circle cx="87.7" cy="59.2" r="0.52" fill="#38b838" opacity="0.57"/><circle cx="63.7" cy="60.8" r="0.78" fill="#38b838" opacity="0.59"/><circle cx="62.9" cy="63.8" r="0.86" fill="#38b838" opacity="0.56"/><circle cx="89.5" cy="66.0" r="0.90" fill="#38b838" opacity="0.27"/><circle cx="58.0" cy="55.1" r="0.76" fill="#38b838" opacity="0.78"/><circle cx="66.4" cy="51.5" r="0.72" fill="#38b838" opacity="0.54"/><circle cx="73.5" cy="49.8" r="0.41" fill="#38b838" opacity="0.43"/><circle cx="78.6" cy="62.5" r="0.80" fill="#38b838" opacity="0.27"/><circle cx="66.8" cy="48.8" r="0.52" fill="#38b838" opacity="0.46"/><circle cx="72.0" cy="71.4" r="0.66" fill="#38b838" opacity="0.58"/><circle cx="63.0" cy="64.3" r="0.88" fill="#38b838" opacity="0.68"/><circle cx="84.7" cy="66.3" r="0.66" fill="#38b838" opacity="0.46"/><circle cx="59.4" cy="62.9" r="0.49" fill="#38b838" opacity="0.56"/><circle cx="82.3" cy="54.6" r="0.41" fill="#38b838" opacity="0.40"/><circle cx="53.7" cy="50.8" r="0.48" fill="#38b838" opacity="0.71"/><circle cx="26.6" cy="40.5" r="0.77" fill="#2c9c2c" opacity="0.23"/><circle cx="32.1" cy="42.0" r="0.45" fill="#2c9c2c" opacity="0.34"/><circle cx="36.1" cy="32.1" r="0.45" fill="#2c9c2c" opacity="0.56"/><circle cx="31.3" cy="37.6" r="0.73" fill="#2c9c2c" opacity="0.57"/><circle cx="34.5" cy="49.8" r="0.72" fill="#2c9c2c" opacity="0.30"/><circle cx="47.8" cy="45.6" r="0.73" fill="#2c9c2c" opacity="0.24"/><circle cx="40.8" cy="32.6" r="0.65" fill="#2c9c2c" opacity="0.57"/><circle cx="43.5" cy="42.9" r="0.73" fill="#2c9c2c" opacity="0.61"/><circle cx="28.7" cy="45.0" r="0.67" fill="#2c9c2c" opacity="0.58"/><circle cx="30.8" cy="35.2" r="0.50" fill="#2c9c2c" opacity="0.44"/><circle cx="40.8" cy="49.9" r="0.76" fill="#2c9c2c" opacity="0.31"/><circle cx="35.9" cy="31.4" r="0.45" fill="#2c9c2c" opacity="0.55"/><circle cx="39.0" cy="35.3" r="0.44" fill="#2c9c2c" opacity="0.33"/><circle cx="40.0" cy="34.4" r="0.73" fill="#2c9c2c" opacity="0.27"/><circle cx="40.3" cy="46.1" r="0.75" fill="#2c9c2c" opacity="0.27"/><circle cx="44.2" cy="48.1" r="0.44" fill="#2c9c2c" opacity="0.50"/><circle cx="40.4" cy="44.8" r="0.67" fill="#2c9c2c" opacity="0.59"/><circle cx="27.3" cy="39.9" r="0.41" fill="#2c9c2c" opacity="0.35"/><circle cx="32.8" cy="48.3" r="0.69" fill="#2c9c2c" opacity="0.55"/><circle cx="26.3" cy="33.6" r="0.45" fill="#2c9c2c" opacity="0.37"/><circle cx="32.0" cy="43.8" r="0.70" fill="#2c9c2c" opacity="0.30"/><circle cx="30.9" cy="42.9" r="0.75" fill="#2c9c2c" opacity="0.49"/><circle cx="27.9" cy="37.1" r="0.77" fill="#2c9c2c" opacity="0.62"/><circle cx="25.9" cy="37.9" r="0.75" fill="#2c9c2c" opacity="0.32"/><circle cx="34.4" cy="42.8" r="0.60" fill="#2c9c2c" opacity="0.55"/><circle cx="38.3" cy="47.1" r="0.80" fill="#2c9c2c" opacity="0.42"/><circle cx="24.8" cy="41.6" r="0.76" fill="#2c9c2c" opacity="0.37"/><circle cx="40.9" cy="48.4" r="0.70" fill="#2c9c2c" opacity="0.62"/><circle cx="34.2" cy="34.0" r="0.61" fill="#2c9c2c" opacity="0.33"/><circle cx="26.9" cy="38.2" r="0.76" fill="#2c9c2c" opacity="0.61"/><circle cx="45.2" cy="40.9" r="0.79" fill="#2c9c2c" opacity="0.26"/><circle cx="46.5" cy="40.7" r="0.75" fill="#2c9c2c" opacity="0.39"/><circle cx="38.0" cy="40.9" r="0.74" fill="#2c9c2c" opacity="0.57"/><circle cx="25.1" cy="42.1" r="0.49" fill="#2c9c2c" opacity="0.54"/><circle cx="27.5" cy="37.4" r="0.48" fill="#2c9c2c" opacity="0.56"/><circle cx="36.8" cy="37.1" r="0.79" fill="#2c9c2c" opacity="0.30"/><circle cx="28.3" cy="41.4" r="0.63" fill="#2c9c2c" opacity="0.60"/><circle cx="46.6" cy="42.0" r="0.55" fill="#2c9c2c" opacity="0.25"/><circle cx="43.0" cy="46.6" r="0.63" fill="#2c9c2c" opacity="0.40"/><circle cx="44.4" cy="43.1" r="0.54" fill="#2c9c2c" opacity="0.39"/><circle cx="38.2" cy="50.4" r="0.64" fill="#2c9c2c" opacity="0.44"/><circle cx="29.4" cy="39.4" r="0.53" fill="#2c9c2c" opacity="0.42"/><circle cx="22.8" cy="37.4" r="0.63" fill="#2c9c2c" opacity="0.29"/><circle cx="40.2" cy="43.4" r="0.54" fill="#2c9c2c" opacity="0.55"/><circle cx="42.1" cy="39.4" r="0.71" fill="#2c9c2c" opacity="0.40"/><circle cx="27.7" cy="34.3" r="0.42" fill="#2c9c2c" opacity="0.23"/><circle cx="33.8" cy="31.0" r="0.55" fill="#2c9c2c" opacity="0.61"/><circle cx="41.1" cy="36.9" r="0.43" fill="#2c9c2c" opacity="0.45"/><circle cx="34.3" cy="34.9" r="0.42" fill="#2c9c2c" opacity="0.42"/><circle cx="45.9" cy="46.6" r="0.65" fill="#2c9c2c" opacity="0.33"/><circle cx="29.5" cy="38.8" r="0.47" fill="#2c9c2c" opacity="0.28"/><circle cx="42.0" cy="36.0" r="0.69" fill="#2c9c2c" opacity="0.36"/><circle cx="42.5" cy="35.0" r="0.66" fill="#2c9c2c" opacity="0.38"/><circle cx="31.6" cy="36.1" r="0.79" fill="#2c9c2c" opacity="0.50"/><circle cx="26.8" cy="33.9" r="0.44" fill="#2c9c2c" opacity="0.35"/><circle cx="33.6" cy="48.9" r="0.41" fill="#2c9c2c" opacity="0.40"/><circle cx="46.4" cy="37.7" r="0.69" fill="#2c9c2c" opacity="0.34"/><circle cx="33.7" cy="48.1" r="0.52" fill="#2c9c2c" opacity="0.53"/><circle cx="26.5" cy="43.4" r="0.63" fill="#2c9c2c" opacity="0.57"/><circle cx="44.0" cy="43.1" r="0.79" fill="#2c9c2c" opacity="0.20"/><ellipse cx="52.6" cy="46.9" rx="12.0" ry="7.2" transform="rotate(27 52.6 46.9)" fill="#2ae82a" opacity="1" filter="url(#bl0_8)"/><ellipse cx="51.5" cy="46" rx="8" ry="4.6" transform="rotate(27 51.5 46)" fill="#35f535" opacity="0.9" filter="url(#bl0_8)"/><circle cx="54.2" cy="49" r="1.0" fill="#158015" opacity="0.8"/><circle cx="48.8" cy="41" r="0.8" fill="#158015" opacity="0.7"/><circle cx="79.8" cy="53.5" r="1.3" fill="#40d840" filter="url(#bl0_6)"/><circle cx="84" cy="70" r="1.2" fill="#40d840" filter="url(#bl0_6)"/><circle cx="55.8" cy="33" r="0.9" fill="#40d040"/><circle cx="107" cy="72" r="1.2" fill="#40e040"/></g></g>
<text x="9.0" y="18.2" font-size="30" text-anchor="start" font-weight="bold" font-style="normal" fill="#000" >a</text>
<text x="60.6" y="52.4" font-size="33" text-anchor="start" font-weight="normal" font-style="normal" fill="#000" >0 min</text>
<text x="171" y="52.4" font-size="33" text-anchor="start" font-weight="normal" font-style="normal" fill="#000" >5 min</text>
<text x="273.6" y="52.4" font-size="33" text-anchor="start" font-weight="normal" font-style="normal" fill="#000" >30 min</text>
<text x="385.2" y="52.4" font-size="33" text-anchor="start" font-weight="normal" font-style="normal" fill="#000" >60 min</text>
<text transform="translate(23.8,120.7) scale(0.85,1)" font-size="36.2" text-anchor="middle">C</text>
<text transform="translate(-2.4,220.8) scale(0.875,1)" font-size="34.8">P2</text>
<text transform="translate(-2.4,326.1) scale(0.875,1)" font-size="34.8">P3</text>
<text x="14.6" y="411.5" font-size="33" text-anchor="start" font-weight="normal" font-style="normal" fill="#000" >prebleach</text>
<text x="243.2" y="411.5" font-size="33" text-anchor="start" font-weight="normal" font-style="normal" fill="#000" >postbleach</text>
<line x1="166.8" y1="380.3" x2="481.1" y2="380.3" stroke="#000" stroke-width="1.4" />
<path d="M658.9,92.9V100.9M656.3,92.9h5.2M656.3,100.9h5.2M665.1,104.7V113.1M662.5,104.7h5.2M662.5,113.1h5.2M671.3,110.4V119.3M668.7,110.4h5.2M668.7,119.3h5.2M677.5,121.4V130.8M674.9,121.4h5.2M674.9,130.8h5.2M683.8,124.9V134.8M681.2,124.9h5.2M681.2,134.8h5.2M690.0,128.4V138.8M687.4,128.4h5.2M687.4,138.8h5.2M696.2,133.2V144.0M693.6,133.2h5.2M693.6,144.0h5.2M702.5,137.2V148.5M699.9,137.2h5.2M699.9,148.5h5.2M708.7,139.9V151.7M706.1,139.9h5.2M706.1,151.7h5.2M714.9,148.7V160.9M712.3,148.7h5.2M712.3,160.9h5.2M721.2,151.4V164.2M718.6,151.4h5.2M718.6,164.2h5.2M727.4,158.9V172.1M724.8,158.9h5.2M724.8,172.1h5.2M733.6,152.9V166.6M731.0,152.9h5.2M731.0,166.6h5.2M739.9,164.4V178.6M737.2,164.4h5.2M737.2,178.6h5.2M746.1,162.4V177.1M743.5,162.4h5.2M743.5,177.1h5.2M752.3,164.9V180.1M749.7,164.9h5.2M749.7,180.1h5.2M758.5,174.7V190.3M755.9,174.7h5.2M755.9,190.3h5.2M764.8,175.9V192.0M762.2,175.9h5.2M762.2,192.0h5.2M771.0,185.7V202.3M768.4,185.7h5.2M768.4,202.3h5.2M777.2,177.2V194.3M774.6,177.2h5.2M774.6,194.3h5.2M783.5,185.0V202.5M780.9,185.0h5.2M780.9,202.5h5.2M789.7,192.7V210.7M787.1,192.7h5.2M787.1,210.7h5.2M795.9,191.5V209.9M793.3,191.5h5.2M793.3,209.9h5.2M802.1,198.2V217.2M799.5,198.2h5.2M799.5,217.2h5.2M808.4,203.2V222.2M805.8,203.2h5.2M805.8,222.2h5.2M814.6,204.2V223.2M812.0,204.2h5.2M812.0,223.2h5.2M820.8,202.2V221.2M818.2,202.2h5.2M818.2,221.2h5.2M827.1,209.7V228.6M824.5,209.7h5.2M824.5,228.6h5.2M833.3,208.2V227.2M830.7,208.2h5.2M830.7,227.2h5.2M839.5,214.8V234.5M836.9,214.8h5.2M836.9,234.5h5.2M845.8,213.7V234.2M843.2,213.7h5.2M843.2,234.2h5.2M852.0,213.4V234.5M849.4,213.4h5.2M849.4,234.5h5.2M858.2,220.7V242.6M855.6,220.7h5.2M855.6,242.6h5.2M864.5,226.2V248.8M861.9,226.2h5.2M861.9,248.8h5.2M870.7,223.8V247.2M868.1,223.8h5.2M868.1,247.2h5.2M876.9,228.5V252.5M874.3,228.5h5.2M874.3,252.5h5.2M883.1,222.1V246.9M880.5,222.1h5.2M880.5,246.9h5.2M889.4,227.7V253.3M886.8,227.7h5.2M886.8,253.3h5.2M895.6,228.6V254.9M893.0,228.6h5.2M893.0,254.9h5.2M901.8,225.2V252.2M899.2,225.2h5.2M899.2,252.2h5.2M908.1,224.8V252.6M905.5,224.8h5.2M905.5,252.6h5.2M914.3,227.9V256.4M911.7,227.9h5.2M911.7,256.4h5.2M920.5,229.1V258.3M917.9,229.1h5.2M917.9,258.3h5.2M926.8,225.7V255.7M924.1,225.7h5.2M924.1,255.7h5.2M933.0,232.7V262.7M930.4,232.7h5.2M930.4,262.7h5.2M939.2,229.7V259.7M936.6,229.7h5.2M936.6,259.7h5.2M945.4,231.7V261.7M942.8,231.7h5.2M942.8,261.7h5.2M951.7,227.7V257.7M949.1,227.7h5.2M949.1,257.7h5.2M957.9,234.7V264.6M955.3,234.7h5.2M955.3,264.6h5.2M964.1,236.7V266.6M961.5,236.7h5.2M961.5,266.6h5.2M970.4,239.6V269.6M967.8,239.6h5.2M967.8,269.6h5.2M976.6,236.6V266.6M974.0,236.6h5.2M974.0,266.6h5.2M982.8,238.6V268.6M980.2,238.6h5.2M980.2,268.6h5.2M989.0,240.6V270.6M986.4,240.6h5.2M986.4,270.6h5.2M995.3,243.1V273.1M992.7,243.1h5.2M992.7,273.1h5.2M1001.5,244.1V274.1M998.9,244.1h5.2M998.9,274.1h5.2M1007.7,243.4V273.3M1005.1,243.4h5.2M1005.1,273.3h5.2M1014.0,243.4V273.3M1011.4,243.4h5.2M1011.4,273.3h5.2M1020.2,243.4V273.3M1017.6,243.4h5.2M1017.6,273.3h5.2" fill="none" stroke="#3cc03c" stroke-width="1.0"/><polyline points="652.6,78.7 658.9,96.9 665.1,108.9 671.3,114.9 677.5,126.1 683.8,129.8 690.0,133.6 696.2,138.6 702.5,142.8 708.7,145.8 714.9,154.8 721.2,157.8 727.4,165.5 733.6,159.8 739.9,171.5 746.1,169.8 752.3,172.5 758.5,182.5 764.8,184.0 771.0,194.0 777.2,185.7 783.5,193.7 789.7,201.7 795.9,200.7 802.1,207.7 808.4,212.7 814.6,213.7 820.8,211.7 827.1,219.2 833.3,217.7 839.5,224.7 845.8,224.0 852.0,224.0 858.2,231.6 864.5,237.5 870.7,235.5 876.9,240.5 883.1,234.5 889.4,240.5 895.6,241.7 901.8,238.7 908.1,238.7 914.3,242.1 920.5,243.7 926.8,240.7 933.0,247.7 939.2,244.7 945.4,246.7 951.7,242.7 957.9,249.7 964.1,251.7 970.4,254.6 976.6,251.6 982.8,253.6 989.0,255.6 995.3,258.1 1001.5,259.1 1007.7,258.3 1014.0,258.3 1020.2,258.3" fill="none" stroke="#00b400" stroke-width="2.6" stroke-linejoin="miter" stroke-linecap="butt"/>
<path d="M658.9,91.2V101.2M656.3,91.2h5.2M656.3,101.2h5.2M665.1,99.2V116.6M662.5,99.2h5.2M662.5,116.6h5.2M671.3,108.1V125.6M668.7,108.1h5.2M668.7,125.6h5.2M677.5,121.4V148.3M674.9,121.4h5.2M674.9,148.3h5.2M683.8,122.6V149.6M681.2,122.6h5.2M681.2,149.6h5.2M690.0,125.1V152.1M687.4,125.1h5.2M687.4,152.1h5.2M696.2,123.9V150.8M693.6,123.9h5.2M693.6,150.8h5.2M702.5,136.1V163.0M699.9,136.1h5.2M699.9,163.0h5.2M708.7,148.6V175.5M706.1,148.6h5.2M706.1,175.5h5.2M714.9,152.1V179.0M712.3,152.1h5.2M712.3,179.0h5.2M721.2,159.0V186.0M718.6,159.0h5.2M718.6,186.0h5.2M727.4,152.1V179.0M724.8,152.1h5.2M724.8,179.0h5.2M733.6,161.0V188.0M731.0,161.0h5.2M731.0,188.0h5.2M739.9,170.0V197.0M737.2,170.0h5.2M737.2,197.0h5.2M746.1,177.0V203.9M743.5,177.0h5.2M743.5,203.9h5.2M752.3,169.0V196.0M749.7,169.0h5.2M749.7,196.0h5.2M758.5,172.0V199.0M755.9,172.0h5.2M755.9,199.0h5.2M764.8,175.8V202.7M762.2,175.8h5.2M762.2,202.7h5.2M771.0,169.5V196.5M768.4,169.5h5.2M768.4,196.5h5.2M777.2,193.5V220.4M774.6,193.5h5.2M774.6,220.4h5.2M783.5,194.7V221.7M780.9,194.7h5.2M780.9,221.7h5.2M789.7,192.2V219.2M787.1,192.2h5.2M787.1,219.2h5.2M795.9,193.2V220.2M793.3,193.2h5.2M793.3,220.2h5.2M802.1,214.7V241.6M799.5,214.7h5.2M799.5,241.6h5.2M808.4,201.5V228.5M805.8,201.5h5.2M805.8,228.5h5.2M814.6,207.2V234.1M812.0,207.2h5.2M812.0,234.1h5.2M820.8,198.5V225.5M818.2,198.5h5.2M818.2,225.5h5.2M827.1,217.2V244.1M824.5,217.2h5.2M824.5,244.1h5.2M833.3,207.2V234.1M830.7,207.2h5.2M830.7,234.1h5.2M839.5,215.2V242.1M836.9,215.2h5.2M836.9,242.1h5.2M845.8,221.4V248.4M843.2,221.4h5.2M843.2,248.4h5.2M852.0,226.0V253.0M849.4,226.0h5.2M849.4,253.0h5.2M858.2,226.0V253.0M855.6,226.0h5.2M855.6,253.0h5.2M864.5,225.7V252.6M861.9,225.7h5.2M861.9,252.6h5.2M870.7,221.0V248.0M868.1,221.0h5.2M868.1,248.0h5.2M876.9,229.0V256.0M874.3,229.0h5.2M874.3,256.0h5.2M883.1,237.6V264.6M880.5,237.6h5.2M880.5,264.6h5.2M889.4,221.0V248.0M886.8,221.0h5.2M886.8,248.0h5.2M895.6,239.6V266.6M893.0,239.6h5.2M893.0,266.6h5.2M901.8,242.1V269.1M899.2,242.1h5.2M899.2,269.1h5.2M908.1,234.1V261.1M905.5,234.1h5.2M905.5,261.1h5.2M914.3,240.1V267.1M911.7,240.1h5.2M911.7,267.1h5.2M920.5,239.1V266.1M917.9,239.1h5.2M917.9,266.1h5.2M926.8,248.1V275.1M924.1,248.1h5.2M924.1,275.1h5.2M933.0,242.1V269.1M930.4,242.1h5.2M930.4,269.1h5.2M939.2,244.1V271.1M936.6,244.1h5.2M936.6,271.1h5.2M945.4,249.1V276.1M942.8,249.1h5.2M942.8,276.1h5.2M951.7,248.6V275.6M949.1,248.6h5.2M949.1,275.6h5.2M957.9,250.1V277.1M955.3,250.1h5.2M955.3,277.1h5.2M964.1,234.1V261.1M961.5,234.1h5.2M961.5,261.1h5.2M970.4,252.1V279.0M967.8,252.1h5.2M967.8,279.0h5.2M976.6,238.1V265.1M974.0,238.1h5.2M974.0,265.1h5.2M982.8,257.1V284.0M980.2,257.1h5.2M980.2,284.0h5.2M989.0,260.6V287.5M986.4,260.6h5.2M986.4,287.5h5.2M995.3,261.1V288.0M992.7,261.1h5.2M992.7,288.0h5.2M1001.5,257.1V284.0M998.9,257.1h5.2M998.9,284.0h5.2M1007.7,254.7V281.7M1005.1,254.7h5.2M1005.1,281.7h5.2M1014.0,254.7V281.7M1011.4,254.7h5.2M1011.4,281.7h5.2M1020.2,254.7V281.7M1017.6,254.7h5.2M1017.6,281.7h5.2" fill="none" stroke="#f25050" stroke-width="1.0"/><polyline points="652.6,78.7 658.9,96.2 665.1,107.9 671.3,116.9 677.5,134.8 683.8,136.1 690.0,138.6 696.2,137.3 702.5,149.6 708.7,162.0 714.9,165.5 721.2,172.5 727.4,165.5 733.6,174.5 739.9,183.5 746.1,190.5 752.3,182.5 758.5,185.5 764.8,189.2 771.0,183.0 777.2,206.9 783.5,208.2 789.7,205.7 795.9,206.7 802.1,228.2 808.4,215.0 814.6,220.7 820.8,212.0 827.1,230.6 833.3,220.7 839.5,228.6 845.8,234.9 852.0,239.5 858.2,239.5 864.5,239.1 870.7,234.5 876.9,242.5 883.1,251.1 889.4,234.5 895.6,253.1 901.8,255.6 908.1,247.6 914.3,253.6 920.5,252.6 926.8,261.6 933.0,255.6 939.2,257.6 945.4,262.6 951.7,262.1 957.9,263.6 964.1,247.6 970.4,265.6 976.6,251.6 982.8,270.6 989.0,274.1 995.3,274.6 1001.5,270.6 1007.7,268.2 1014.0,268.2 1020.2,268.2" fill="none" stroke="#ff0a0a" stroke-width="2.6" stroke-linejoin="miter" stroke-linecap="butt"/>
<path d="M658.9,88.2V99.1M656.3,88.2h5.2M656.3,99.1h5.2M665.1,99.2V114.6M662.5,99.2h5.2M662.5,114.6h5.2M671.3,105.7V121.5M668.7,105.7h5.2M668.7,121.5h5.2M677.5,114.0V130.3M674.9,114.0h5.2M674.9,130.3h5.2M683.8,120.2V137.0M681.2,120.2h5.2M681.2,137.0h5.2M690.0,126.2V143.5M687.4,126.2h5.2M687.4,143.5h5.2M696.2,127.0V144.7M693.6,127.0h5.2M693.6,144.7h5.2M702.5,130.7V148.9M699.9,130.7h5.2M699.9,148.9h5.2M708.7,133.5V152.1M706.1,133.5h5.2M706.1,152.1h5.2M714.9,138.5V157.6M712.3,138.5h5.2M712.3,157.6h5.2M721.2,143.0V162.6M718.6,143.0h5.2M718.6,162.6h5.2M727.4,142.0V162.1M724.8,142.0h5.2M724.8,162.1h5.2M733.6,138.8V159.3M731.0,138.8h5.2M731.0,159.3h5.2M739.9,145.6V166.5M737.2,145.6h5.2M737.2,166.5h5.2M746.1,144.8V165.8M743.5,144.8h5.2M743.5,165.8h5.2M752.3,150.1V171.0M749.7,150.1h5.2M749.7,171.0h5.2M758.5,148.6V169.5M755.9,148.6h5.2M755.9,169.5h5.2M764.8,153.1V174.0M762.2,153.1h5.2M762.2,174.0h5.2M771.0,156.3V177.3M768.4,156.3h5.2M768.4,177.3h5.2M777.2,154.3V175.3M774.6,154.3h5.2M774.6,175.3h5.2M783.5,160.8V181.7M780.9,160.8h5.2M780.9,181.7h5.2M789.7,155.3V176.3M787.1,155.3h5.2M787.1,176.3h5.2M795.9,167.3V188.2M793.3,167.3h5.2M793.3,188.2h5.2M802.1,167.3V188.2M799.5,167.3h5.2M799.5,188.2h5.2M808.4,166.8V187.7M805.8,166.8h5.2M805.8,187.7h5.2M814.6,183.6V204.6M812.0,183.6h5.2M812.0,204.6h5.2M820.8,178.6V199.6M818.2,178.6h5.2M818.2,199.6h5.2M827.1,176.8V197.7M824.5,176.8h5.2M824.5,197.7h5.2M833.3,185.2V206.2M830.7,185.2h5.2M830.7,206.2h5.2M839.5,191.2V212.2M836.9,191.2h5.2M836.9,212.2h5.2M845.8,200.5V221.4M843.2,200.5h5.2M843.2,221.4h5.2M852.0,189.6V210.5M849.4,189.6h5.2M849.4,210.5h5.2M858.2,189.6V210.5M855.6,189.6h5.2M855.6,210.5h5.2M864.5,191.6V212.5M861.9,191.6h5.2M861.9,212.5h5.2M870.7,191.2V212.2M868.1,191.2h5.2M868.1,212.2h5.2M876.9,193.6V214.5M874.3,193.6h5.2M874.3,214.5h5.2M883.1,198.2V219.2M880.5,198.2h5.2M880.5,219.2h5.2M889.4,193.6V214.5M886.8,193.6h5.2M886.8,214.5h5.2M895.6,190.0V210.9M893.0,190.0h5.2M893.0,210.9h5.2M901.8,197.5V218.4M899.2,197.5h5.2M899.2,218.4h5.2M908.1,199.5V220.4M905.5,199.5h5.2M905.5,220.4h5.2M914.3,202.3V223.3M911.7,202.3h5.2M911.7,223.3h5.2M920.5,204.3V225.3M917.9,204.3h5.2M917.9,225.3h5.2M926.8,197.5V218.4M924.1,197.5h5.2M924.1,218.4h5.2M933.0,201.7V222.7M930.4,201.7h5.2M930.4,222.7h5.2M939.2,196.0V216.9M936.6,196.0h5.2M936.6,216.9h5.2M945.4,198.7V219.7M942.8,198.7h5.2M942.8,219.7h5.2M951.7,203.3V224.3M949.1,203.3h5.2M949.1,224.3h5.2M957.9,198.7V219.7M955.3,198.7h5.2M955.3,219.7h5.2M964.1,204.3V225.3M961.5,204.3h5.2M961.5,225.3h5.2M970.4,205.3V226.3M967.8,205.3h5.2M967.8,226.3h5.2M976.6,206.3V227.3M974.0,206.3h5.2M974.0,227.3h5.2M982.8,206.3V227.3M980.2,206.3h5.2M980.2,227.3h5.2M989.0,207.3V228.3M986.4,207.3h5.2M986.4,228.3h5.2M995.3,212.3V233.2M992.7,212.3h5.2M992.7,233.2h5.2M1001.5,203.7V224.7M998.9,203.7h5.2M998.9,224.7h5.2M1007.7,209.7V230.6M1005.1,209.7h5.2M1005.1,230.6h5.2M1014.0,209.7V230.6M1011.4,209.7h5.2M1011.4,230.6h5.2M1020.2,209.7V230.6M1017.6,209.7h5.2M1017.6,230.6h5.2" fill="none" stroke="#4a4af2" stroke-width="1.0"/><polyline points="652.6,78.7 658.9,93.7 665.1,106.9 671.3,113.6 677.5,122.1 683.8,128.6 690.0,134.8 696.2,135.8 702.5,139.8 708.7,142.8 714.9,148.1 721.2,152.8 727.4,152.1 733.6,149.1 739.9,156.0 746.1,155.3 752.3,160.5 758.5,159.0 764.8,163.5 771.0,166.8 777.2,164.8 783.5,171.3 789.7,165.8 795.9,177.8 802.1,177.8 808.4,177.3 814.6,194.1 820.8,189.1 827.1,187.2 833.3,195.7 839.5,201.7 845.8,210.9 852.0,200.1 858.2,200.1 864.5,202.1 870.7,201.7 876.9,204.0 883.1,208.7 889.4,204.0 895.6,200.5 901.8,207.9 908.1,209.9 914.3,212.8 920.5,214.8 926.8,207.9 933.0,212.2 939.2,206.4 945.4,209.2 951.7,213.8 957.9,209.2 964.1,214.8 970.4,215.8 976.6,216.8 982.8,216.8 989.0,217.8 995.3,222.8 1001.5,214.2 1007.7,220.2 1014.0,220.2 1020.2,220.2" fill="none" stroke="#0000f0" stroke-width="2.6" stroke-linejoin="miter" stroke-linecap="butt"/>
<path d="M646.4,77.49999999999999V329.4" stroke="#000" stroke-width="2.4" fill="none"/>
<path d="M639.9,328.2H1021.4000000000001" stroke="#000" stroke-width="2.4" fill="none"/>
<line x1="639.9" y1="203.45" x2="646.4" y2="203.45" stroke="#000" stroke-width="2.4" />
<line x1="639.9" y1="78.69999999999999" x2="646.4" y2="78.69999999999999" stroke="#000" stroke-width="2.4" />
<line x1="646.4" y1="328.2" x2="646.4" y2="335.2" stroke="#000" stroke-width="2.4" />
<line x1="771.0" y1="328.2" x2="771.0" y2="335.2" stroke="#000" stroke-width="2.4" />
<line x1="895.6" y1="328.2" x2="895.6" y2="335.2" stroke="#000" stroke-width="2.4" />
<line x1="1020.2" y1="328.2" x2="1020.2" y2="335.2" stroke="#000" stroke-width="2.4" />
<text x="630.6" y="84.29999999999998" font-size="33" text-anchor="end" font-weight="normal" font-style="normal" fill="#000" >1.0</text>
<text x="630.6" y="209.04999999999998" font-size="33" text-anchor="end" font-weight="normal" font-style="normal" fill="#000" >0.5</text>
<text x="630.6" y="333.8" font-size="33" text-anchor="end" font-weight="normal" font-style="normal" fill="#000" >0.0</text>
<text transform="translate(650.6,365.2) scale(1.07,1)" font-size="31.3" text-anchor="middle">0</text>
<text transform="translate(772.6,365.2) scale(1.07,1)" font-size="31.3" text-anchor="middle">20</text>
<text transform="translate(896.8,365.2) scale(1.07,1)" font-size="31.3" text-anchor="middle">40</text>
<text transform="translate(1021.8,365.2) scale(1.07,1)" font-size="31.3" text-anchor="middle">60</text>
<text x="848.3" y="406.6" font-size="33" text-anchor="middle" font-weight="normal" font-style="normal" fill="#000" >time (min)</text>
<text transform="translate(570.2,214.2) scale(1,1) rotate(-90)" font-size="33" text-anchor="middle" >Fluorescence Difference</text>
<text x="551" y="23" font-size="30" text-anchor="start" font-weight="bold" font-style="normal" fill="#000" >b</text>
<text x="676.8" y="39.5" font-size="32.75"><tspan font-style="italic">eGFP-RAD21</tspan> iFRAP</text>
<line x1="966.6" y1="78.6" x2="993.6" y2="78.6" stroke="#0000f0" stroke-width="2.3" />
<line x1="966.6" y1="103.4" x2="993.6" y2="103.4" stroke="#ff0a0a" stroke-width="2.3" />
<line x1="966.6" y1="127.6" x2="993.6" y2="127.6" stroke="#00b400" stroke-width="2.3" />
<text x="1007.5" y="82.4" font-size="33" text-anchor="start" font-weight="normal" font-style="normal" fill="#000" >C</text>
<text x="1007.5" y="112.8" font-size="33" text-anchor="start" font-weight="normal" font-style="normal" fill="#000" >P2</text>
<text x="1007.5" y="140.8" font-size="33" text-anchor="start" font-weight="normal" font-style="normal" fill="#000" >P3</text>
<path d="M1267.6,108.80000000000001V302.1" stroke="#000" stroke-width="2.3" fill="none"/>
<path d="M1261.6,301.0H1499" stroke="#000" stroke-width="2.3" fill="none"/>
<line x1="1261.6" y1="262.78" x2="1267.6" y2="262.78" stroke="#000" stroke-width="2.3" />
<line x1="1261.6" y1="224.56" x2="1267.6" y2="224.56" stroke="#000" stroke-width="2.3" />
<line x1="1261.6" y1="186.34" x2="1267.6" y2="186.34" stroke="#000" stroke-width="2.3" />
<line x1="1261.6" y1="148.12" x2="1267.6" y2="148.12" stroke="#000" stroke-width="2.3" />
<line x1="1261.6" y1="109.9" x2="1267.6" y2="109.9" stroke="#000" stroke-width="2.3" />
<line x1="1305.1" y1="301.0" x2="1305.1" y2="307.8" stroke="#000" stroke-width="2.3" />
<line x1="1379.9" y1="301.0" x2="1379.9" y2="307.8" stroke="#000" stroke-width="2.3" />
<line x1="1454.5" y1="301.0" x2="1454.5" y2="307.8" stroke="#000" stroke-width="2.3" />
<text x="1257.8" y="310.3" font-size="33" text-anchor="end" font-weight="normal" font-style="normal" fill="#000" >0.0</text>
<text x="1257.8" y="271.92" font-size="33" text-anchor="end" font-weight="normal" font-style="normal" fill="#000" >0.1</text>
<text x="1257.8" y="233.54000000000002" font-size="33" text-anchor="end" font-weight="normal" font-style="normal" fill="#000" >0.2</text>
<text x="1257.8" y="195.16000000000003" font-size="33" text-anchor="end" font-weight="normal" font-style="normal" fill="#000" >0.3</text>
<text x="1257.8" y="156.78" font-size="33" text-anchor="end" font-weight="normal" font-style="normal" fill="#000" >0.4</text>
<text x="1257.8" y="118.4" font-size="33" text-anchor="end" font-weight="normal" font-style="normal" fill="#000" >0.5</text>
<text transform="translate(1305.3,341.0) scale(0.88,1)" font-size="34.5" text-anchor="middle">C</text>
<text transform="translate(1377.6,342.3) scale(0.88,1)" font-size="34.5" text-anchor="middle">P2</text>
<text transform="translate(1454.6,340.5) scale(0.88,1)" font-size="34.5" text-anchor="middle">P3</text>
<text transform="translate(1148.2,199.7) scale(1,1) rotate(-90)" font-size="33" text-anchor="middle" >Bound fraction</text>
<text transform="translate(1187.8,199.7) scale(1,1) rotate(-90)" font-size="33" text-anchor="middle" >(arb. units)</text>
<text x="1118.5" y="17.6" font-size="30" text-anchor="start" font-weight="bold" font-style="normal" fill="#000" >c</text>
<path d="M1279.0,210.4H1331.0M1305.0,193.7V226.4M1291.5,193.7H1318.5M1291.5,226.4H1318.5" stroke="#000" stroke-width="2.3" fill="none"/>
<path d="M1354.0,252.7H1406.0M1380.0,243.1V262.3M1366.5,243.1H1393.5M1366.5,262.3H1393.5" stroke="#000" stroke-width="2.3" fill="none"/>
<path d="M1429.0,254.4H1481.0M1455.0,246.3V262.8M1441.5,246.3H1468.5M1441.5,262.8H1468.5" stroke="#000" stroke-width="2.3" fill="none"/>
<rect x="1301.2" y="116.2" width="7.0" height="7.0" fill="#0000f5" stroke="#000" stroke-width="0.9"/>
<rect x="1297.6" y="157.2" width="7.0" height="7.0" fill="#0000f5" stroke="#000" stroke-width="0.9"/>
<rect x="1304.7" y="158.7" width="7.0" height="7.0" fill="#0000f5" stroke="#000" stroke-width="0.9"/>
<rect x="1301.2" y="174.0" width="7.0" height="7.0" fill="#0000f5" stroke="#000" stroke-width="0.9"/>
<rect x="1301.2" y="207.9" width="7.0" height="7.0" fill="#0000f5" stroke="#000" stroke-width="0.9"/>
<rect x="1301.2" y="233.5" width="7.0" height="7.0" fill="#0000f5" stroke="#000" stroke-width="0.9"/>
<rect x="1308.1" y="245.5" width="7.0" height="7.0" fill="#0000f5" stroke="#000" stroke-width="0.9"/>
<rect x="1294.1" y="249.2" width="7.0" height="7.0" fill="#0000f5" stroke="#000" stroke-width="0.9"/>
<rect x="1301.2" y="253.1" width="7.0" height="7.0" fill="#0000f5" stroke="#000" stroke-width="0.9"/>
<rect x="1301.2" y="264.9" width="7.0" height="7.0" fill="#0000f5" stroke="#000" stroke-width="0.9"/>
<rect x="1380.2" y="201.2" width="7.0" height="7.0" fill="#ff0505" stroke="#000" stroke-width="0.9"/>
<rect x="1373.3" y="209.1" width="7.0" height="7.0" fill="#ff0505" stroke="#000" stroke-width="0.9"/>
<rect x="1377.7" y="239.1" width="7.0" height="7.0" fill="#ff0505" stroke="#000" stroke-width="0.9"/>
<rect x="1381.4" y="241.6" width="7.0" height="7.0" fill="#ff0505" stroke="#000" stroke-width="0.9"/>
<rect x="1374.8" y="247.5" width="7.0" height="7.0" fill="#ff0505" stroke="#000" stroke-width="0.9"/>
<rect x="1376.7" y="270.1" width="7.0" height="7.0" fill="#ff0505" stroke="#000" stroke-width="0.9"/>
<rect x="1369.6" y="273.0" width="7.0" height="7.0" fill="#ff0505" stroke="#000" stroke-width="0.9"/>
<rect x="1383.6" y="276.0" width="7.0" height="7.0" fill="#ff0505" stroke="#000" stroke-width="0.9"/>
<rect x="1376.5" y="280.9" width="7.0" height="7.0" fill="#ff0505" stroke="#000" stroke-width="0.9"/>
<rect x="1453.0" y="217.2" width="7.0" height="7.0" fill="#00b400" stroke="#000" stroke-width="0.9"/>
<rect x="1452.7" y="233.5" width="7.0" height="7.0" fill="#00b400" stroke="#000" stroke-width="0.9"/>
<rect x="1446.6" y="248.2" width="7.0" height="7.0" fill="#00b400" stroke="#000" stroke-width="0.9"/>
<rect x="1456.4" y="246.7" width="7.0" height="7.0" fill="#00b400" stroke="#000" stroke-width="0.9"/>
<rect x="1449.8" y="257.6" width="7.0" height="7.0" fill="#00b400" stroke="#000" stroke-width="0.9"/>
<rect x="1456.4" y="263.7" width="7.0" height="7.0" fill="#00b400" stroke="#000" stroke-width="0.9"/>
<rect x="1452.7" y="285.8" width="7.0" height="7.0" fill="#00b400" stroke="#000" stroke-width="0.9"/>
<path d="M1300.3,54.4H1457.6V175.5" stroke="#000" stroke-width="1.3" fill="none"/>
<path d="M1300.3,94.1H1381V175.5" stroke="#000" stroke-width="1.3" fill="none"/>
<text x="1379.8" y="49.2" font-size="20.5" text-anchor="middle" font-weight="normal" font-style="italic" fill="#000" >p = 0.029</text>
<text x="1341.4" y="88.9" font-size="20.5" text-anchor="middle" font-weight="normal" font-style="italic" fill="#000" >p = 0.039</text>
<text x="304.3" y="517.8" font-size="30" text-anchor="start" font-weight="bold" font-style="normal" fill="#000" >d</text>
<g clip-path="url(#cpR)"><rect x="332.1" y="685.1" width="299.79999999999995" height="43.299999999999955" fill="url(#gR)"/><rect x="340.3" y="704.4" width="38.30000000000001" height="8.4" rx="4" fill="#454060" opacity="0.70" filter="url(#bl2_5)"/><rect x="344.3" y="706.8" width="30.30000000000001" height="4" rx="2" fill="#2e2a48" opacity="0.43" filter="url(#bl1_5)"/><rect x="390.5" y="704.4" width="35.10000000000002" height="8.4" rx="4" fill="#454060" opacity="0.79" filter="url(#bl2_5)"/><rect x="394.5" y="706.8" width="27.100000000000023" height="4" rx="2" fill="#2e2a48" opacity="0.48" filter="url(#bl1_5)"/><rect x="435.4" y="704.4" width="38.200000000000045" height="8.4" rx="4" fill="#454060" opacity="0.72" filter="url(#bl2_5)"/><rect x="439.4" y="706.8" width="30.200000000000045" height="4" rx="2" fill="#2e2a48" opacity="0.44" filter="url(#bl1_5)"/><rect x="487.7" y="704.4" width="36.099999999999966" height="8.4" rx="4" fill="#454060" opacity="0.83" filter="url(#bl2_5)"/><rect x="491.7" y="706.8" width="28.099999999999966" height="4" rx="2" fill="#2e2a48" opacity="0.51" filter="url(#bl1_5)"/><rect x="536.8" y="704.4" width="32.90000000000009" height="8.4" rx="4" fill="#454060" opacity="0.20" filter="url(#bl2_5)"/><rect x="540.8" y="706.8" width="24.90000000000009" height="4" rx="2" fill="#2e2a48" opacity="0.12" filter="url(#bl1_5)"/><rect x="603" y="704.4" width="24" height="8.4" rx="4" fill="#454060" opacity="0.06" filter="url(#bl2_5)"/><rect x="607" y="706.8" width="16" height="4" rx="2" fill="#2e2a48" opacity="0.04" filter="url(#bl1_5)"/></g>
<g clip-path="url(#cpH)"><rect x="332.1" y="737.0" width="299.79999999999995" height="43.5" fill="url(#gH)"/><rect x="383" y="737.0" width="6" height="43.5" fill="#fff" opacity="0.35" filter="url(#bl2)"/><rect x="433" y="737.0" width="6" height="43.5" fill="#fff" opacity="0.35" filter="url(#bl2)"/><rect x="481" y="737.0" width="6" height="43.5" fill="#fff" opacity="0.35" filter="url(#bl2)"/><rect x="531" y="737.0" width="6" height="43.5" fill="#fff" opacity="0.35" filter="url(#bl2)"/><rect x="581" y="737.0" width="6" height="43.5" fill="#fff" opacity="0.35" filter="url(#bl2)"/><rect x="332" y="749.3" width="61" height="16.6" rx="8.3" fill="#060606" filter="url(#bl2)"/><rect x="386" y="750.7" width="56" height="12.6" rx="6.3" fill="#060606" filter="url(#bl2)"/><rect x="434" y="751.9" width="51" height="12.0" rx="6.0" fill="#060606" filter="url(#bl2)"/><rect x="478" y="750.8" width="62" height="15.6" rx="7.8" fill="#060606" filter="url(#bl2)"/><rect x="531" y="750.6" width="55" height="14.0" rx="7.0" fill="#060606" filter="url(#bl2)"/><rect x="579" y="751.7" width="58" height="9.8" rx="4.9" fill="#060606" filter="url(#bl2)"/><rect x="345" y="767.6" width="40" height="5.5" rx="2.7" fill="#2a2a2a" opacity="0.10" filter="url(#bl2_5)"/><rect x="395" y="767.6" width="37" height="5.5" rx="2.7" fill="#2a2a2a" opacity="0.28" filter="url(#bl2_5)"/><rect x="440" y="767.6" width="38" height="5.5" rx="2.7" fill="#2a2a2a" opacity="0.30" filter="url(#bl2_5)"/><rect x="488" y="767.6" width="42" height="5.5" rx="2.7" fill="#2a2a2a" opacity="0.33" filter="url(#bl2_5)"/><rect x="540" y="767.6" width="38" height="5.5" rx="2.7" fill="#2a2a2a" opacity="0.22" filter="url(#bl2_5)"/><rect x="592" y="767.6" width="33" height="5.5" rx="2.7" fill="#2a2a2a" opacity="0.07" filter="url(#bl2_5)"/></g>
<rect x="332.1" y="685.1" width="299.79999999999995" height="43.299999999999955" fill="none" stroke="#000" stroke-width="1.25"/>
<line x1="480.5" y1="685.1" x2="480.5" y2="728.4" stroke="#000" stroke-width="1.6" />
<rect x="332.1" y="737.0" width="299.79999999999995" height="43.5" fill="none" stroke="#000" stroke-width="1.25"/>
<line x1="480.5" y1="737.0" x2="480.5" y2="780.5" stroke="#000" stroke-width="1.6" />
<text x="324.5" y="715.7" font-size="22" text-anchor="end" font-weight="normal" font-style="normal" fill="#000" >130kD -</text>
<text x="324.5" y="764.6" font-size="22" text-anchor="end" font-weight="normal" font-style="normal" fill="#000" >17kD -</text>
<text x="636.5" y="717.6" font-size="33" text-anchor="start" font-weight="normal" font-style="normal" fill="#000" >- RAD21</text>
<text x="636.5" y="763.9" font-size="33" text-anchor="start" font-weight="normal" font-style="normal" fill="#000" >- H3</text>
<text x="635" y="669.1" font-size="33" text-anchor="start" font-weight="normal" font-style="normal" fill="#000" >NaCl (M)</text>
<text x="405.5" y="601.7" font-size="33" text-anchor="middle" font-weight="normal" font-style="normal" fill="#000" >C</text>
<text x="558.8" y="601.9" font-size="33" text-anchor="middle" font-weight="normal" font-style="normal" fill="#000" >P1</text>
<line x1="341" y1="609.7" x2="470" y2="609.7" stroke="#000" stroke-width="1.6" />
<line x1="487.6" y1="609.7" x2="627.3" y2="609.7" stroke="#000" stroke-width="1.6" />
<text transform="translate(368.2,677.5) scale(1,1) rotate(-90)" font-size="33" text-anchor="start" >0</text>
<text transform="translate(417,677.5) scale(1,1) rotate(-90)" font-size="33" text-anchor="start" >0.25</text>
<text transform="translate(468,677.5) scale(1,1) rotate(-90)" font-size="33" text-anchor="start" >0.5</text>
<text transform="translate(518.4,677.5) scale(1,1) rotate(-90)" font-size="33" text-anchor="start" >0</text>
<text transform="translate(570.1,677.5) scale(1,1) rotate(-90)" font-size="33" text-anchor="start" >0.25</text>
<text transform="translate(621.1,677.5) scale(1,1) rotate(-90)" font-size="33" text-anchor="start" >0.5</text>
<rect x="985.7" y="644.6" width="29.4" height="92.7" fill="#fff" stroke="#000" stroke-width="4.0"/>
<path d="M1045.8,611.9685000000001V593.1M1037.8,593.1H1053.8" stroke="#000" stroke-width="2.5" fill="none"/>
<rect x="1031.1" y="612.0" width="29.4" height="125.3" fill="#fff" stroke="#000" stroke-width="4.0"/>
<path d="M1090.8,663.861V648.0M1082.8,648.0H1098.8" stroke="#000" stroke-width="2.5" fill="none"/>
<rect x="1076.1" y="663.9" width="29.4" height="73.4" fill="#fff" stroke="#000" stroke-width="4.0"/>
<rect x="1121.2" y="644.6" width="29.4" height="92.7" fill="#55a0ff" stroke="#000" stroke-width="4.0"/>
<path d="M1181.0,713.3225V707.7M1173.0,707.7H1189.0" stroke="#000" stroke-width="2.5" fill="none"/>
<rect x="1166.3" y="713.3" width="29.4" height="24.0" fill="#55a0ff" stroke="#000" stroke-width="4.0"/>
<path d="M1226.0,706.0295V687.1M1218.0,687.1H1234.0" stroke="#000" stroke-width="2.5" fill="none"/>
<rect x="1211.3" y="706.0" width="29.4" height="31.3" fill="#55a0ff" stroke="#000" stroke-width="4.0"/>
<path d="M978.5,549.85V739.35" stroke="#000" stroke-width="2.5" fill="none"/>
<path d="M972.0,738.1H1251" stroke="#000" stroke-width="2.5" fill="none"/>
<line x1="972.0" y1="691.35" x2="978.5" y2="691.35" stroke="#000" stroke-width="2.5" />
<line x1="972.0" y1="644.6" x2="978.5" y2="644.6" stroke="#000" stroke-width="2.5" />
<line x1="972.0" y1="597.85" x2="978.5" y2="597.85" stroke="#000" stroke-width="2.5" />
<line x1="972.0" y1="551.1" x2="978.5" y2="551.1" stroke="#000" stroke-width="2.5" />
<line x1="1000.4" y1="738.1" x2="1000.4" y2="745.1" stroke="#000" stroke-width="2.5" />
<line x1="1045.8" y1="738.1" x2="1045.8" y2="745.1" stroke="#000" stroke-width="2.5" />
<line x1="1090.8" y1="738.1" x2="1090.8" y2="745.1" stroke="#000" stroke-width="2.5" />
<line x1="1135.9" y1="738.1" x2="1135.9" y2="745.1" stroke="#000" stroke-width="2.5" />
<line x1="1181.0" y1="738.1" x2="1181.0" y2="745.1" stroke="#000" stroke-width="2.5" />
<line x1="1226.0" y1="738.1" x2="1226.0" y2="745.1" stroke="#000" stroke-width="2.5" />
<text transform="translate(964.3,565.1) scale(1.08,1)" font-size="27.5" text-anchor="end">2.0</text>
<text transform="translate(964.3,609.8) scale(1.08,1)" font-size="27.5" text-anchor="end">1.5</text>
<text transform="translate(964.3,654.4) scale(1.08,1)" font-size="27.5" text-anchor="end">1.0</text>
<text transform="translate(964.3,699.1) scale(1.08,1)" font-size="27.5" text-anchor="end">0.5</text>
<text transform="translate(964.3,743.8) scale(1.08,1)" font-size="27.5" text-anchor="end">0.0</text>
<text transform="translate(904.9,691) scale(1.08,1) rotate(-90)" font-size="32.8" text-anchor="middle" >RAD21 relative levels</text>
<text transform="translate(1012.4,751.4) scale(1,1) rotate(-90)" font-size="33" text-anchor="end" >0</text>
<text transform="translate(1057.8,751.4) scale(1,1) rotate(-90)" font-size="33" text-anchor="end" >0.25</text>
<text transform="translate(1102.8,751.4) scale(1,1) rotate(-90)" font-size="33" text-anchor="end" >0.5</text>
<text transform="translate(1147.9,751.4) scale(1,1) rotate(-90)" font-size="33" text-anchor="end" >0</text>
<text transform="translate(1193.0,751.4) scale(1,1) rotate(-90)" font-size="33" text-anchor="end" >0.25</text>
<text transform="translate(1238.0,751.4) scale(1,1) rotate(-90)" font-size="33" text-anchor="end" >0.5</text>
<text x="1256.5" y="776.9" font-size="33" text-anchor="start" font-weight="normal" font-style="normal" fill="#000" >NaCl (M)</text>
<line x1="972" y1="824.6" x2="1101" y2="824.6" stroke="#000" stroke-width="1.5" />
<line x1="1121" y1="824.6" x2="1250" y2="824.6" stroke="#000" stroke-width="1.5" />
<text x="1029.5" y="852.4" font-size="33" text-anchor="middle" font-weight="normal" font-style="normal" fill="#000" >Control</text>
<text x="1182.5" y="852.4" font-size="33" text-anchor="middle" font-weight="normal" font-style="normal" fill="#000" >Patients</text>
<circle cx="997.9" cy="643.3" r="3.7" fill="#a6a6a6" stroke="#555" stroke-width="0.8"/>
<circle cx="1005.8" cy="643.3" r="3.7" fill="#a6a6a6" stroke="#555" stroke-width="0.8"/>
<circle cx="1130" cy="643.3" r="3.7" fill="#a6a6a6" stroke="#555" stroke-width="0.8"/>
<circle cx="1136.4" cy="643.3" r="3.7" fill="#a6a6a6" stroke="#555" stroke-width="0.8"/>
<circle cx="1142.8" cy="643.3" r="3.7" fill="#a6a6a6" stroke="#555" stroke-width="0.8"/>
<rect x="1042.2" y="588.7" width="7.2" height="7.2" fill="#a6a6a6" stroke="#555" stroke-width="0.8"/>
<rect x="1042.2" y="625.6" width="7.2" height="7.2" fill="#a6a6a6" stroke="#555" stroke-width="0.8"/>
<rect x="1177.9" y="699.5" width="7.2" height="7.2" fill="#a6a6a6" stroke="#555" stroke-width="0.8"/>
<rect x="1177.9" y="709.2" width="7.2" height="7.2" fill="#a6a6a6" stroke="#555" stroke-width="0.8"/>
<rect x="1177.9" y="719.6" width="7.2" height="7.2" fill="#a6a6a6" stroke="#555" stroke-width="0.8"/>
<path d="M1090.8,643.8L1094.6,651.2H1087.0Z" fill="#a6a6a6" stroke="#555" stroke-width="0.8"/>
<path d="M1090.8,674.7L1094.6,682.1H1087.0Z" fill="#a6a6a6" stroke="#555" stroke-width="0.8"/>
<path d="M1226.5,665.4L1230.3,672.8H1222.7Z" fill="#a6a6a6" stroke="#555" stroke-width="0.8"/>
<path d="M1226.5,714.6L1230.3,722.0H1222.7Z" fill="#a6a6a6" stroke="#555" stroke-width="0.8"/>
<path d="M1226.5,724.1L1230.3,731.5H1222.7Z" fill="#a6a6a6" stroke="#555" stroke-width="0.8"/>
<path d="M997.9,565.8H1045" stroke="#000" stroke-width="1.3" fill="none"/>
<path d="M997.7,528.8H1090.6V610.6" stroke="#000" stroke-width="1.3" fill="none"/>
<path d="M1132.5,565.8H1181V647.2" stroke="#000" stroke-width="1.3" fill="none"/>
<path d="M1132.8,528.8H1225.9V647.7" stroke="#000" stroke-width="1.3" fill="none"/>
<text x="1021.3" y="560.9" font-size="20.5" text-anchor="middle" font-weight="normal" font-style="normal" fill="#000" >ns</text>
<text x="1044.3" y="524.1" font-size="20.5" text-anchor="middle" font-weight="normal" font-style="normal" fill="#000" >ns</text>
<text x="1157.6" y="557.0" font-size="20.5" text-anchor="middle" font-weight="normal" font-style="italic" fill="#000" >p = 0.0003</text>
<text x="1179.2" y="520.7" font-size="20.5" text-anchor="middle" font-weight="normal" font-style="italic" fill="#000" >p = 0.03</text>
</svg>
</body></html>
